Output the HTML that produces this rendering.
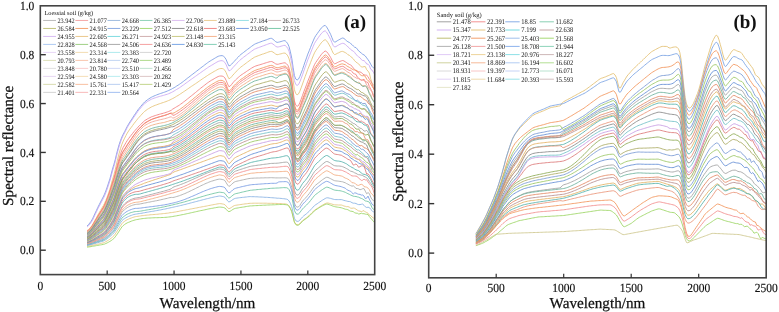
<!DOCTYPE html><html><head><meta charset="utf-8"><style>html,body{margin:0;padding:0;background:#fff;width:779px;height:312px;overflow:hidden}svg{display:block;will-change:transform}text{font-family:"Liberation Serif", serif;fill:#111;text-rendering:geometricPrecision}</style></head><body>
<svg width="779" height="312" viewBox="0 0 779 312">
<g fill="none" stroke-width="0.85" stroke-linejoin="round"><polyline points="87.1,225.9 88.5,224.6 89.8,223.0 91.1,221.3 92.5,218.9 93.8,216.1 95.1,213.2 96.5,210.3 97.8,207.4 99.2,204.7 100.5,202.1 101.8,199.5 103.2,197.0 104.5,194.2 105.8,191.0 107.2,187.1 108.5,183.1 109.9,178.9 111.2,174.0 112.5,169.0 113.9,164.4 115.2,159.8 116.5,154.2 117.9,148.9 119.2,144.4 120.6,140.3 121.9,137.0 123.2,134.3 124.6,131.7 125.9,129.1 127.2,126.5 128.6,124.1 129.9,122.0 131.3,119.9 132.6,117.9 133.9,115.8 135.3,113.8 136.6,111.8 137.9,109.9 139.3,108.2 140.6,106.5 142.0,104.9 143.3,103.4 144.6,102.0 146.0,100.9 147.3,99.9 148.6,99.0 150.0,98.1 151.3,97.3 152.7,96.6 154.0,96.0 155.3,95.5 156.7,94.9 158.0,94.4 159.3,93.9 160.7,93.4 162.0,93.0 163.4,92.5 164.7,92.1 166.0,91.6 167.4,91.0 168.7,90.5 170.0,89.8 171.4,89.2 172.7,88.4 174.1,87.7 175.4,86.9 176.7,86.0 178.1,85.2 179.4,84.3 180.7,83.4 182.1,82.4 183.4,81.4 184.8,80.3 186.1,79.3 187.4,78.2 188.8,77.2 190.1,76.2 191.4,75.1 192.8,74.1 194.1,73.1 195.5,72.0 196.8,71.0 198.1,70.0 199.5,68.9 200.8,67.9 202.1,66.9 203.5,65.9 204.8,64.8 206.2,63.8 207.5,62.8 208.8,61.9 210.2,61.0 211.5,60.2 212.9,59.4 214.2,58.6 215.5,57.8 216.9,57.0 218.2,56.3 219.5,55.9 220.9,55.7 222.2,55.6 223.6,56.3 224.9,57.5 226.2,59.7 227.6,63.2 228.9,65.9 230.2,65.5 231.6,64.2 232.9,62.8 234.3,61.3 235.6,59.9 236.9,58.4 238.3,57.0 239.6,55.6 240.9,54.4 242.3,53.4 243.6,52.4 245.0,51.3 246.3,50.3 247.6,49.3 249.0,48.3 250.3,47.3 251.6,46.3 253.0,45.3 254.3,44.4 255.7,43.7 257.0,43.2 258.3,42.7 259.7,42.2 261.0,41.7 262.3,41.2 263.7,40.7 265.0,40.3 266.4,39.8 267.7,39.3 269.0,38.8 270.4,38.4 271.7,38.4 273.0,39.3 274.4,40.5 275.7,41.7 277.1,42.4 278.4,42.2 279.7,41.9 281.1,41.5 282.4,41.1 283.7,40.7 285.1,40.7 286.4,41.9 287.8,43.8 289.1,46.8 290.4,51.9 291.8,58.5 293.1,67.3 294.4,75.5 295.8,79.1 297.1,80.0 298.5,79.1 299.8,76.5 301.1,73.2 302.5,69.5 303.8,65.6 305.1,61.8 306.5,57.9 307.8,54.1 309.2,50.8 310.5,47.5 311.8,44.2 313.2,40.9 314.5,37.8 315.8,35.6 317.2,33.7 318.5,31.8 319.9,29.9 321.2,28.1 322.5,26.9 323.9,25.8 325.2,25.4 326.5,26.8 327.9,29.1 329.2,31.6 330.6,34.3 331.9,37.6 333.2,40.7 334.6,42.2 335.9,41.7 337.2,40.8 338.6,40.0 339.9,39.3 341.3,38.5 342.6,38.0 343.9,38.4 345.3,39.6 346.6,40.8 347.9,41.8 349.3,42.4 350.6,43.5 352.0,44.6 353.3,46.0 354.6,47.2 356.0,47.6 357.3,49.1 358.6,50.9 360.0,52.0 361.3,53.1 362.7,54.3 364.0,54.9 365.3,56.0 366.7,57.9 368.0,59.7 369.3,61.5 370.7,64.2 372.0,66.4 373.4,67.8 374.7,68.9" stroke="#799ae3"/>
<polyline points="87.1,227.0 88.5,225.7 89.8,224.2 91.1,222.4 92.5,220.2 93.8,217.4 95.1,214.6 96.5,211.7 97.8,208.9 99.2,206.3 100.5,203.7 101.8,201.2 103.2,198.7 104.5,196.0 105.8,192.8 107.2,189.0 108.5,185.1 109.9,180.9 111.2,176.0 112.5,171.1 113.9,166.5 115.2,161.8 116.5,156.2 117.9,150.8 119.2,146.1 120.6,141.8 121.9,138.3 123.2,135.5 124.6,132.8 125.9,130.2 127.2,127.6 128.6,125.2 129.9,123.1 131.3,121.1 132.6,119.1 133.9,117.1 135.3,115.1 136.6,113.2 137.9,111.3 139.3,109.6 140.6,108.0 142.0,106.4 143.3,104.9 144.6,103.6 146.0,102.6 147.3,101.6 148.6,100.8 150.0,100.0 151.3,99.3 152.7,98.7 154.0,98.2 155.3,97.8 156.7,97.3 158.0,96.9 159.3,96.5 160.7,96.1 162.0,95.8 163.4,95.4 164.7,95.0 166.0,94.6 167.4,94.2 168.7,93.7 170.0,93.1 171.4,92.5 172.7,91.8 174.1,91.0 175.4,90.2 176.7,89.4 178.1,88.6 179.4,87.8 180.7,86.9 182.1,85.9 183.4,85.0 184.8,84.0 186.1,83.0 187.4,82.1 188.8,81.1 190.1,80.1 191.4,79.2 192.8,78.2 194.1,77.3 195.5,76.3 196.8,75.4 198.1,74.4 199.5,73.5 200.8,72.5 202.1,71.6 203.5,70.6 204.8,69.7 206.2,68.7 207.5,67.8 208.8,66.9 210.2,66.1 211.5,65.3 212.9,64.5 214.2,63.7 215.5,62.9 216.9,62.1 218.2,61.4 219.5,61.0 220.9,60.7 222.2,60.7 223.6,61.3 224.9,62.5 226.2,64.8 227.6,68.2 228.9,70.8 230.2,70.5 231.6,69.1 232.9,67.6 234.3,66.1 235.6,64.7 236.9,63.2 238.3,61.8 239.6,60.5 240.9,59.3 242.3,58.3 243.6,57.2 245.0,56.2 246.3,55.2 247.6,54.2 249.0,53.2 250.3,52.2 251.6,51.2 253.0,50.2 254.3,49.3 255.7,48.7 257.0,48.1 258.3,47.7 259.7,47.2 261.0,46.7 262.3,46.2 263.7,45.7 265.0,45.2 266.4,44.7 267.7,44.2 269.0,43.7 270.4,43.3 271.7,43.3 273.0,44.1 274.4,45.2 275.7,46.3 277.1,47.0 278.4,46.9 279.7,46.6 281.1,46.2 282.4,45.8 283.7,45.4 285.1,45.4 286.4,46.5 287.8,48.4 289.1,51.4 290.4,56.5 291.8,63.2 293.1,72.2 294.4,80.7 295.8,84.5 297.1,85.4 298.5,84.5 299.8,81.9 301.1,78.6 302.5,74.8 303.8,71.0 305.1,67.3 306.5,63.5 307.8,59.8 309.2,56.4 310.5,53.1 311.8,49.8 313.2,46.4 314.5,43.4 315.8,41.2 317.2,39.3 318.5,37.3 319.9,35.4 321.2,33.7 322.5,32.4 323.9,31.3 325.2,30.8 326.5,32.1 327.9,34.3 329.2,36.7 330.6,39.4 331.9,42.6 333.2,45.5 334.6,47.0 335.9,46.6 337.2,45.8 338.6,45.0 339.9,44.3 341.3,43.7 342.6,43.3 343.9,43.5 345.3,44.4 346.6,45.7 347.9,46.8 349.3,48.0 350.6,49.4 352.0,50.5 353.3,51.1 354.6,52.4 356.0,54.5 357.3,55.6 358.6,56.8 360.0,57.8 361.3,59.5 362.7,60.5 364.0,60.6 365.3,61.8 366.7,64.0 368.0,64.2 369.3,65.6 370.7,69.2 372.0,70.0 373.4,72.3 374.7,74.5" stroke="#caa6f2"/>
<polyline points="87.1,230.6 88.5,229.5 89.8,228.2 91.1,226.7 92.5,224.7 93.8,222.4 95.1,219.9 96.5,217.5 97.8,215.0 99.2,212.7 100.5,210.4 101.8,208.2 103.2,205.9 104.5,203.4 105.8,200.4 107.2,196.9 108.5,193.2 109.9,189.1 111.2,184.4 112.5,179.6 113.9,174.9 115.2,169.9 116.5,164.0 117.9,158.2 119.2,153.1 120.6,148.3 121.9,144.3 123.2,141.1 124.6,138.2 125.9,135.6 127.2,133.2 128.6,131.0 129.9,129.1 131.3,127.3 132.6,125.5 133.9,123.7 135.3,121.9 136.6,120.3 137.9,118.6 139.3,117.1 140.6,115.6 142.0,114.1 143.3,112.7 144.6,111.4 146.0,110.4 147.3,109.4 148.6,108.6 150.0,107.8 151.3,107.0 152.7,106.4 154.0,105.8 155.3,105.3 156.7,104.8 158.0,104.3 159.3,103.8 160.7,103.4 162.0,102.9 163.4,102.5 164.7,102.0 166.0,101.6 167.4,101.0 168.7,100.5 170.0,99.9 171.4,99.2 172.7,98.5 174.1,97.8 175.4,97.0 176.7,96.2 178.1,95.4 179.4,94.6 180.7,93.7 182.1,92.8 183.4,91.9 184.8,91.0 186.1,90.1 187.4,89.2 188.8,88.2 190.1,87.3 191.4,86.4 192.8,85.5 194.1,84.6 195.5,83.7 196.8,82.8 198.1,81.9 199.5,80.9 200.8,80.0 202.1,79.1 203.5,78.2 204.8,77.3 206.2,76.4 207.5,75.5 208.8,74.6 210.2,73.8 211.5,73.0 212.9,72.2 214.2,71.4 215.5,70.7 216.9,69.9 218.2,69.2 219.5,68.7 220.9,68.5 222.2,68.5 223.6,69.1 224.9,70.3 226.2,72.7 227.6,76.1 228.9,78.7 230.2,78.2 231.6,76.7 232.9,75.1 234.3,73.6 235.6,72.2 236.9,70.8 238.3,69.4 239.6,68.1 240.9,67.0 242.3,66.0 243.6,65.0 245.0,64.0 246.3,63.0 247.6,62.0 249.0,61.0 250.3,60.1 251.6,59.1 253.0,58.2 254.3,57.3 255.7,56.7 257.0,56.2 258.3,55.7 259.7,55.2 261.0,54.7 262.3,54.2 263.7,53.8 265.0,53.3 266.4,52.8 267.7,52.3 269.0,51.8 270.4,51.5 271.7,51.4 273.0,52.1 274.4,53.1 275.7,54.1 277.1,54.7 278.4,54.5 279.7,54.1 281.1,53.8 282.4,53.4 283.7,53.1 285.1,53.1 286.4,54.1 287.8,55.9 289.1,58.9 290.4,64.1 291.8,70.9 293.1,80.5 294.4,89.7 295.8,93.7 297.1,94.8 298.5,93.9 299.8,91.3 301.1,87.9 302.5,84.0 303.8,80.3 305.1,76.7 306.5,73.0 307.8,69.3 309.2,66.0 310.5,62.7 311.8,59.3 313.2,55.9 314.5,52.8 315.8,50.6 317.2,48.6 318.5,46.7 319.9,44.7 321.2,42.9 322.5,41.5 323.9,40.3 325.2,39.7 326.5,40.7 327.9,42.7 329.2,44.9 330.6,47.4 331.9,50.4 333.2,53.2 334.6,54.6 335.9,54.2 337.2,53.4 338.6,52.8 339.9,52.1 341.3,51.5 342.6,51.4 343.9,51.9 345.3,52.6 346.6,53.4 347.9,54.7 349.3,55.3 350.6,56.5 352.0,57.6 353.3,58.8 354.6,60.7 356.0,62.1 357.3,63.0 358.6,63.8 360.0,65.6 361.3,66.9 362.7,67.0 364.0,66.6 365.3,66.6 366.7,69.7 368.0,71.1 369.3,73.0 370.7,78.8 372.0,83.0 373.4,85.1 374.7,85.9" stroke="#e5c377"/>
<polyline points="87.1,231.4 88.5,230.3 89.8,229.0 91.1,227.5 92.5,225.6 93.8,223.4 95.1,221.1 96.5,218.7 97.8,216.4 99.2,214.2 100.5,212.0 101.8,209.9 103.2,207.7 104.5,205.3 105.8,202.3 107.2,198.8 108.5,195.1 109.9,191.2 111.2,186.9 112.5,182.4 113.9,178.1 115.2,173.4 116.5,168.0 117.9,162.7 119.2,158.0 120.6,153.7 121.9,150.1 123.2,147.4 124.6,145.0 125.9,142.7 127.2,140.6 128.6,138.6 129.9,136.8 131.3,135.1 132.6,133.4 133.9,131.8 135.3,130.2 136.6,128.7 137.9,127.2 139.3,125.8 140.6,124.5 142.0,123.1 143.3,121.9 144.6,120.7 146.0,119.8 147.3,119.0 148.6,118.3 150.0,117.6 151.3,116.9 152.7,116.4 154.0,116.0 155.3,115.5 156.7,115.1 158.0,114.7 159.3,114.3 160.7,113.9 162.0,113.6 163.4,113.2 164.7,112.8 166.0,112.4 167.4,111.9 168.7,111.4 170.0,110.9 171.4,110.2 172.7,109.1 174.1,108.3 175.4,107.5 176.7,106.7 178.1,105.9 179.4,105.1 180.7,104.1 182.1,103.2 183.4,102.1 184.8,101.1 186.1,100.1 187.4,99.0 188.8,97.9 190.1,96.8 191.4,95.8 192.8,94.7 194.1,93.6 195.5,92.5 196.8,91.4 198.1,90.3 199.5,89.2 200.8,88.1 202.1,87.1 203.5,86.0 204.8,85.0 206.2,83.9 207.5,82.9 208.8,82.0 210.2,81.1 211.5,80.2 212.9,79.5 214.2,78.7 215.5,77.9 216.9,77.2 218.2,76.5 219.5,76.1 220.9,76.0 222.2,76.1 223.6,76.7 224.9,77.9 226.2,80.5 227.6,84.1 228.9,86.7 230.2,86.1 231.6,84.5 232.9,82.8 234.3,81.2 235.6,79.9 236.9,78.7 238.3,77.4 239.6,76.3 240.9,75.2 242.3,74.3 243.6,73.4 245.0,72.5 246.3,71.6 247.6,70.7 249.0,69.8 250.3,68.9 251.6,68.1 253.0,67.3 254.3,66.6 255.7,66.0 257.0,65.6 258.3,65.2 259.7,64.8 261.0,64.4 262.3,64.0 263.7,63.5 265.0,63.1 266.4,62.7 267.7,62.3 269.0,61.9 270.4,61.6 271.7,61.5 273.0,62.1 274.4,63.0 275.7,63.9 277.1,64.3 278.4,64.2 279.7,63.8 281.1,63.5 282.4,63.2 283.7,62.9 285.1,62.8 286.4,63.7 287.8,65.2 289.1,68.2 290.4,73.4 291.8,80.4 293.1,90.8 294.4,100.8 295.8,105.2 297.1,106.3 298.5,105.5 299.8,102.8 301.1,99.3 302.5,95.4 303.8,91.8 305.1,88.4 306.5,84.8 307.8,81.2 309.2,77.9 310.5,74.6 311.8,71.2 313.2,67.8 314.5,64.6 315.8,62.4 317.2,60.4 318.5,58.5 319.9,56.5 321.2,54.7 322.5,53.2 323.9,51.8 325.2,51.0 326.5,51.6 327.9,53.2 329.2,55.2 330.6,57.4 331.9,60.0 333.2,62.5 334.6,63.8 335.9,63.4 337.2,62.7 338.6,62.0 339.9,61.4 341.3,60.9 342.6,60.5 343.9,60.9 345.3,61.8 346.6,62.6 347.9,63.6 349.3,64.4 350.6,65.0 352.0,66.2 353.3,68.0 354.6,69.4 356.0,70.9 357.3,71.8 358.6,71.8 360.0,72.0 361.3,72.4 362.7,74.0 364.0,74.8 365.3,75.1 366.7,75.3 368.0,76.6 369.3,79.3 370.7,81.1 372.0,83.7 373.4,87.7 374.7,90.5" stroke="#f27e7e"/>
<polyline points="87.1,231.5 88.5,230.4 89.8,229.0 91.1,227.5 92.5,225.6 93.8,223.4 95.1,221.1 96.5,218.8 97.8,216.5 99.2,214.3 100.5,212.1 101.8,210.0 103.2,207.9 104.5,205.5 105.8,202.4 107.2,199.0 108.5,195.4 109.9,191.7 111.2,187.5 112.5,183.4 113.9,179.4 115.2,175.0 116.5,170.0 117.9,165.1 119.2,160.8 120.6,156.9 121.9,153.6 123.2,151.2 124.6,149.0 125.9,146.9 127.2,144.7 128.6,142.6 129.9,140.7 131.3,138.8 132.6,137.0 133.9,135.1 135.3,133.3 136.6,131.7 137.9,130.1 139.3,128.7 140.6,127.3 142.0,126.0 143.3,124.7 144.6,123.6 146.0,122.6 147.3,121.8 148.6,121.1 150.0,120.3 151.3,119.7 152.7,119.1 154.0,118.6 155.3,118.2 156.7,117.7 158.0,117.3 159.3,116.9 160.7,116.5 162.0,116.1 163.4,115.7 164.7,115.3 166.0,114.9 167.4,114.4 168.7,113.9 170.0,113.3 171.4,113.0 172.7,113.3 174.1,112.9 175.4,112.1 176.7,111.3 178.1,110.5 179.4,109.7 180.7,108.8 182.1,107.8 183.4,106.8 184.8,105.7 186.1,104.7 187.4,103.6 188.8,102.5 190.1,101.4 191.4,100.4 192.8,99.3 194.1,98.1 195.5,97.0 196.8,95.9 198.1,94.8 199.5,93.7 200.8,92.6 202.1,91.5 203.5,90.5 204.8,89.4 206.2,88.4 207.5,87.3 208.8,86.4 210.2,85.5 211.5,84.6 212.9,83.8 214.2,83.1 215.5,82.3 216.9,81.6 218.2,80.9 219.5,80.5 220.9,80.3 222.2,80.5 223.6,81.0 224.9,82.3 226.2,84.9 227.6,88.5 228.9,91.0 230.2,90.3 231.6,88.7 232.9,87.0 234.3,85.3 235.6,84.0 236.9,82.8 238.3,81.6 239.6,80.4 240.9,79.4 242.3,78.5 243.6,77.6 245.0,76.6 246.3,75.7 247.6,74.8 249.0,73.9 250.3,73.1 251.6,72.2 253.0,71.5 254.3,70.7 255.7,70.2 257.0,69.7 258.3,69.3 259.7,68.9 261.0,68.4 262.3,68.0 263.7,67.5 265.0,67.1 266.4,66.7 267.7,66.2 269.0,65.8 270.4,65.5 271.7,65.4 273.0,65.9 274.4,66.7 275.7,67.4 277.1,67.8 278.4,67.6 279.7,67.3 281.1,66.9 282.4,66.6 283.7,66.2 285.1,66.1 286.4,66.9 287.8,68.3 289.1,71.2 290.4,76.4 291.8,83.4 293.1,94.2 294.4,104.5 295.8,109.1 297.1,110.3 298.5,109.4 299.8,106.7 301.1,103.1 302.5,99.3 303.8,95.8 305.1,92.4 306.5,88.9 307.8,85.3 309.2,82.0 310.5,78.6 311.8,75.2 313.2,71.8 314.5,68.6 315.8,66.4 317.2,64.5 318.5,62.6 319.9,60.6 321.2,58.8 322.5,57.2 323.9,55.9 325.2,54.9 326.5,55.4 327.9,56.9 329.2,58.7 330.6,60.9 331.9,63.4 333.2,65.7 334.6,66.9 335.9,66.6 337.2,65.8 338.6,65.1 339.9,64.5 341.3,64.0 342.6,63.9 343.9,64.3 345.3,64.7 346.6,65.8 347.9,66.6 349.3,67.3 350.6,68.1 352.0,69.0 353.3,69.8 354.6,70.0 356.0,70.3 357.3,70.7 358.6,73.1 360.0,74.4 361.3,75.5 362.7,75.8 364.0,75.6 365.3,76.4 366.7,79.2 368.0,80.7 369.3,81.4 370.7,83.9 372.0,86.2 373.4,88.3 374.7,90.4" stroke="#f2945a"/>
<polyline points="87.1,231.5 88.5,230.5 89.8,229.1 91.1,227.6 92.5,225.7 93.8,223.4 95.1,221.2 96.5,218.9 97.8,216.6 99.2,214.4 100.5,212.3 101.8,210.2 103.2,208.1 104.5,205.7 105.8,202.6 107.2,199.2 108.5,195.6 109.9,191.9 111.2,187.8 112.5,183.7 113.9,179.8 115.2,175.4 116.5,170.4 117.9,165.6 119.2,161.3 120.6,157.3 121.9,154.1 123.2,151.7 124.6,149.6 125.9,147.4 127.2,145.3 128.6,143.1 129.9,141.1 131.3,139.2 132.6,137.2 133.9,135.2 135.3,133.3 136.6,131.5 137.9,129.9 139.3,128.4 140.6,126.9 142.0,125.6 143.3,124.4 144.6,123.2 146.0,122.3 147.3,121.5 148.6,120.8 150.0,120.1 151.3,119.5 152.7,118.9 154.0,118.5 155.3,118.0 156.7,117.6 158.0,117.2 159.3,116.8 160.7,116.5 162.0,116.1 163.4,115.8 164.7,115.4 166.0,115.0 167.4,114.5 168.7,114.0 170.0,113.4 171.4,113.6 172.7,115.2 174.1,115.2 175.4,114.5 176.7,113.7 178.1,112.9 179.4,112.0 180.7,111.1 182.1,110.1 183.4,109.1 184.8,108.1 186.1,107.0 187.4,106.0 188.8,104.9 190.1,103.8 191.4,102.7 192.8,101.6 194.1,100.4 195.5,99.3 196.8,98.2 198.1,97.1 199.5,96.0 200.8,94.9 202.1,93.7 203.5,92.7 204.8,91.6 206.2,90.5 207.5,89.5 208.8,88.5 210.2,87.6 211.5,86.8 212.9,85.9 214.2,85.2 215.5,84.4 216.9,83.6 218.2,82.9 219.5,82.5 220.9,82.4 222.2,82.5 223.6,83.1 224.9,84.3 226.2,86.9 227.6,90.5 228.9,93.0 230.2,92.3 231.6,90.6 232.9,88.9 234.3,87.2 235.6,85.9 236.9,84.7 238.3,83.5 239.6,82.4 240.9,81.3 242.3,80.4 243.6,79.5 245.0,78.6 246.3,77.7 247.6,76.8 249.0,75.9 250.3,75.0 251.6,74.3 253.0,73.5 254.3,72.7 255.7,72.2 257.0,71.8 258.3,71.3 259.7,70.9 261.0,70.5 262.3,70.0 263.7,69.6 265.0,69.1 266.4,68.7 267.7,68.3 269.0,67.8 270.4,67.5 271.7,67.4 273.0,67.8 274.4,68.6 275.7,69.3 277.1,69.6 278.4,69.4 279.7,69.1 281.1,68.7 282.4,68.3 283.7,67.9 285.1,67.7 286.4,68.3 287.8,69.7 289.1,72.5 290.4,77.6 291.8,84.6 293.1,95.5 294.4,106.1 295.8,110.7 297.1,111.9 298.5,111.1 299.8,108.5 301.1,104.9 302.5,101.1 303.8,97.7 305.1,94.4 306.5,90.9 307.8,87.4 309.2,84.1 310.5,80.7 311.8,77.3 313.2,73.8 314.5,70.7 315.8,68.5 317.2,66.5 318.5,64.6 319.9,62.6 321.2,60.8 322.5,59.3 323.9,57.9 325.2,56.9 326.5,57.4 327.9,58.8 329.2,60.7 330.6,62.8 331.9,65.3 333.2,67.7 334.6,68.9 335.9,68.6 337.2,68.0 338.6,67.4 339.9,66.9 341.3,66.5 342.6,66.3 343.9,66.8 345.3,67.9 346.6,68.8 347.9,69.6 349.3,70.4 350.6,70.2 352.0,71.6 353.3,73.3 354.6,73.9 356.0,74.4 357.3,77.1 358.6,78.1 360.0,79.3 361.3,80.4 362.7,79.9 364.0,79.2 365.3,81.5 366.7,82.0 368.0,82.6 369.3,86.5 370.7,88.9 372.0,91.9 373.4,96.3 374.7,98.0" stroke="#f27979"/>
<polyline points="87.1,232.0 88.5,231.0 89.8,229.6 91.1,228.1 92.5,226.3 93.8,224.1 95.1,221.9 96.5,219.7 97.8,217.5 99.2,215.3 100.5,213.3 101.8,211.2 103.2,209.2 104.5,206.9 105.8,203.9 107.2,200.5 108.5,197.0 109.9,193.4 111.2,189.5 112.5,185.5 113.9,181.7 115.2,177.4 116.5,172.5 117.9,167.8 119.2,163.6 120.6,159.7 121.9,156.5 123.2,154.2 124.6,152.2 125.9,150.1 127.2,148.0 128.6,145.9 129.9,143.9 131.3,141.9 132.6,139.9 133.9,137.8 135.3,135.8 136.6,133.9 137.9,132.2 139.3,130.7 140.6,129.3 142.0,128.0 143.3,126.7 144.6,125.7 146.0,124.8 147.3,124.1 148.6,123.4 150.0,122.7 151.3,122.2 152.7,121.7 154.0,121.3 155.3,120.9 156.7,120.6 158.0,120.2 159.3,119.9 160.7,119.6 162.0,119.3 163.4,119.0 164.7,118.7 166.0,118.3 167.4,117.9 168.7,117.5 170.0,116.9 171.4,116.9 172.7,118.0 174.1,117.9 175.4,117.1 176.7,116.4 178.1,115.5 179.4,114.7 180.7,113.8 182.1,112.8 183.4,111.7 184.8,110.7 186.1,109.6 187.4,108.5 188.8,107.3 190.1,106.2 191.4,105.1 192.8,103.9 194.1,102.7 195.5,101.6 196.8,100.4 198.1,99.2 199.5,98.1 200.8,96.9 202.1,95.8 203.5,94.7 204.8,93.5 206.2,92.5 207.5,91.4 208.8,90.4 210.2,89.5 211.5,88.6 212.9,87.8 214.2,87.0 215.5,86.3 216.9,85.6 218.2,84.9 219.5,84.4 220.9,84.3 222.2,84.5 223.6,85.1 224.9,86.3 226.2,89.0 227.6,92.6 228.9,95.1 230.2,94.4 231.6,92.7 232.9,90.9 234.3,89.3 235.6,88.0 236.9,86.8 238.3,85.6 239.6,84.5 240.9,83.5 242.3,82.6 243.6,81.7 245.0,80.8 246.3,79.9 247.6,79.0 249.0,78.1 250.3,77.3 251.6,76.5 253.0,75.8 254.3,75.1 255.7,74.5 257.0,74.1 258.3,73.7 259.7,73.2 261.0,72.8 262.3,72.4 263.7,72.0 265.0,71.5 266.4,71.1 267.7,70.7 269.0,70.3 270.4,69.9 271.7,69.8 273.0,70.3 274.4,71.0 275.7,71.7 277.1,72.0 278.4,71.8 279.7,71.5 281.1,71.1 282.4,70.7 283.7,70.3 285.1,70.0 286.4,70.5 287.8,71.7 289.1,74.4 290.4,79.4 291.8,86.5 293.1,97.4 294.4,108.2 295.8,112.9 297.1,114.2 298.5,113.4 299.8,110.8 301.1,107.3 302.5,103.6 303.8,100.3 305.1,97.1 306.5,93.8 307.8,90.3 309.2,86.9 310.5,83.6 311.8,80.2 313.2,76.7 314.5,73.5 315.8,71.3 317.2,69.4 318.5,67.5 319.9,65.5 321.2,63.6 322.5,62.1 323.9,60.7 325.2,59.7 326.5,60.1 327.9,61.5 329.2,63.3 330.6,65.4 331.9,67.8 333.2,70.1 334.6,71.3 335.9,71.0 337.2,70.4 338.6,69.9 339.9,69.4 341.3,68.8 342.6,68.6 343.9,69.3 345.3,70.3 346.6,71.3 347.9,72.2 349.3,72.9 350.6,73.7 352.0,75.1 353.3,76.3 354.6,77.0 356.0,77.9 357.3,78.5 358.6,78.7 360.0,79.5 361.3,79.7 362.7,80.0 364.0,80.5 365.3,82.0 366.7,84.9 368.0,87.0 369.3,89.0 370.7,90.0 372.0,91.4 373.4,94.8 374.7,96.9" stroke="#f2a496"/>
<polyline points="87.1,232.6 88.5,231.5 89.8,230.2 91.1,228.8 92.5,227.0 93.8,224.9 95.1,222.8 96.5,220.6 97.8,218.5 99.2,216.4 100.5,214.4 101.8,212.5 103.2,210.5 104.5,208.2 105.8,205.3 107.2,202.0 108.5,198.7 109.9,195.2 111.2,191.3 112.5,187.5 113.9,183.7 115.2,179.6 116.5,174.8 117.9,170.2 119.2,166.1 120.6,162.3 121.9,159.1 123.2,156.9 124.6,154.9 125.9,152.9 127.2,150.9 128.6,148.9 129.9,146.9 131.3,144.9 132.6,142.8 133.9,140.7 135.3,138.7 136.6,136.9 137.9,135.2 139.3,133.6 140.6,132.2 142.0,130.9 143.3,129.8 144.6,128.7 146.0,127.9 147.3,127.2 148.6,126.5 150.0,125.9 151.3,125.4 152.7,125.0 154.0,124.6 155.3,124.3 156.7,123.9 158.0,123.6 159.3,123.3 160.7,123.1 162.0,122.8 163.4,122.6 164.7,122.3 166.0,121.9 167.4,121.5 168.7,121.1 170.0,120.6 171.4,120.3 172.7,120.6 174.1,120.2 175.4,119.4 176.7,118.7 178.1,117.9 179.4,117.0 180.7,116.1 182.1,115.1 183.4,114.1 184.8,113.0 186.1,111.9 187.4,110.8 188.8,109.7 190.1,108.6 191.4,107.4 192.8,106.3 194.1,105.1 195.5,104.0 196.8,102.8 198.1,101.6 199.5,100.5 200.8,99.3 202.1,98.2 203.5,97.1 204.8,96.0 206.2,94.9 207.5,93.9 208.8,92.9 210.2,92.0 211.5,91.1 212.9,90.3 214.2,89.6 215.5,88.9 216.9,88.1 218.2,87.5 219.5,87.1 220.9,87.0 222.2,87.1 223.6,87.7 224.9,88.9 226.2,91.7 227.6,95.3 228.9,97.8 230.2,97.1 231.6,95.3 232.9,93.6 234.3,91.9 235.6,90.6 236.9,89.5 238.3,88.4 239.6,87.3 240.9,86.3 242.3,85.4 243.6,84.5 245.0,83.7 246.3,82.8 247.6,81.9 249.0,81.1 250.3,80.3 251.6,79.5 253.0,78.8 254.3,78.1 255.7,77.6 257.0,77.2 258.3,76.8 259.7,76.4 261.0,76.0 262.3,75.6 263.7,75.1 265.0,74.7 266.4,74.3 267.7,73.9 269.0,73.5 270.4,73.2 271.7,73.1 273.0,73.5 274.4,74.2 275.7,74.9 277.1,75.2 278.4,75.0 279.7,74.7 281.1,74.4 282.4,74.0 283.7,73.5 285.1,73.2 286.4,73.6 287.8,74.7 289.1,77.4 290.4,82.3 291.8,89.3 293.1,100.3 294.4,111.1 295.8,115.9 297.1,117.2 298.5,116.5 299.8,114.0 301.1,110.5 302.5,106.9 303.8,103.8 305.1,100.7 306.5,97.5 307.8,94.1 309.2,90.8 310.5,87.5 311.8,84.1 313.2,80.6 314.5,77.4 315.8,75.2 317.2,73.3 318.5,71.3 319.9,69.3 321.2,67.5 322.5,65.9 323.9,64.5 325.2,63.4 326.5,63.7 327.9,65.0 329.2,66.8 330.6,68.8 331.9,71.2 333.2,73.4 334.6,74.6 335.9,74.4 337.2,73.8 338.6,73.3 339.9,72.8 341.3,72.3 342.6,72.3 343.9,72.6 345.3,73.4 346.6,74.4 347.9,75.3 349.3,76.0 350.6,76.7 352.0,78.2 353.3,79.7 354.6,81.1 356.0,82.2 357.3,82.6 358.6,82.3 360.0,83.2 361.3,85.5 362.7,85.6 364.0,85.7 365.3,86.3 366.7,87.3 368.0,90.1 369.3,92.6 370.7,94.5 372.0,98.3 373.4,100.7 374.7,101.5" stroke="#f2aa7e"/>
<polyline points="87.1,233.1 88.5,232.1 89.8,230.8 91.1,229.4 92.5,227.7 93.8,225.7 95.1,223.6 96.5,221.6 97.8,219.5 99.2,217.5 100.5,215.6 101.8,213.7 103.2,211.8 104.5,209.6 105.8,206.8 107.2,203.6 108.5,200.3 109.9,196.9 111.2,193.2 112.5,189.4 113.9,185.8 115.2,181.7 116.5,177.0 117.9,172.5 119.2,168.5 120.6,164.7 121.9,161.6 123.2,159.4 124.6,157.5 125.9,155.5 127.2,153.5 128.6,151.5 129.9,149.6 131.3,147.6 132.6,145.6 133.9,143.6 135.3,141.6 136.6,139.8 137.9,138.1 139.3,136.6 140.6,135.2 142.0,134.0 143.3,132.8 144.6,131.8 146.0,131.0 147.3,130.3 148.6,129.7 150.0,129.1 151.3,128.6 152.7,128.1 154.0,127.8 155.3,127.4 156.7,127.1 158.0,126.8 159.3,126.5 160.7,126.3 162.0,126.0 163.4,125.7 164.7,125.4 166.0,125.1 167.4,124.7 168.7,124.3 170.0,123.8 171.4,123.3 172.7,122.6 174.1,122.0 175.4,121.2 176.7,120.5 178.1,119.7 179.4,118.8 180.7,117.9 182.1,117.0 183.4,116.0 184.8,114.9 186.1,113.9 187.4,112.8 188.8,111.7 190.1,110.6 191.4,109.5 192.8,108.4 194.1,107.3 195.5,106.1 196.8,105.0 198.1,103.9 199.5,102.8 200.8,101.6 202.1,100.5 203.5,99.5 204.8,98.4 206.2,97.3 207.5,96.3 208.8,95.4 210.2,94.5 211.5,93.7 212.9,92.9 214.2,92.1 215.5,91.4 216.9,90.7 218.2,90.0 219.5,89.6 220.9,89.6 222.2,89.7 223.6,90.3 224.9,91.5 226.2,94.3 227.6,97.9 228.9,100.3 230.2,99.6 231.6,97.9 232.9,96.2 234.3,94.5 235.6,93.3 236.9,92.2 238.3,91.1 239.6,90.0 240.9,89.0 242.3,88.2 243.6,87.3 245.0,86.5 246.3,85.7 247.6,84.8 249.0,84.0 250.3,83.2 251.6,82.5 253.0,81.8 254.3,81.1 255.7,80.7 257.0,80.3 258.3,79.9 259.7,79.5 261.0,79.1 262.3,78.7 263.7,78.3 265.0,77.9 266.4,77.5 267.7,77.2 269.0,76.8 270.4,76.5 271.7,76.4 273.0,76.8 274.4,77.4 275.7,78.1 277.1,77.9 278.4,76.4 279.7,75.6 281.1,75.2 282.4,74.8 283.7,74.4 285.1,74.1 286.4,74.4 287.8,75.5 289.1,78.1 290.4,83.1 291.8,90.1 293.1,101.2 294.4,112.2 295.8,117.0 297.1,118.4 298.5,117.7 299.8,115.2 301.1,111.9 302.5,108.3 303.8,105.3 305.1,102.3 306.5,99.2 307.8,95.8 309.2,92.5 310.5,89.2 311.8,85.7 313.2,82.2 314.5,79.0 315.8,76.7 317.2,74.8 318.5,72.8 319.9,70.8 321.2,68.8 322.5,67.2 323.9,65.7 325.2,64.6 326.5,64.8 327.9,66.1 329.2,67.8 330.6,69.8 331.9,72.1 333.2,74.3 334.6,75.4 335.9,75.2 337.2,74.6 338.6,74.0 339.9,73.5 341.3,73.1 342.6,73.3 343.9,73.9 345.3,74.4 346.6,75.1 347.9,76.3 349.3,77.0 350.6,78.0 352.0,79.1 353.3,80.2 354.6,81.1 356.0,81.7 357.3,82.5 358.6,83.3 360.0,83.4 361.3,84.9 362.7,86.6 364.0,86.4 365.3,85.5 366.7,87.0 368.0,89.7 369.3,93.7 370.7,96.2 372.0,99.0 373.4,101.1 374.7,103.0" stroke="#6ab19b"/>
<polyline points="87.1,233.5 88.5,232.5 89.8,231.2 91.1,229.9 92.5,228.2 93.8,226.2 95.1,224.2 96.5,222.2 97.8,220.1 99.2,218.2 100.5,216.3 101.8,214.5 103.2,212.6 104.5,210.5 105.8,207.7 107.2,204.6 108.5,201.4 109.9,198.0 111.2,194.4 112.5,190.8 113.9,187.2 115.2,183.2 116.5,178.6 117.9,174.2 119.2,170.3 120.6,166.6 121.9,163.5 123.2,161.4 124.6,159.5 125.9,157.7 127.2,155.7 128.6,153.8 129.9,151.9 131.3,149.9 132.6,147.9 133.9,145.8 135.3,143.8 136.6,141.9 137.9,140.2 139.3,138.7 140.6,137.3 142.0,136.1 143.3,135.0 144.6,134.0 146.0,133.2 147.3,132.5 148.6,131.8 150.0,131.2 151.3,130.7 152.7,130.3 154.0,129.9 155.3,129.5 156.7,129.2 158.0,128.9 159.3,128.6 160.7,128.3 162.0,128.0 163.4,127.7 164.7,127.4 166.0,127.1 167.4,126.7 168.7,126.2 170.0,125.7 171.4,125.2 172.7,124.6 174.1,123.9 175.4,123.2 176.7,122.4 178.1,121.7 179.4,120.9 180.7,120.0 182.1,119.1 183.4,118.2 184.8,117.2 186.1,116.2 187.4,115.3 188.8,114.3 190.1,113.2 191.4,112.2 192.8,111.2 194.1,110.2 195.5,109.2 196.8,108.1 198.1,107.1 199.5,106.1 200.8,105.1 202.1,104.1 203.5,103.1 204.8,102.1 206.2,101.2 207.5,100.2 208.8,99.3 210.2,98.5 211.5,97.7 212.9,97.0 214.2,96.2 215.5,95.5 216.9,94.8 218.2,94.2 219.5,93.8 220.9,93.7 222.2,93.9 223.6,94.5 224.9,95.7 226.2,98.4 227.6,101.9 228.9,104.3 230.2,103.6 231.6,101.9 232.9,100.1 234.3,98.5 235.6,97.3 236.9,96.2 238.3,95.1 239.6,94.1 240.9,93.2 242.3,92.3 243.6,91.5 245.0,90.7 246.3,89.8 247.6,89.0 249.0,88.2 250.3,87.4 251.6,86.7 253.0,86.0 254.3,85.4 255.7,84.9 257.0,84.5 258.3,84.2 259.7,83.8 261.0,83.4 262.3,83.0 263.7,82.6 265.0,82.2 266.4,81.9 267.7,81.5 269.0,81.1 270.4,80.8 271.7,80.7 273.0,81.1 274.4,81.7 275.7,82.3 277.1,82.6 278.4,82.4 279.7,82.1 281.1,81.7 282.4,81.4 283.7,80.9 285.1,80.6 286.4,80.9 287.8,81.9 289.1,84.5 290.4,89.3 291.8,96.1 293.1,107.0 294.4,117.8 295.8,122.6 297.1,123.9 298.5,123.3 299.8,121.0 301.1,117.7 302.5,114.4 303.8,111.5 305.1,108.7 306.5,105.8 307.8,102.5 309.2,99.3 310.5,96.1 311.8,92.7 313.2,89.3 314.5,86.1 315.8,83.9 317.2,81.9 318.5,80.0 319.9,78.0 321.2,76.1 322.5,74.5 323.9,73.0 325.2,71.9 326.5,72.0 327.9,73.2 329.2,74.9 330.6,76.8 331.9,79.0 333.2,81.1 334.6,82.2 335.9,82.0 337.2,81.4 338.6,80.9 339.9,80.5 341.3,80.2 342.6,80.2 343.9,80.5 345.3,81.4 346.6,82.5 347.9,83.7 349.3,84.2 350.6,85.0 352.0,86.1 353.3,87.2 354.6,88.1 356.0,89.1 357.3,89.6 358.6,89.6 360.0,91.0 361.3,92.4 362.7,92.7 364.0,93.7 365.3,94.7 366.7,95.4 368.0,96.6 369.3,99.5 370.7,102.8 372.0,105.4 373.4,106.9 374.7,107.9" stroke="#aaaa62"/>
<polyline points="87.1,233.7 88.5,232.7 89.8,231.5 91.1,230.1 92.5,228.4 93.8,226.5 95.1,224.5 96.5,222.5 97.8,220.6 99.2,218.7 100.5,216.8 101.8,215.0 103.2,213.2 104.5,211.0 105.8,208.3 107.2,205.2 108.5,202.0 109.9,198.7 111.2,195.2 112.5,191.5 113.9,188.0 115.2,184.0 116.5,179.4 117.9,175.1 119.2,171.1 120.6,167.4 121.9,164.3 123.2,162.2 124.6,160.4 125.9,158.5 127.2,156.6 128.6,154.7 129.9,152.8 131.3,150.9 132.6,148.9 133.9,146.8 135.3,144.8 136.6,143.0 137.9,141.3 139.3,139.8 140.6,138.5 142.0,137.3 143.3,136.2 144.6,135.2 146.0,134.4 147.3,133.7 148.6,133.1 150.0,132.5 151.3,132.0 152.7,131.6 154.0,131.2 155.3,130.9 156.7,130.5 158.0,130.2 159.3,129.9 160.7,129.7 162.0,129.4 163.4,129.1 164.7,128.8 166.0,128.5 167.4,128.1 168.7,127.7 170.0,127.2 171.4,126.8 172.7,126.8 174.1,126.4 175.4,125.7 176.7,124.9 178.1,124.2 179.4,123.4 180.7,122.5 182.1,121.6 183.4,120.7 184.8,119.8 186.1,118.8 187.4,117.8 188.8,116.8 190.1,115.8 191.4,114.8 192.8,113.8 194.1,112.8 195.5,111.8 196.8,110.8 198.1,109.8 199.5,108.8 200.8,107.8 202.1,106.8 203.5,105.8 204.8,104.8 206.2,103.9 207.5,102.9 208.8,102.1 210.2,101.2 211.5,100.5 212.9,99.7 214.2,99.0 215.5,98.3 216.9,97.6 218.2,97.0 219.5,96.6 220.9,96.6 222.2,96.8 223.6,97.4 224.9,98.6 226.2,101.3 227.6,104.9 228.9,107.3 230.2,106.6 231.6,104.9 232.9,103.2 234.3,101.6 235.6,100.4 236.9,99.4 238.3,98.4 239.6,97.4 240.9,96.5 242.3,95.8 243.6,95.0 245.0,94.2 246.3,93.5 247.6,92.7 249.0,92.0 250.3,91.2 251.6,90.6 253.0,90.0 254.3,89.5 255.7,89.0 257.0,88.7 258.3,88.4 259.7,88.0 261.0,87.7 262.3,87.4 263.7,87.0 265.0,86.7 266.4,86.4 267.7,86.0 269.0,85.7 270.4,85.4 271.7,85.3 273.0,85.7 274.4,86.3 275.7,86.9 277.1,87.1 278.4,87.0 279.7,86.7 281.1,86.4 282.4,86.0 283.7,85.5 285.1,85.2 286.4,85.5 287.8,86.4 289.1,88.9 290.4,93.6 291.8,100.3 293.1,111.2 294.4,121.9 295.8,126.7 297.1,128.0 298.5,127.4 299.8,125.2 301.1,122.1 302.5,118.8 303.8,116.1 305.1,113.5 306.5,110.6 307.8,107.5 309.2,104.4 310.5,101.2 311.8,97.9 313.2,94.5 314.5,91.4 315.8,89.2 317.2,87.3 318.5,85.3 319.9,83.3 321.2,81.4 322.5,79.8 323.9,78.3 325.2,77.1 326.5,77.2 327.9,78.2 329.2,79.7 330.6,81.5 331.9,83.6 333.2,85.5 334.6,86.5 335.9,86.3 337.2,85.7 338.6,85.1 339.9,84.6 341.3,84.1 342.6,84.0 343.9,84.5 345.3,85.4 346.6,86.3 347.9,87.2 349.3,88.0 350.6,88.5 352.0,89.3 353.3,90.3 354.6,91.1 356.0,92.5 357.3,93.5 358.6,94.0 360.0,93.8 361.3,94.6 362.7,95.3 364.0,95.8 365.3,96.0 366.7,97.1 368.0,99.8 369.3,102.8 370.7,104.7 372.0,107.3 373.4,110.1 374.7,111.0" stroke="#878787"/>
<polyline points="87.1,234.5 88.5,233.6 89.8,232.4 91.1,231.1 92.5,229.5 93.8,227.7 95.1,225.9 96.5,224.0 97.8,222.1 99.2,220.3 100.5,218.6 101.8,216.9 103.2,215.1 104.5,213.1 105.8,210.5 107.2,207.5 108.5,204.5 109.9,201.3 111.2,197.9 112.5,194.5 113.9,191.1 115.2,187.3 116.5,182.9 117.9,178.6 119.2,174.8 120.6,171.2 121.9,168.2 123.2,166.2 124.6,164.4 125.9,162.6 127.2,160.8 128.6,159.0 129.9,157.2 131.3,155.3 132.6,153.4 133.9,151.5 135.3,149.6 136.6,147.9 137.9,146.3 139.3,144.9 140.6,143.6 142.0,142.5 143.3,141.4 144.6,140.5 146.0,139.8 147.3,139.1 148.6,138.6 150.0,138.0 151.3,137.6 152.7,137.2 154.0,136.9 155.3,136.6 156.7,136.3 158.0,136.0 159.3,135.8 160.7,135.6 162.0,135.4 163.4,135.1 164.7,134.9 166.0,134.6 167.4,134.2 168.7,133.8 170.0,133.4 171.4,132.3 172.7,130.2 174.1,129.0 175.4,128.3 176.7,127.6 178.1,126.9 179.4,126.1 180.7,125.2 182.1,124.3 183.4,123.4 184.8,122.5 186.1,121.5 187.4,120.5 188.8,119.5 190.1,118.5 191.4,117.5 192.8,116.5 194.1,115.4 195.5,114.4 196.8,113.4 198.1,112.3 199.5,111.3 200.8,110.3 202.1,109.3 203.5,108.3 204.8,107.3 206.2,106.3 207.5,105.4 208.8,104.5 210.2,103.7 211.5,102.9 212.9,102.2 214.2,101.5 215.5,100.8 216.9,100.1 218.2,99.5 219.5,99.1 220.9,99.1 222.2,99.3 223.6,99.8 224.9,101.0 226.2,103.8 227.6,107.4 228.9,109.7 230.2,109.0 231.6,107.3 232.9,105.6 234.3,103.9 235.6,102.8 236.9,101.8 238.3,100.8 239.6,99.8 240.9,99.0 242.3,98.2 243.6,97.5 245.0,96.7 246.3,96.0 247.6,95.2 249.0,94.4 250.3,93.7 251.6,93.1 253.0,92.5 254.3,92.0 255.7,91.6 257.0,91.2 258.3,90.9 259.7,90.6 261.0,90.2 262.3,89.9 263.7,89.6 265.0,89.2 266.4,88.9 267.7,88.6 269.0,88.2 270.4,88.0 271.7,87.9 273.0,88.2 274.4,88.8 275.7,89.3 277.1,89.6 278.4,89.4 279.7,89.1 281.1,88.8 282.4,88.4 283.7,87.9 285.1,87.5 286.4,87.7 287.8,88.5 289.1,90.9 290.4,95.5 291.8,102.2 293.1,113.2 294.4,124.0 295.8,128.8 297.1,130.2 298.5,129.6 299.8,127.4 301.1,124.3 302.5,121.2 303.8,118.5 305.1,116.0 306.5,113.2 307.8,110.1 309.2,106.9 310.5,103.7 311.8,100.5 313.2,97.1 314.5,94.0 315.8,91.8 317.2,89.9 318.5,88.0 319.9,86.0 321.2,84.2 322.5,82.5 323.9,81.0 325.2,79.9 326.5,79.8 327.9,80.8 329.2,82.3 330.6,84.1 331.9,86.1 333.2,88.0 334.6,89.0 335.9,88.7 337.2,88.2 338.6,87.7 339.9,87.2 341.3,86.8 342.6,86.6 343.9,86.9 345.3,88.1 346.6,89.1 347.9,89.7 349.3,90.6 350.6,91.2 352.0,92.0 353.3,93.3 354.6,94.1 356.0,95.3 357.3,95.9 358.6,96.3 360.0,96.1 361.3,96.9 362.7,98.4 364.0,99.4 365.3,100.1 366.7,100.7 368.0,103.0 369.3,104.4 370.7,105.6 372.0,109.6 373.4,112.9 374.7,115.1" stroke="#e38662"/>
<polyline points="87.1,234.6 88.5,233.6 89.8,232.4 91.1,231.1 92.5,229.6 93.8,227.8 95.1,225.9 96.5,224.0 97.8,222.2 99.2,220.4 100.5,218.7 101.8,217.0 103.2,215.2 104.5,213.2 105.8,210.6 107.2,207.6 108.5,204.5 109.9,201.4 111.2,198.0 112.5,194.5 113.9,191.1 115.2,187.2 116.5,182.7 117.9,178.5 119.2,174.6 120.6,170.9 121.9,167.8 123.2,165.8 124.6,164.0 125.9,162.2 127.2,160.4 128.6,158.5 129.9,156.7 131.3,154.8 132.6,152.9 133.9,151.0 135.3,149.1 136.6,147.4 137.9,145.8 139.3,144.4 140.6,143.2 142.0,142.0 143.3,141.0 144.6,140.1 146.0,139.4 147.3,138.8 148.6,138.2 150.0,137.7 151.3,137.3 152.7,136.9 154.0,136.6 155.3,136.4 156.7,136.1 158.0,135.9 159.3,135.7 160.7,135.5 162.0,135.3 163.4,135.1 164.7,134.9 166.0,134.6 167.4,134.3 168.7,133.9 170.0,133.5 171.4,132.9 172.7,132.4 174.1,131.7 175.4,131.0 176.7,130.3 178.1,129.6 179.4,128.8 180.7,127.9 182.1,127.0 183.4,126.1 184.8,125.2 186.1,124.2 187.4,123.2 188.8,122.2 190.1,121.2 191.4,120.1 192.8,119.1 194.1,118.1 195.5,117.0 196.8,116.0 198.1,114.9 199.5,113.9 200.8,112.9 202.1,111.9 203.5,110.8 204.8,109.9 206.2,108.9 207.5,108.0 208.8,107.1 210.2,106.2 211.5,105.4 212.9,104.7 214.2,104.0 215.5,103.3 216.9,102.7 218.2,102.0 219.5,101.7 220.9,101.7 222.2,101.9 223.6,102.5 224.9,103.7 226.2,106.4 227.6,110.0 228.9,112.4 230.2,111.7 231.6,109.9 232.9,108.2 234.3,106.6 235.6,105.5 236.9,104.6 238.3,103.6 239.6,102.7 240.9,101.9 242.3,101.2 243.6,100.4 245.0,99.7 246.3,99.0 247.6,98.3 249.0,97.6 250.3,96.9 251.6,96.3 253.0,95.8 254.3,95.3 255.7,94.9 257.0,94.6 258.3,94.3 259.7,94.0 261.0,93.7 262.3,93.4 263.7,93.1 265.0,92.8 266.4,92.5 267.7,92.2 269.0,91.9 270.4,91.6 271.7,91.5 273.0,91.9 274.4,92.4 275.7,92.9 277.1,93.1 278.4,93.0 279.7,92.7 281.1,92.4 282.4,92.0 283.7,91.5 285.1,91.0 286.4,91.1 287.8,91.8 289.1,94.1 290.4,98.6 291.8,105.3 293.1,116.3 294.4,127.1 295.8,132.0 297.1,133.4 298.5,132.9 299.8,130.7 301.1,127.7 302.5,124.6 303.8,122.0 305.1,119.6 306.5,116.9 307.8,113.9 309.2,110.8 310.5,107.6 311.8,104.4 313.2,101.0 314.5,98.0 315.8,95.8 317.2,93.9 318.5,92.0 319.9,90.1 321.2,88.2 322.5,86.6 323.9,85.1 325.2,83.9 326.5,83.8 327.9,84.8 329.2,86.3 330.6,88.0 331.9,89.9 333.2,91.8 334.6,92.8 335.9,92.6 337.2,92.1 338.6,91.7 339.9,91.3 341.3,90.9 342.6,91.1 343.9,91.8 345.3,92.6 346.6,93.4 347.9,93.9 349.3,94.3 350.6,95.3 352.0,96.8 353.3,98.2 354.6,99.6 356.0,100.9 357.3,100.1 358.6,101.0 360.0,102.8 361.3,102.4 362.7,103.7 364.0,103.5 365.3,103.4 366.7,106.0 368.0,108.0 369.3,110.2 370.7,112.7 372.0,114.6 373.4,118.0 374.7,121.1" stroke="#799ad5"/>
<polyline points="87.1,235.1 88.5,234.2 89.8,233.0 91.1,231.8 92.5,230.3 93.8,228.5 95.1,226.8 96.5,225.0 97.8,223.2 99.2,221.5 100.5,219.8 101.8,218.2 103.2,216.5 104.5,214.6 105.8,212.0 107.2,209.1 108.5,206.1 109.9,203.0 111.2,199.7 112.5,196.4 113.9,193.1 115.2,189.3 116.5,184.9 117.9,180.7 119.2,176.9 120.6,173.3 121.9,170.2 123.2,168.2 124.6,166.5 125.9,164.7 127.2,162.9 128.6,161.1 129.9,159.4 131.3,157.6 132.6,155.7 133.9,153.9 135.3,152.1 136.6,150.5 137.9,149.0 139.3,147.7 140.6,146.5 142.0,145.4 143.3,144.4 144.6,143.6 146.0,142.9 147.3,142.3 148.6,141.8 150.0,141.3 151.3,140.9 152.7,140.6 154.0,140.3 155.3,140.1 156.7,139.9 158.0,139.7 159.3,139.5 160.7,139.4 162.0,139.2 163.4,139.0 164.7,138.8 166.0,138.5 167.4,138.2 168.7,137.9 170.0,137.5 171.4,136.7 172.7,135.3 174.1,134.4 175.4,133.7 176.7,133.0 178.1,132.3 179.4,131.5 180.7,130.6 182.1,129.7 183.4,128.8 184.8,127.8 186.1,126.9 187.4,125.9 188.8,124.8 190.1,123.8 191.4,122.8 192.8,121.7 194.1,120.7 195.5,119.6 196.8,118.6 198.1,117.5 199.5,116.4 200.8,115.4 202.1,114.4 203.5,113.4 204.8,112.4 206.2,111.4 207.5,110.4 208.8,109.5 210.2,108.7 211.5,107.9 212.9,107.2 214.2,106.5 215.5,105.8 216.9,105.2 218.2,104.5 219.5,104.2 220.9,104.2 222.2,104.4 223.6,105.0 224.9,106.2 226.2,109.0 227.6,112.5 228.9,114.9 230.2,114.1 231.6,112.4 232.9,110.6 234.3,109.0 235.6,107.9 236.9,107.0 238.3,106.1 239.6,105.2 240.9,104.4 242.3,103.7 243.6,103.0 245.0,102.3 246.3,101.5 247.6,100.8 249.0,100.1 250.3,99.5 251.6,98.9 253.0,98.4 254.3,97.9 255.7,97.5 257.0,97.2 258.3,96.9 259.7,96.6 261.0,96.3 262.3,96.0 263.7,95.7 265.0,95.4 266.4,95.1 267.7,94.8 269.0,94.5 270.4,94.3 271.7,94.2 273.0,94.5 274.4,95.0 275.7,95.4 277.1,95.7 278.4,95.5 279.7,95.2 281.1,94.9 282.4,94.5 283.7,93.9 285.1,93.5 286.4,93.5 287.8,94.0 289.1,96.3 290.4,100.7 291.8,107.3 293.1,118.3 294.4,129.3 295.8,134.2 297.1,135.6 298.5,135.1 299.8,133.0 301.1,130.0 302.5,127.0 303.8,124.5 305.1,122.2 306.5,119.5 307.8,116.6 309.2,113.5 310.5,110.3 311.8,107.1 313.2,103.8 314.5,100.7 315.8,98.6 317.2,96.8 318.5,94.9 319.9,92.9 321.2,91.1 322.5,89.5 323.9,88.0 325.2,86.8 326.5,86.6 327.9,87.5 329.2,88.9 330.6,90.6 331.9,92.5 333.2,94.3 334.6,95.2 335.9,95.1 337.2,94.6 338.6,94.1 339.9,93.7 341.3,93.4 342.6,93.3 343.9,93.6 345.3,94.3 346.6,95.1 347.9,96.1 349.3,97.2 350.6,97.9 352.0,98.6 353.3,99.3 354.6,100.3 356.0,101.1 357.3,101.5 358.6,102.4 360.0,103.1 361.3,104.2 362.7,105.2 364.0,105.4 365.3,106.0 366.7,107.1 368.0,108.7 369.3,112.1 370.7,115.3 372.0,117.4 373.4,119.3 374.7,120.6" stroke="#70bfc6"/>
<polyline points="87.1,235.2 88.5,234.3 89.8,233.2 91.1,231.9 92.5,230.4 93.8,228.7 95.1,227.0 96.5,225.2 97.8,223.5 99.2,221.8 100.5,220.2 101.8,218.5 103.2,216.9 104.5,214.9 105.8,212.3 107.2,209.4 108.5,206.5 109.9,203.4 111.2,200.1 112.5,196.8 113.9,193.4 115.2,189.6 116.5,185.2 117.9,180.9 119.2,177.1 120.6,173.4 121.9,170.3 123.2,168.2 124.6,166.5 125.9,164.7 127.2,162.9 128.6,161.1 129.9,159.3 131.3,157.6 132.6,155.8 133.9,154.0 135.3,152.2 136.6,150.7 137.9,149.3 139.3,148.0 140.6,146.8 142.0,145.7 143.3,144.8 144.6,143.9 146.0,143.2 147.3,142.7 148.6,142.2 150.0,141.7 151.3,141.4 152.7,141.1 154.0,140.9 155.3,140.7 156.7,140.5 158.0,140.3 159.3,140.2 160.7,140.1 162.0,139.9 163.4,139.8 164.7,139.6 166.0,139.3 167.4,139.1 168.7,138.7 170.0,138.3 171.4,137.9 172.7,137.6 174.1,137.1 175.4,136.4 176.7,135.7 178.1,134.9 179.4,134.1 180.7,133.3 182.1,132.4 183.4,131.4 184.8,130.5 186.1,129.5 187.4,128.5 188.8,127.4 190.1,126.4 191.4,125.3 192.8,124.2 194.1,123.1 195.5,122.1 196.8,121.0 198.1,119.9 199.5,118.8 200.8,117.7 202.1,116.7 203.5,115.6 204.8,114.6 206.2,113.6 207.5,112.6 208.8,111.7 210.2,110.9 211.5,110.1 212.9,109.3 214.2,108.6 215.5,108.0 216.9,107.3 218.2,106.7 219.5,106.3 220.9,106.4 222.2,106.6 223.6,107.2 224.9,108.4 226.2,111.2 227.6,114.8 228.9,117.1 230.2,116.3 231.6,114.6 232.9,112.9 234.3,111.3 235.6,110.2 236.9,109.3 238.3,108.4 239.6,107.5 240.9,106.7 242.3,106.0 243.6,105.3 245.0,104.7 246.3,104.0 247.6,103.3 249.0,102.6 250.3,102.0 251.6,101.4 253.0,100.9 254.3,100.5 255.7,100.1 257.0,99.8 258.3,99.6 259.7,99.3 261.0,99.0 262.3,98.7 263.7,98.4 265.0,98.1 266.4,97.9 267.7,97.6 269.0,97.3 270.4,97.0 271.7,96.9 273.0,97.2 274.4,97.7 275.7,98.1 277.1,98.5 278.4,98.8 279.7,98.6 281.1,98.3 282.4,97.9 283.7,97.4 285.1,96.8 286.4,96.7 287.8,97.2 289.1,99.3 290.4,103.7 291.8,110.2 293.1,121.2 294.4,132.2 295.8,137.1 297.1,138.5 298.5,138.1 299.8,136.0 301.1,133.1 302.5,130.1 303.8,127.8 305.1,125.5 306.5,122.9 307.8,120.0 309.2,117.0 310.5,113.9 311.8,110.7 313.2,107.4 314.5,104.4 315.8,102.3 317.2,100.5 318.5,98.6 319.9,96.7 321.2,94.9 322.5,93.3 323.9,91.8 325.2,90.6 326.5,90.4 327.9,91.3 329.2,92.6 330.6,94.2 331.9,96.0 333.2,97.8 334.6,98.7 335.9,98.6 337.2,98.1 338.6,97.7 339.9,97.2 341.3,97.0 342.6,97.0 343.9,97.6 345.3,98.5 346.6,99.0 347.9,99.3 349.3,99.9 350.6,101.3 352.0,102.3 353.3,102.9 354.6,104.0 356.0,105.6 357.3,105.7 358.6,106.4 360.0,107.6 361.3,109.0 362.7,109.3 364.0,109.0 365.3,108.9 366.7,110.7 368.0,112.1 369.3,113.9 370.7,116.9 372.0,120.2 373.4,122.6 374.7,124.1" stroke="#b88d8d"/>
<polyline points="87.1,235.6 88.5,234.8 89.8,233.6 91.1,232.4 92.5,231.0 93.8,229.3 95.1,227.6 96.5,226.0 97.8,224.3 99.2,222.6 100.5,221.1 101.8,219.5 103.2,217.9 104.5,216.0 105.8,213.4 107.2,210.6 108.5,207.6 109.9,204.6 111.2,201.4 112.5,198.1 113.9,194.9 115.2,191.0 116.5,186.7 117.9,182.5 119.2,178.6 120.6,175.0 121.9,171.9 123.2,169.9 124.6,168.1 125.9,166.4 127.2,164.6 128.6,162.8 129.9,161.1 131.3,159.4 132.6,157.7 133.9,156.0 135.3,154.4 136.6,152.9 137.9,151.6 139.3,150.4 140.6,149.3 142.0,148.2 143.3,147.3 144.6,146.4 146.0,145.8 147.3,145.2 148.6,144.7 150.0,144.3 151.3,143.9 152.7,143.6 154.0,143.4 155.3,143.2 156.7,143.0 158.0,142.8 159.3,142.7 160.7,142.5 162.0,142.4 163.4,142.2 164.7,142.0 166.0,141.8 167.4,141.5 168.7,141.1 170.0,140.7 171.4,140.3 172.7,139.7 174.1,139.1 175.4,138.4 176.7,137.7 178.1,137.0 179.4,136.2 180.7,135.3 182.1,134.4 183.4,133.4 184.8,132.4 186.1,131.4 187.4,130.3 188.8,129.3 190.1,128.2 191.4,127.1 192.8,126.0 194.1,124.8 195.5,123.7 196.8,122.6 198.1,121.5 199.5,120.3 200.8,119.2 202.1,118.1 203.5,117.1 204.8,116.0 206.2,115.0 207.5,114.0 208.8,113.0 210.2,112.2 211.5,111.4 212.9,110.6 214.2,109.9 215.5,109.3 216.9,108.6 218.2,108.0 219.5,107.6 220.9,107.7 222.2,107.9 223.6,108.5 224.9,109.7 226.2,112.5 227.6,116.1 228.9,118.5 230.2,117.7 231.6,115.9 232.9,114.2 234.3,112.6 235.6,111.5 236.9,110.7 238.3,109.8 239.6,109.0 240.9,108.2 242.3,107.5 243.6,106.9 245.0,106.2 246.3,105.5 247.6,104.9 249.0,104.2 250.3,103.6 251.6,103.1 253.0,102.6 254.3,102.2 255.7,101.8 257.0,101.6 258.3,101.3 259.7,101.0 261.0,100.8 262.3,100.5 263.7,100.2 265.0,100.0 266.4,99.7 267.7,99.4 269.0,99.1 270.4,98.9 271.7,98.8 273.0,99.1 274.4,99.5 275.7,100.0 277.1,100.1 278.4,100.0 279.7,99.7 281.1,99.4 282.4,99.0 283.7,98.4 285.1,97.8 286.4,97.6 287.8,98.0 289.1,100.1 290.4,104.4 291.8,110.9 293.1,122.0 294.4,133.2 295.8,138.1 297.1,139.5 298.5,139.1 299.8,137.1 301.1,134.2 302.5,131.2 303.8,128.9 305.1,126.7 306.5,124.1 307.8,121.2 309.2,118.2 310.5,115.1 311.8,111.9 313.2,108.6 314.5,105.6 315.8,103.5 317.2,101.7 318.5,99.8 319.9,98.0 321.2,96.2 322.5,94.6 323.9,93.0 325.2,91.8 326.5,91.6 327.9,92.4 329.2,93.8 330.6,95.3 331.9,97.1 333.2,98.9 334.6,99.8 335.9,99.7 337.2,99.2 338.6,98.8 339.9,98.5 341.3,98.2 342.6,98.3 343.9,98.8 345.3,99.5 346.6,100.4 347.9,101.0 349.3,101.7 350.6,103.1 352.0,104.2 353.3,104.5 354.6,104.9 356.0,105.9 357.3,106.8 358.6,107.3 360.0,108.2 361.3,108.9 362.7,108.7 364.0,108.4 365.3,110.2 366.7,111.9 368.0,113.4 369.3,114.2 370.7,116.9 372.0,121.7 373.4,124.4 374.7,124.9" stroke="#9bc662"/>
<polyline points="87.1,236.4 88.5,235.5 89.8,234.4 91.1,233.3 92.5,231.9 93.8,230.4 95.1,228.8 96.5,227.2 97.8,225.6 99.2,224.0 100.5,222.5 101.8,221.0 103.2,219.5 104.5,217.7 105.8,215.3 107.2,212.5 108.5,209.7 109.9,206.8 111.2,203.7 112.5,200.6 113.9,197.4 115.2,193.7 116.5,189.6 117.9,185.5 119.2,181.8 120.6,178.2 121.9,175.2 123.2,173.2 124.6,171.5 125.9,169.8 127.2,168.1 128.6,166.4 129.9,164.8 131.3,163.2 132.6,161.6 133.9,160.0 135.3,158.5 136.6,157.2 137.9,156.0 139.3,154.9 140.6,153.8 142.0,152.8 143.3,151.9 144.6,151.1 146.0,150.5 147.3,149.9 148.6,149.4 150.0,149.0 151.3,148.6 152.7,148.3 154.0,148.0 155.3,147.8 156.7,147.6 158.0,147.4 159.3,147.2 160.7,147.1 162.0,146.9 163.4,146.7 164.7,146.5 166.0,146.2 167.4,145.9 168.7,145.6 170.0,145.2 171.4,144.2 172.7,142.0 174.1,140.9 175.4,140.2 176.7,139.5 178.1,138.8 179.4,138.0 180.7,137.2 182.1,136.2 183.4,135.3 184.8,134.3 186.1,133.3 187.4,132.3 188.8,131.2 190.1,130.2 191.4,129.1 192.8,128.0 194.1,126.9 195.5,125.8 196.8,124.7 198.1,123.6 199.5,122.5 200.8,121.4 202.1,120.3 203.5,119.3 204.8,118.2 206.2,117.2 207.5,116.2 208.8,115.3 210.2,114.5 211.5,113.7 212.9,112.9 214.2,112.3 215.5,111.6 216.9,111.0 218.2,110.4 219.5,110.0 220.9,110.0 222.2,110.3 223.6,110.9 224.9,112.1 226.2,114.9 227.6,118.5 228.9,120.8 230.2,120.0 231.6,118.3 232.9,116.5 234.3,114.9 235.6,113.9 236.9,113.1 238.3,112.2 239.6,111.4 240.9,110.7 242.3,110.0 243.6,109.4 245.0,108.7 246.3,108.1 247.6,107.4 249.0,106.8 250.3,106.2 251.6,105.7 253.0,105.2 254.3,104.8 255.7,104.5 257.0,104.3 258.3,104.0 259.7,103.8 261.0,103.5 262.3,103.2 263.7,103.0 265.0,102.7 266.4,102.5 267.7,102.2 269.0,101.9 270.4,101.7 271.7,101.6 273.0,101.9 274.4,102.3 275.7,102.7 277.1,102.8 278.4,102.6 279.7,102.2 281.1,101.9 282.4,101.5 283.7,100.9 285.1,100.3 286.4,100.1 287.8,100.5 289.1,102.5 290.4,106.7 291.8,113.2 293.1,124.3 294.4,135.4 295.8,140.4 297.1,141.8 298.5,141.4 299.8,139.4 301.1,136.5 302.5,133.6 303.8,131.4 305.1,129.2 306.5,126.8 307.8,123.9 309.2,120.9 310.5,117.8 311.8,114.7 313.2,111.4 314.5,108.4 315.8,106.3 317.2,104.5 318.5,102.7 319.9,100.8 321.2,99.0 322.5,97.4 323.9,95.9 325.2,94.7 326.5,94.5 327.9,95.3 329.2,96.7 330.6,98.2 331.9,100.0 333.2,101.7 334.6,102.7 335.9,102.6 337.2,102.3 338.6,102.0 339.9,101.7 341.3,101.4 342.6,101.5 343.9,101.9 345.3,102.4 346.6,103.1 347.9,104.7 349.3,105.9 350.6,106.5 352.0,107.0 353.3,107.8 354.6,108.8 356.0,108.9 357.3,109.9 358.6,110.3 360.0,111.2 361.3,113.2 362.7,114.7 364.0,115.6 365.3,116.4 366.7,116.3 368.0,116.6 369.3,119.4 370.7,122.8 372.0,124.2 373.4,127.4 374.7,131.1" stroke="#c69be3"/>
<polyline points="87.1,236.4 88.5,235.6 89.8,234.5 91.1,233.4 92.5,232.0 93.8,230.5 95.1,228.9 96.5,227.3 97.8,225.8 99.2,224.2 100.5,222.7 101.8,221.3 103.2,219.7 104.5,217.9 105.8,215.5 107.2,212.7 108.5,209.9 109.9,207.0 111.2,204.0 112.5,200.8 113.9,197.6 115.2,193.9 116.5,189.7 117.9,185.6 119.2,181.8 120.6,178.2 121.9,175.1 123.2,173.1 124.6,171.4 125.9,169.7 127.2,167.9 128.6,166.2 129.9,164.6 131.3,163.0 132.6,161.4 133.9,159.8 135.3,158.3 136.6,157.0 137.9,155.8 139.3,154.7 140.6,153.6 142.0,152.6 143.3,151.7 144.6,150.9 146.0,150.3 147.3,149.7 148.6,149.2 150.0,148.8 151.3,148.4 152.7,148.1 154.0,147.8 155.3,147.6 156.7,147.3 158.0,147.1 159.3,146.9 160.7,146.8 162.0,146.6 163.4,146.4 164.7,146.2 166.0,145.9 167.4,145.6 168.7,145.2 170.0,144.8 171.4,144.3 172.7,143.4 174.1,142.7 175.4,142.0 176.7,141.4 178.1,140.6 179.4,139.9 180.7,139.0 182.1,138.1 183.4,137.2 184.8,136.3 186.1,135.3 187.4,134.3 188.8,133.3 190.1,132.2 191.4,131.2 192.8,130.1 194.1,129.0 195.5,128.0 196.8,126.9 198.1,125.8 199.5,124.7 200.8,123.7 202.1,122.6 203.5,121.6 204.8,120.6 206.2,119.6 207.5,118.7 208.8,117.8 210.2,116.9 211.5,116.2 212.9,115.4 214.2,114.8 215.5,114.1 216.9,113.5 218.2,112.9 219.5,112.5 220.9,112.6 222.2,112.9 223.6,113.5 224.9,114.7 226.2,117.5 227.6,121.0 228.9,123.3 230.2,122.6 231.6,120.9 232.9,119.1 234.3,117.6 235.6,116.6 236.9,115.8 238.3,115.0 239.6,114.2 240.9,113.5 242.3,112.9 243.6,112.3 245.0,111.7 246.3,111.1 247.6,110.5 249.0,109.9 250.3,109.3 251.6,108.9 253.0,108.5 254.3,108.1 255.7,107.8 257.0,107.6 258.3,107.4 259.7,107.1 261.0,106.9 262.3,106.7 263.7,106.5 265.0,106.2 266.4,106.0 267.7,105.7 269.0,105.5 270.4,105.3 271.7,105.2 273.0,105.5 274.4,105.9 275.7,106.3 277.1,106.4 278.4,106.3 279.7,106.0 281.1,105.7 282.4,105.3 283.7,104.7 285.1,104.1 286.4,103.9 287.8,104.2 289.1,106.2 290.4,110.3 291.8,116.7 293.1,127.7 294.4,138.7 295.8,143.6 297.1,145.0 298.5,144.6 299.8,142.7 301.1,139.9 302.5,137.1 303.8,135.0 305.1,132.9 306.5,130.5 307.8,127.8 309.2,124.8 310.5,121.8 311.8,118.7 313.2,115.5 314.5,112.5 315.8,110.5 317.2,108.7 318.5,106.9 319.9,105.1 321.2,103.3 322.5,101.7 323.9,100.2 325.2,99.0 326.5,98.7 327.9,99.5 329.2,100.8 330.6,102.3 331.9,104.0 333.2,105.6 334.6,106.6 335.9,106.5 337.2,106.1 338.6,105.8 339.9,105.6 341.3,105.4 342.6,105.4 343.9,105.7 345.3,106.5 346.6,107.6 347.9,108.1 349.3,109.2 350.6,110.1 352.0,111.0 353.3,112.4 354.6,112.9 356.0,114.1 357.3,114.5 358.6,114.2 360.0,113.1 361.3,114.2 362.7,116.1 364.0,116.7 365.3,117.4 366.7,117.2 368.0,118.2 369.3,121.3 370.7,125.2 372.0,128.3 373.4,130.3 374.7,131.1" stroke="#e3b162"/>
<polyline points="87.1,236.7 88.5,235.9 89.8,234.8 91.1,233.7 92.5,232.4 93.8,230.9 95.1,229.4 96.5,227.9 97.8,226.3 99.2,224.8 100.5,223.4 101.8,221.9 103.2,220.5 104.5,218.7 105.8,216.3 107.2,213.6 108.5,210.8 109.9,207.9 111.2,204.9 112.5,201.8 113.9,198.7 115.2,195.0 116.5,190.8 117.9,186.7 119.2,182.9 120.6,179.3 121.9,176.2 123.2,174.2 124.6,172.5 125.9,170.8 127.2,169.0 128.6,167.3 129.9,165.6 131.3,164.0 132.6,162.3 133.9,160.7 135.3,159.2 136.6,157.8 137.9,156.6 139.3,155.5 140.6,154.4 142.0,153.4 143.3,152.5 144.6,151.7 146.0,151.1 147.3,150.6 148.6,150.1 150.0,149.7 151.3,149.3 152.7,149.0 154.0,148.8 155.3,148.6 156.7,148.4 158.0,148.2 159.3,148.0 160.7,147.9 162.0,147.7 163.4,147.6 164.7,147.4 166.0,147.1 167.4,146.8 168.7,146.5 170.0,146.1 171.4,145.6 172.7,145.1 174.1,144.5 175.4,143.9 176.7,143.2 178.1,142.5 179.4,141.7 180.7,140.9 182.1,140.0 183.4,139.1 184.8,138.2 186.1,137.3 187.4,136.3 188.8,135.3 190.1,134.3 191.4,133.3 192.8,132.2 194.1,131.2 195.5,130.2 196.8,129.1 198.1,128.1 199.5,127.0 200.8,126.0 202.1,125.0 203.5,124.0 204.8,123.0 206.2,122.1 207.5,121.1 208.8,120.3 210.2,119.4 211.5,118.7 212.9,118.0 214.2,117.3 215.5,116.7 216.9,116.0 218.2,115.5 219.5,115.1 220.9,115.2 222.2,115.5 223.6,116.0 224.9,117.2 226.2,120.0 227.6,123.5 228.9,125.8 230.2,125.0 231.6,123.3 232.9,121.6 234.3,120.1 235.6,119.1 236.9,118.3 238.3,117.5 239.6,116.8 240.9,116.1 242.3,115.5 243.6,114.9 245.0,114.3 246.3,113.7 247.6,113.1 249.0,112.5 250.3,112.0 251.6,111.5 253.0,111.1 254.3,110.8 255.7,110.5 257.0,110.3 258.3,110.1 259.7,109.8 261.0,109.6 262.3,109.4 263.7,109.2 265.0,108.9 266.4,108.7 267.7,108.5 269.0,108.2 270.4,108.0 271.7,108.0 273.0,108.2 274.4,108.6 275.7,108.9 277.1,108.6 278.4,106.9 279.7,106.2 281.1,105.9 282.4,105.5 283.7,104.9 285.1,104.2 286.4,104.0 287.8,104.2 289.1,106.2 290.4,110.4 291.8,116.8 293.1,127.9 294.4,139.1 295.8,144.0 297.1,145.5 298.5,145.1 299.8,143.2 301.1,140.4 302.5,137.6 303.8,135.5 305.1,133.5 306.5,131.1 307.8,128.4 309.2,125.4 310.5,122.4 311.8,119.3 313.2,116.0 314.5,113.1 315.8,111.0 317.2,109.3 318.5,107.4 319.9,105.6 321.2,103.8 322.5,102.2 323.9,100.7 325.2,99.5 326.5,99.2 327.9,99.9 329.2,101.2 330.6,102.7 331.9,104.3 333.2,106.0 334.6,106.9 335.9,106.8 337.2,106.4 338.6,106.2 339.9,105.9 341.3,105.6 342.6,105.8 343.9,106.5 345.3,107.2 346.6,107.7 347.9,108.0 349.3,109.7 350.6,110.4 352.0,110.1 353.3,111.1 354.6,113.2 356.0,112.6 357.3,113.5 358.6,115.2 360.0,114.9 361.3,116.9 362.7,116.5 364.0,118.0 365.3,119.5 366.7,118.5 368.0,119.8 369.3,123.4 370.7,125.6 372.0,127.7 373.4,131.3 374.7,135.6" stroke="#628dd5"/>
<polyline points="87.1,237.2 88.5,236.5 89.8,235.5 91.1,234.4 92.5,233.1 93.8,231.7 95.1,230.2 96.5,228.8 97.8,227.3 99.2,225.9 100.5,224.5 101.8,223.1 103.2,221.7 104.5,220.0 105.8,217.7 107.2,215.0 108.5,212.4 109.9,209.6 111.2,206.7 112.5,203.7 113.9,200.6 115.2,197.0 116.5,192.9 117.9,188.9 119.2,185.2 120.6,181.7 121.9,178.7 123.2,176.7 124.6,175.0 125.9,173.3 127.2,171.5 128.6,169.8 129.9,168.2 131.3,166.5 132.6,164.9 133.9,163.2 135.3,161.7 136.6,160.3 137.9,159.1 139.3,158.0 140.6,157.0 142.0,156.0 143.3,155.1 144.6,154.4 146.0,153.8 147.3,153.3 148.6,152.8 150.0,152.4 151.3,152.1 152.7,151.8 154.0,151.6 155.3,151.4 156.7,151.3 158.0,151.1 159.3,151.0 160.7,150.9 162.0,150.7 163.4,150.6 164.7,150.4 166.0,150.2 167.4,149.9 168.7,149.6 170.0,149.2 171.4,148.5 172.7,147.2 174.1,146.3 175.4,145.7 176.7,145.0 178.1,144.3 179.4,143.6 180.7,142.8 182.1,141.9 183.4,141.1 184.8,140.2 186.1,139.2 187.4,138.3 188.8,137.3 190.1,136.4 191.4,135.4 192.8,134.4 194.1,133.4 195.5,132.3 196.8,131.3 198.1,130.3 199.5,129.3 200.8,128.3 202.1,127.3 203.5,126.4 204.8,125.4 206.2,124.5 207.5,123.6 208.8,122.7 210.2,121.9 211.5,121.2 212.9,120.5 214.2,119.8 215.5,119.2 216.9,118.6 218.2,118.0 219.5,117.7 220.9,117.7 222.2,118.0 223.6,118.6 224.9,119.7 226.2,122.5 227.6,126.0 228.9,128.2 230.2,127.4 231.6,125.7 232.9,124.0 234.3,122.5 235.6,121.5 236.9,120.7 238.3,119.9 239.6,119.2 240.9,118.5 242.3,117.9 243.6,117.3 245.0,116.7 246.3,116.1 247.6,115.5 249.0,114.9 250.3,114.3 251.6,113.9 253.0,113.5 254.3,113.1 255.7,112.8 257.0,112.6 258.3,112.4 259.7,112.2 261.0,111.9 262.3,111.7 263.7,111.5 265.0,111.2 266.4,111.0 267.7,110.7 269.0,110.5 270.4,110.3 271.7,110.2 273.0,110.4 274.4,110.8 275.7,111.1 277.1,111.2 278.4,110.9 279.7,110.6 281.1,110.3 282.4,109.9 283.7,109.3 285.1,108.6 286.4,108.3 287.8,108.5 289.1,110.4 290.4,114.5 291.8,120.7 293.1,131.7 294.4,142.6 295.8,147.5 297.1,148.9 298.5,148.6 299.8,146.8 301.1,144.1 302.5,141.4 303.8,139.3 305.1,137.4 306.5,135.1 307.8,132.5 309.2,129.6 310.5,126.6 311.8,123.6 313.2,120.4 314.5,117.6 315.8,115.6 317.2,113.8 318.5,112.1 319.9,110.3 321.2,108.6 322.5,107.0 323.9,105.6 325.2,104.3 326.5,104.0 327.9,104.7 329.2,105.9 330.6,107.4 331.9,109.0 333.2,110.6 334.6,111.5 335.9,111.4 337.2,111.1 338.6,110.9 339.9,110.7 341.3,110.6 342.6,110.7 343.9,111.4 345.3,112.1 346.6,112.6 347.9,113.5 349.3,114.2 350.6,115.1 352.0,116.2 353.3,117.0 354.6,118.0 356.0,118.7 357.3,119.0 358.6,120.9 360.0,121.5 361.3,121.0 362.7,122.0 364.0,122.5 365.3,123.7 366.7,124.6 368.0,124.8 369.3,128.3 370.7,133.7 372.0,134.6 373.4,136.5 374.7,138.2" stroke="#dc7777"/>
<polyline points="87.1,237.6 88.5,236.8 89.8,235.9 91.1,234.8 92.5,233.6 93.8,232.2 95.1,230.8 96.5,229.4 97.8,228.0 99.2,226.6 100.5,225.3 101.8,223.9 103.2,222.5 104.5,220.9 105.8,218.6 107.2,216.0 108.5,213.4 109.9,210.7 111.2,207.8 112.5,204.9 113.9,201.9 115.2,198.3 116.5,194.2 117.9,190.3 119.2,186.6 120.6,183.1 121.9,180.1 123.2,178.1 124.6,176.4 125.9,174.7 127.2,172.9 128.6,171.2 129.9,169.6 131.3,168.0 132.6,166.3 133.9,164.7 135.3,163.2 136.6,161.9 137.9,160.7 139.3,159.6 140.6,158.6 142.0,157.6 143.3,156.8 144.6,156.0 146.0,155.4 147.3,154.9 148.6,154.5 150.0,154.1 151.3,153.8 152.7,153.5 154.0,153.3 155.3,153.2 156.7,153.0 158.0,152.8 159.3,152.7 160.7,152.6 162.0,152.5 163.4,152.3 164.7,152.1 166.0,151.9 167.4,151.7 168.7,151.4 170.0,151.0 171.4,150.3 172.7,149.0 174.1,148.1 175.4,147.5 176.7,146.9 178.1,146.2 179.4,145.4 180.7,144.7 182.1,143.8 183.4,143.0 184.8,142.1 186.1,141.2 187.4,140.3 188.8,139.3 190.1,138.4 191.4,137.4 192.8,136.5 194.1,135.5 195.5,134.5 196.8,133.5 198.1,132.5 199.5,131.6 200.8,130.6 202.1,129.6 203.5,128.7 204.8,127.8 206.2,126.8 207.5,126.0 208.8,125.1 210.2,124.4 211.5,123.6 212.9,122.9 214.2,122.3 215.5,121.7 216.9,121.1 218.2,120.5 219.5,120.2 220.9,120.2 222.2,120.5 223.6,121.0 224.9,122.2 226.2,125.0 227.6,128.4 228.9,130.6 230.2,129.8 231.6,128.1 232.9,126.4 234.3,124.8 235.6,123.9 236.9,123.1 238.3,122.3 239.6,121.6 240.9,120.9 242.3,120.3 243.6,119.7 245.0,119.1 246.3,118.5 247.6,117.9 249.0,117.3 250.3,116.8 251.6,116.4 253.0,116.0 254.3,115.6 255.7,115.3 257.0,115.1 258.3,114.9 259.7,114.6 261.0,114.4 262.3,114.2 263.7,113.9 265.0,113.7 266.4,113.4 267.7,113.2 269.0,113.0 270.4,112.7 271.7,112.7 273.0,112.9 274.4,113.2 275.7,113.5 277.1,113.6 278.4,113.4 279.7,113.2 281.1,112.9 282.4,112.5 283.7,111.9 285.1,111.2 286.4,110.9 287.8,111.0 289.1,112.9 290.4,116.8 291.8,123.0 293.1,133.9 294.4,144.8 295.8,149.7 297.1,151.1 298.5,150.8 299.8,149.0 301.1,146.4 302.5,143.7 303.8,141.8 305.1,139.9 306.5,137.7 307.8,135.1 309.2,132.2 310.5,129.3 311.8,126.3 313.2,123.2 314.5,120.4 315.8,118.4 317.2,116.7 318.5,115.0 319.9,113.2 321.2,111.5 322.5,110.0 323.9,108.5 325.2,107.3 326.5,107.0 327.9,107.6 329.2,108.8 330.6,110.2 331.9,111.8 333.2,113.3 334.6,114.1 335.9,114.1 337.2,113.8 338.6,113.5 339.9,113.2 341.3,113.0 342.6,113.2 343.9,113.7 345.3,114.2 346.6,114.9 347.9,115.7 349.3,116.5 350.6,117.1 352.0,117.4 353.3,118.3 354.6,119.9 356.0,121.3 357.3,121.8 358.6,121.9 360.0,122.2 361.3,122.6 362.7,123.6 364.0,124.9 365.3,125.2 366.7,125.7 368.0,127.9 369.3,131.6 370.7,134.3 372.0,135.6 373.4,137.6 374.7,140.1" stroke="#53b1aa"/>
<polyline points="87.1,237.8 88.5,237.0 89.8,236.1 91.1,235.0 92.5,233.8 93.8,232.5 95.1,231.1 96.5,229.7 97.8,228.4 99.2,227.0 100.5,225.7 101.8,224.4 103.2,223.0 104.5,221.4 105.8,219.1 107.2,216.6 108.5,214.0 109.9,211.3 111.2,208.4 112.5,205.5 113.9,202.4 115.2,198.8 116.5,194.8 117.9,190.8 119.2,187.1 120.6,183.5 121.9,180.4 123.2,178.4 124.6,176.7 125.9,174.9 127.2,173.2 128.6,171.5 129.9,169.9 131.3,168.3 132.6,166.7 133.9,165.1 135.3,163.7 136.6,162.4 137.9,161.2 139.3,160.2 140.6,159.2 142.0,158.2 143.3,157.4 144.6,156.6 146.0,156.1 147.3,155.6 148.6,155.1 150.0,154.7 151.3,154.4 152.7,154.1 154.0,153.9 155.3,153.7 156.7,153.6 158.0,153.4 159.3,153.3 160.7,153.1 162.0,153.0 163.4,152.8 164.7,152.7 166.0,152.4 167.4,152.2 168.7,151.9 170.0,151.5 171.4,151.0 172.7,150.5 174.1,149.9 175.4,149.3 176.7,148.7 178.1,148.0 179.4,147.3 180.7,146.5 182.1,145.7 183.4,144.9 184.8,144.0 186.1,143.2 187.4,142.3 188.8,141.3 190.1,140.4 191.4,139.5 192.8,138.5 194.1,137.6 195.5,136.6 196.8,135.6 198.1,134.7 199.5,133.7 200.8,132.8 202.1,131.8 203.5,130.9 204.8,130.0 206.2,129.1 207.5,128.3 208.8,127.5 210.2,126.7 211.5,126.0 212.9,125.3 214.2,124.7 215.5,124.1 216.9,123.5 218.2,122.9 219.5,122.6 220.9,122.6 222.2,122.9 223.6,123.4 224.9,124.6 226.2,127.3 227.6,130.7 228.9,132.8 230.2,132.0 231.6,130.3 232.9,128.6 234.3,127.1 235.6,126.1 236.9,125.4 238.3,124.6 239.6,123.9 240.9,123.2 242.3,122.6 243.6,122.0 245.0,121.4 246.3,120.8 247.6,120.2 249.0,119.6 250.3,119.0 251.6,118.6 253.0,118.2 254.3,117.8 255.7,117.5 257.0,117.3 258.3,117.1 259.7,116.8 261.0,116.6 262.3,116.4 263.7,116.1 265.0,115.9 266.4,115.6 267.7,115.4 269.0,115.1 270.4,114.9 271.7,114.8 273.0,115.0 274.4,115.3 275.7,115.6 277.1,115.7 278.4,115.5 279.7,115.3 281.1,115.0 282.4,114.6 283.7,113.9 285.1,113.3 286.4,112.9 287.8,113.0 289.1,114.7 290.4,118.7 291.8,124.8 293.1,135.7 294.4,146.6 295.8,151.4 297.1,152.9 298.5,152.6 299.8,150.8 301.1,148.2 302.5,145.6 303.8,143.7 305.1,141.9 306.5,139.7 307.8,137.1 309.2,134.3 310.5,131.4 311.8,128.4 313.2,125.3 314.5,122.5 315.8,120.6 317.2,118.9 318.5,117.2 319.9,115.4 321.2,113.8 322.5,112.3 323.9,110.9 325.2,109.7 326.5,109.4 327.9,110.1 329.2,111.3 330.6,112.8 331.9,114.4 333.2,115.9 334.6,116.9 335.9,116.9 337.2,116.7 338.6,116.5 339.9,116.4 341.3,116.4 342.6,116.6 343.9,117.1 345.3,118.1 346.6,118.6 347.9,119.5 349.3,120.5 350.6,121.4 352.0,122.5 353.3,123.4 354.6,123.8 356.0,124.9 357.3,125.9 358.6,127.2 360.0,128.2 361.3,128.5 362.7,129.6 364.0,131.1 365.3,131.0 366.7,130.4 368.0,132.0 369.3,135.2 370.7,139.3 372.0,142.5 373.4,146.0 374.7,147.2" stroke="#a0a0a0"/>
<polyline points="87.1,237.9 88.5,237.2 89.8,236.2 91.1,235.2 92.5,234.1 93.8,232.7 95.1,231.4 96.5,230.0 97.8,228.7 99.2,227.4 100.5,226.1 101.8,224.8 103.2,223.4 104.5,221.8 105.8,219.5 107.2,217.0 108.5,214.4 109.9,211.7 111.2,208.8 112.5,205.9 113.9,202.8 115.2,199.2 116.5,195.0 117.9,191.0 119.2,187.2 120.6,183.5 121.9,180.3 123.2,178.2 124.6,176.4 125.9,174.7 127.2,172.9 128.6,171.3 129.9,169.7 131.3,168.1 132.6,166.5 133.9,165.0 135.3,163.5 136.6,162.3 137.9,161.2 139.3,160.1 140.6,159.1 142.0,158.2 143.3,157.4 144.6,156.7 146.0,156.1 147.3,155.6 148.6,155.1 150.0,154.8 151.3,154.4 152.7,154.2 154.0,154.0 155.3,153.8 156.7,153.7 158.0,153.5 159.3,153.4 160.7,153.3 162.0,153.1 163.4,153.0 164.7,152.8 166.0,152.6 167.4,152.3 168.7,152.0 170.0,151.6 171.4,151.5 172.7,152.0 174.1,151.7 175.4,151.1 176.7,150.5 178.1,149.9 179.4,149.2 180.7,148.4 182.1,147.6 183.4,146.8 184.8,146.0 186.1,145.1 187.4,144.2 188.8,143.4 190.1,142.4 191.4,141.5 192.8,140.6 194.1,139.7 195.5,138.8 196.8,137.8 198.1,136.9 199.5,136.0 200.8,135.1 202.1,134.1 203.5,133.2 204.8,132.4 206.2,131.5 207.5,130.7 208.8,129.9 210.2,129.1 211.5,128.4 212.9,127.8 214.2,127.2 215.5,126.6 216.9,126.0 218.2,125.4 219.5,125.1 220.9,125.1 222.2,125.4 223.6,125.9 224.9,127.0 226.2,129.7 227.6,133.1 228.9,135.2 230.2,134.3 231.6,132.6 232.9,130.9 234.3,129.4 235.6,128.4 236.9,127.6 238.3,126.9 239.6,126.1 240.9,125.4 242.3,124.8 243.6,124.2 245.0,123.6 246.3,123.0 247.6,122.3 249.0,121.7 250.3,121.2 251.6,120.7 253.0,120.3 254.3,119.9 255.7,119.6 257.0,119.4 258.3,119.1 259.7,118.9 261.0,118.6 262.3,118.4 263.7,118.1 265.0,117.9 266.4,117.6 267.7,117.3 269.0,117.1 270.4,116.8 271.7,116.7 273.0,116.9 274.4,117.2 275.7,117.4 277.1,117.5 278.4,117.3 279.7,117.1 281.1,116.8 282.4,116.4 283.7,115.7 285.1,115.0 286.4,114.6 287.8,114.6 289.1,116.4 290.4,120.2 291.8,126.3 293.1,137.2 294.4,148.1 295.8,153.0 297.1,154.4 298.5,154.1 299.8,152.4 301.1,149.8 302.5,147.2 303.8,145.4 305.1,143.6 306.5,141.5 307.8,139.0 309.2,136.2 310.5,133.3 311.8,130.3 313.2,127.3 314.5,124.4 315.8,122.5 317.2,120.9 318.5,119.2 319.9,117.5 321.2,115.8 322.5,114.3 323.9,112.9 325.2,111.8 326.5,111.5 327.9,112.1 329.2,113.4 330.6,114.8 331.9,116.4 333.2,117.9 334.6,118.9 335.9,118.9 337.2,118.7 338.6,118.6 339.9,118.5 341.3,118.4 342.6,118.7 343.9,119.6 345.3,120.5 346.6,121.0 347.9,122.1 349.3,123.6 350.6,124.0 352.0,124.5 353.3,126.1 354.6,127.3 356.0,129.0 357.3,129.2 358.6,128.9 360.0,131.1 361.3,133.0 362.7,133.3 364.0,133.5 365.3,135.1 366.7,134.7 368.0,134.3 369.3,136.4 370.7,140.5 372.0,142.6 373.4,145.2 374.7,147.8" stroke="#8daa53"/>
<polyline points="87.1,238.5 88.5,237.8 89.8,236.9 91.1,235.9 92.5,234.8 93.8,233.6 95.1,232.3 96.5,231.0 97.8,229.7 99.2,228.5 100.5,227.2 101.8,226.0 103.2,224.7 104.5,223.2 105.8,221.0 107.2,218.6 108.5,216.1 109.9,213.5 111.2,210.7 112.5,207.8 113.9,204.8 115.2,201.2 116.5,197.2 117.9,193.2 119.2,189.4 120.6,185.8 121.9,182.6 123.2,180.5 124.6,178.8 125.9,177.1 127.2,175.4 128.6,173.8 129.9,172.3 131.3,170.8 132.6,169.3 133.9,167.8 135.3,166.5 136.6,165.3 137.9,164.3 139.3,163.3 140.6,162.3 142.0,161.5 143.3,160.6 144.6,159.9 146.0,159.4 147.3,158.9 148.6,158.5 150.0,158.1 151.3,157.8 152.7,157.6 154.0,157.4 155.3,157.2 156.7,157.0 158.0,156.9 159.3,156.8 160.7,156.6 162.0,156.5 163.4,156.4 164.7,156.2 166.0,156.0 167.4,155.7 168.7,155.4 170.0,155.1 171.4,154.6 172.7,154.1 174.1,153.6 175.4,153.0 176.7,152.3 178.1,151.7 179.4,151.0 180.7,150.2 182.1,149.5 183.4,148.6 184.8,147.8 186.1,146.9 187.4,146.1 188.8,145.2 190.1,144.3 191.4,143.3 192.8,142.4 194.1,141.5 195.5,140.5 196.8,139.6 198.1,138.6 199.5,137.7 200.8,136.8 202.1,135.9 203.5,135.0 204.8,134.1 206.2,133.2 207.5,132.4 208.8,131.6 210.2,130.8 211.5,130.1 212.9,129.5 214.2,128.9 215.5,128.3 216.9,127.7 218.2,127.1 219.5,126.8 220.9,126.8 222.2,127.1 223.6,127.6 224.9,128.7 226.2,131.4 227.6,134.8 228.9,136.8 230.2,136.0 231.6,134.3 232.9,132.6 234.3,131.0 235.6,130.1 236.9,129.3 238.3,128.6 239.6,127.8 240.9,127.2 242.3,126.6 243.6,125.9 245.0,125.3 246.3,124.7 247.6,124.1 249.0,123.5 250.3,123.0 251.6,122.5 253.0,122.1 254.3,121.8 255.7,121.5 257.0,121.2 258.3,121.0 259.7,120.7 261.0,120.5 262.3,120.2 263.7,120.0 265.0,119.7 266.4,119.5 267.7,119.2 269.0,119.0 270.4,118.7 271.7,118.6 273.0,118.8 274.4,119.0 275.7,119.2 277.1,119.3 278.4,119.1 279.7,118.9 281.1,118.6 282.4,118.2 283.7,117.6 285.1,116.8 286.4,116.3 287.8,116.3 289.1,118.0 290.4,121.8 291.8,127.8 293.1,138.7 294.4,149.6 295.8,154.5 297.1,155.9 298.5,155.7 299.8,154.0 301.1,151.4 302.5,148.9 303.8,147.1 305.1,145.4 306.5,143.3 307.8,140.8 309.2,138.0 310.5,135.1 311.8,132.2 313.2,129.1 314.5,126.3 315.8,124.4 317.2,122.7 318.5,121.1 319.9,119.4 321.2,117.8 322.5,116.3 323.9,115.0 325.2,113.9 326.5,113.6 327.9,114.3 329.2,115.6 330.6,117.0 331.9,118.6 333.2,120.2 334.6,121.2 335.9,121.3 337.2,121.2 338.6,121.1 339.9,121.1 341.3,121.2 342.6,121.4 343.9,122.3 345.3,123.3 346.6,123.7 347.9,124.5 349.3,126.2 350.6,127.9 352.0,128.3 353.3,129.0 354.6,131.3 356.0,131.8 357.3,131.5 358.6,132.5 360.0,133.0 361.3,132.7 362.7,133.1 364.0,135.7 365.3,138.8 366.7,139.5 368.0,139.9 369.3,143.1 370.7,145.0 372.0,148.0 373.4,152.9 374.7,153.8" stroke="#ea9477"/>
<polyline points="87.1,238.9 88.5,238.2 89.8,237.3 91.1,236.4 92.5,235.3 93.8,234.1 95.1,232.9 96.5,231.6 97.8,230.4 99.2,229.2 100.5,228.0 101.8,226.8 103.2,225.6 104.5,224.0 105.8,221.9 107.2,219.6 108.5,217.1 109.9,214.6 111.2,211.9 112.5,209.1 113.9,206.1 115.2,202.6 116.5,198.6 117.9,194.6 119.2,190.9 120.6,187.2 121.9,184.1 123.2,182.0 124.6,180.2 125.9,178.6 127.2,176.9 128.6,175.3 129.9,173.8 131.3,172.3 132.6,170.9 133.9,169.4 135.3,168.1 136.6,167.0 137.9,165.9 139.3,165.0 140.6,164.0 142.0,163.2 143.3,162.4 144.6,161.7 146.0,161.1 147.3,160.7 148.6,160.3 150.0,159.9 151.3,159.6 152.7,159.3 154.0,159.1 155.3,159.0 156.7,158.8 158.0,158.7 159.3,158.5 160.7,158.4 162.0,158.3 163.4,158.1 164.7,158.0 166.0,157.8 167.4,157.5 168.7,157.2 170.0,156.8 171.4,156.4 172.7,155.9 174.1,155.4 175.4,154.8 176.7,154.2 178.1,153.5 179.4,152.8 180.7,152.1 182.1,151.4 183.4,150.6 184.8,149.7 186.1,148.9 187.4,148.1 188.8,147.2 190.1,146.3 191.4,145.4 192.8,144.5 194.1,143.6 195.5,142.7 196.8,141.8 198.1,140.9 199.5,140.0 200.8,139.1 202.1,138.2 203.5,137.3 204.8,136.4 206.2,135.6 207.5,134.8 208.8,134.0 210.2,133.3 211.5,132.6 212.9,131.9 214.2,131.3 215.5,130.7 216.9,130.2 218.2,129.6 219.5,129.3 220.9,129.3 222.2,129.6 223.6,130.1 224.9,131.2 226.2,133.8 227.6,137.1 228.9,139.1 230.2,138.3 231.6,136.6 232.9,134.8 234.3,133.3 235.6,132.3 236.9,131.6 238.3,130.8 239.6,130.1 240.9,129.4 242.3,128.8 243.6,128.2 245.0,127.5 246.3,126.9 247.6,126.3 249.0,125.7 250.3,125.1 251.6,124.7 253.0,124.3 254.3,123.9 255.7,123.6 257.0,123.3 258.3,123.0 259.7,122.8 261.0,122.5 262.3,122.2 263.7,122.0 265.0,121.7 266.4,121.4 267.7,121.2 269.0,120.9 270.4,120.7 271.7,120.5 273.0,120.7 274.4,120.9 275.7,121.1 277.1,121.6 278.4,122.6 279.7,122.7 281.1,122.5 282.4,122.0 283.7,121.4 285.1,120.7 286.4,120.1 287.8,120.0 289.1,121.6 290.4,125.3 291.8,131.2 293.1,141.9 294.4,152.7 295.8,157.5 297.1,158.9 298.5,158.7 299.8,157.0 301.1,154.5 302.5,152.1 303.8,150.3 305.1,148.7 306.5,146.7 307.8,144.3 309.2,141.6 310.5,138.7 311.8,135.8 313.2,132.9 314.5,130.1 315.8,128.3 317.2,126.6 318.5,125.0 319.9,123.4 321.2,121.8 322.5,120.4 323.9,119.1 325.2,118.0 326.5,117.8 327.9,118.5 329.2,119.7 330.6,121.1 331.9,122.7 333.2,124.2 334.6,125.2 335.9,125.4 337.2,125.3 338.6,125.3 339.9,125.2 341.3,125.4 342.6,126.0 343.9,126.6 345.3,127.3 346.6,128.1 347.9,128.9 349.3,129.7 350.6,130.4 352.0,131.2 353.3,131.9 354.6,133.8 356.0,134.7 357.3,134.8 358.6,136.0 360.0,137.3 361.3,138.3 362.7,140.5 364.0,141.1 365.3,140.1 366.7,141.0 368.0,142.4 369.3,145.2 370.7,148.8 372.0,151.8 373.4,154.2 374.7,157.3" stroke="#6ab19b"/>
<polyline points="87.1,239.2 88.5,238.6 89.8,237.7 91.1,236.8 92.5,235.8 93.8,234.6 95.1,233.5 96.5,232.3 97.8,231.1 99.2,229.9 100.5,228.8 101.8,227.6 103.2,226.4 104.5,225.0 105.8,222.9 107.2,220.6 108.5,218.2 109.9,215.8 111.2,213.1 112.5,210.4 113.9,207.5 115.2,204.0 116.5,200.0 117.9,196.1 119.2,192.4 120.6,188.8 121.9,185.6 123.2,183.5 124.6,181.8 125.9,180.1 127.2,178.5 128.6,176.9 129.9,175.4 131.3,174.0 132.6,172.5 133.9,171.1 135.3,169.8 136.6,168.7 137.9,167.7 139.3,166.8 140.6,165.9 142.0,165.0 143.3,164.2 144.6,163.6 146.0,163.0 147.3,162.6 148.6,162.2 150.0,161.8 151.3,161.5 152.7,161.3 154.0,161.1 155.3,160.9 156.7,160.7 158.0,160.6 159.3,160.5 160.7,160.3 162.0,160.2 163.4,160.1 164.7,159.9 166.0,159.7 167.4,159.4 168.7,159.1 170.0,158.8 171.4,158.3 172.7,157.8 174.1,157.2 175.4,156.6 176.7,156.0 178.1,155.4 179.4,154.7 180.7,154.0 182.1,153.2 183.4,152.4 184.8,151.6 186.1,150.8 187.4,149.9 188.8,149.0 190.1,148.2 191.4,147.3 192.8,146.4 194.1,145.5 195.5,144.5 196.8,143.6 198.1,142.7 199.5,141.8 200.8,140.9 202.1,140.0 203.5,139.2 204.8,138.3 206.2,137.5 207.5,136.6 208.8,135.9 210.2,135.1 211.5,134.5 212.9,133.8 214.2,133.2 215.5,132.6 216.9,132.1 218.2,131.5 219.5,131.2 220.9,131.2 222.2,131.5 223.6,132.0 224.9,133.0 226.2,135.7 227.6,139.0 228.9,141.0 230.2,140.1 231.6,138.4 232.9,136.7 234.3,135.1 235.6,134.2 236.9,133.4 238.3,132.7 239.6,132.0 240.9,131.3 242.3,130.7 243.6,130.0 245.0,129.4 246.3,128.8 247.6,128.2 249.0,127.6 250.3,127.0 251.6,126.6 253.0,126.2 254.3,125.8 255.7,125.5 257.0,125.2 258.3,124.9 259.7,124.7 261.0,124.4 262.3,124.1 263.7,123.9 265.0,123.6 266.4,123.3 267.7,123.1 269.0,122.8 270.4,122.6 271.7,122.4 273.0,122.5 274.4,122.7 275.7,122.9 277.1,123.0 278.4,122.8 279.7,122.5 281.1,122.3 282.4,121.8 283.7,121.2 285.1,120.4 286.4,119.8 287.8,119.7 289.1,121.3 290.4,124.9 291.8,130.9 293.1,141.8 294.4,152.7 295.8,157.5 297.1,159.0 298.5,158.8 299.8,157.1 301.1,154.6 302.5,152.1 303.8,150.4 305.1,148.8 306.5,146.8 307.8,144.4 309.2,141.7 310.5,138.8 311.8,135.9 313.2,132.9 314.5,130.2 315.8,128.3 317.2,126.7 318.5,125.0 319.9,123.4 321.2,121.8 322.5,120.4 323.9,119.1 325.2,118.0 326.5,117.7 327.9,118.4 329.2,119.7 330.6,121.1 331.9,122.7 333.2,124.2 334.6,125.2 335.9,125.4 337.2,125.3 338.6,125.3 339.9,125.3 341.3,125.4 342.6,125.8 343.9,126.5 345.3,127.3 346.6,128.4 347.9,129.3 349.3,130.3 350.6,131.7 352.0,132.5 353.3,133.0 354.6,133.8 356.0,135.2 357.3,136.5 358.6,137.7 360.0,138.3 361.3,139.2 362.7,139.5 364.0,139.7 365.3,140.0 366.7,141.2 368.0,143.5 369.3,145.7 370.7,147.7 372.0,149.9 373.4,152.5 374.7,153.8" stroke="#aaaa62"/>
<polyline points="87.1,239.6 88.5,238.9 89.8,238.1 91.1,237.2 92.5,236.2 93.8,235.1 95.1,234.0 96.5,232.9 97.8,231.7 99.2,230.6 100.5,229.5 101.8,228.4 103.2,227.2 104.5,225.8 105.8,223.8 107.2,221.6 108.5,219.2 109.9,216.8 111.2,214.2 112.5,211.6 113.9,208.7 115.2,205.2 116.5,201.3 117.9,197.5 119.2,193.7 120.6,190.1 121.9,187.0 123.2,184.9 124.6,183.2 125.9,181.5 127.2,179.9 128.6,178.3 129.9,176.9 131.3,175.4 132.6,174.0 133.9,172.6 135.3,171.3 136.6,170.2 137.9,169.2 139.3,168.3 140.6,167.4 142.0,166.6 143.3,165.8 144.6,165.2 146.0,164.6 147.3,164.2 148.6,163.8 150.0,163.4 151.3,163.1 152.7,162.9 154.0,162.7 155.3,162.5 156.7,162.4 158.0,162.3 159.3,162.1 160.7,162.0 162.0,161.9 163.4,161.7 164.7,161.5 166.0,161.3 167.4,161.1 168.7,160.8 170.0,160.4 171.4,160.0 172.7,159.5 174.1,159.0 175.4,158.4 176.7,157.8 178.1,157.2 179.4,156.5 180.7,155.8 182.1,155.1 183.4,154.3 184.8,153.5 186.1,152.7 187.4,151.8 188.8,151.0 190.1,150.1 191.4,149.2 192.8,148.4 194.1,147.5 195.5,146.6 196.8,145.7 198.1,144.8 199.5,143.9 200.8,143.0 202.1,142.1 203.5,141.3 204.8,140.4 206.2,139.6 207.5,138.8 208.8,138.0 210.2,137.3 211.5,136.7 212.9,136.0 214.2,135.4 215.5,134.9 216.9,134.3 218.2,133.8 219.5,133.4 220.9,133.5 222.2,133.7 223.6,134.2 224.9,135.2 226.2,137.9 227.6,141.1 228.9,143.1 230.2,142.2 231.6,140.5 232.9,138.7 234.3,137.2 235.6,136.2 236.9,135.5 238.3,134.7 239.6,134.0 240.9,133.3 242.3,132.7 243.6,132.1 245.0,131.5 246.3,130.8 247.6,130.2 249.0,129.6 250.3,129.0 251.6,128.6 253.0,128.2 254.3,127.8 255.7,127.4 257.0,127.2 258.3,126.9 259.7,126.6 261.0,126.3 262.3,126.0 263.7,125.8 265.0,125.5 266.4,125.2 267.7,124.9 269.0,124.7 270.4,124.4 271.7,124.3 273.0,124.3 274.4,124.5 275.7,124.7 277.1,124.7 278.4,124.5 279.7,124.3 281.1,124.0 282.4,123.6 283.7,122.9 285.1,122.1 286.4,121.5 287.8,121.3 289.1,122.8 290.4,126.5 291.8,132.4 293.1,143.2 294.4,154.1 295.8,159.0 297.1,160.4 298.5,160.2 299.8,158.6 301.1,156.1 302.5,153.7 303.8,152.1 305.1,150.5 306.5,148.5 307.8,146.1 309.2,143.4 310.5,140.6 311.8,137.7 313.2,134.7 314.5,131.9 315.8,130.1 317.2,128.4 318.5,126.8 319.9,125.2 321.2,123.7 322.5,122.3 323.9,121.1 325.2,120.0 326.5,119.8 327.9,120.5 329.2,121.8 330.6,123.3 331.9,124.9 333.2,126.5 334.6,127.5 335.9,127.8 337.2,127.8 338.6,127.9 339.9,128.1 341.3,128.3 342.6,128.7 343.9,129.6 345.3,130.5 346.6,131.3 347.9,132.2 349.3,133.5 350.6,134.5 352.0,135.9 353.3,136.3 354.6,137.5 356.0,138.7 357.3,139.7 358.6,140.4 360.0,141.4 361.3,142.0 362.7,142.1 364.0,143.6 365.3,143.9 366.7,145.0 368.0,148.6 369.3,151.6 370.7,152.6 372.0,156.1 373.4,158.2 374.7,159.3" stroke="#878787"/>
<polyline points="87.1,240.0 88.5,239.4 89.8,238.6 91.1,237.7 92.5,236.8 93.8,235.7 95.1,234.7 96.5,233.6 97.8,232.5 99.2,231.4 100.5,230.3 101.8,229.3 103.2,228.2 104.5,226.8 105.8,224.9 107.2,222.7 108.5,220.5 109.9,218.1 111.2,215.6 112.5,213.0 113.9,210.2 115.2,206.8 116.5,202.9 117.9,199.1 119.2,195.5 120.6,191.9 121.9,188.7 123.2,186.7 124.6,184.9 125.9,183.3 127.2,181.7 128.6,180.2 129.9,178.7 131.3,177.3 132.6,175.9 133.9,174.6 135.3,173.3 136.6,172.2 137.9,171.3 139.3,170.4 140.6,169.5 142.0,168.7 143.3,168.0 144.6,167.3 146.0,166.8 147.3,166.4 148.6,166.0 150.0,165.6 151.3,165.3 152.7,165.1 154.0,164.9 155.3,164.8 156.7,164.6 158.0,164.5 159.3,164.3 160.7,164.2 162.0,164.1 163.4,163.9 164.7,163.8 166.0,163.5 167.4,163.3 168.7,163.0 170.0,162.7 171.4,162.2 172.7,161.4 174.1,160.8 175.4,160.2 176.7,159.7 178.1,159.0 179.4,158.4 180.7,157.7 182.1,157.0 183.4,156.2 184.8,155.5 186.1,154.7 187.4,153.9 188.8,153.1 190.1,152.2 191.4,151.4 192.8,150.5 194.1,149.7 195.5,148.8 196.8,147.9 198.1,147.1 199.5,146.2 200.8,145.4 202.1,144.5 203.5,143.7 204.8,142.9 206.2,142.0 207.5,141.3 208.8,140.5 210.2,139.8 211.5,139.1 212.9,138.5 214.2,137.9 215.5,137.3 216.9,136.7 218.2,136.2 219.5,135.8 220.9,135.8 222.2,136.1 223.6,136.5 224.9,137.5 226.2,140.1 227.6,143.3 228.9,145.2 230.2,144.4 231.6,142.6 232.9,140.9 234.3,139.3 235.6,138.4 236.9,137.7 238.3,136.9 239.6,136.2 240.9,135.5 242.3,134.9 243.6,134.3 245.0,133.7 246.3,133.0 247.6,132.4 249.0,131.8 250.3,131.2 251.6,130.8 253.0,130.4 254.3,130.0 255.7,129.7 257.0,129.4 258.3,129.1 259.7,128.8 261.0,128.5 262.3,128.2 263.7,128.0 265.0,127.7 266.4,127.4 267.7,127.1 269.0,126.8 270.4,126.5 271.7,126.4 273.0,126.4 274.4,126.5 275.7,126.7 277.1,126.6 278.4,126.2 279.7,125.8 281.1,125.5 282.4,125.0 283.7,124.3 285.1,123.5 286.4,122.8 287.8,122.6 289.1,124.1 290.4,127.7 291.8,133.6 293.1,144.4 294.4,155.4 295.8,160.2 297.1,161.7 298.5,161.5 299.8,159.9 301.1,157.4 302.5,155.1 303.8,153.4 305.1,151.9 306.5,150.0 307.8,147.6 309.2,144.9 310.5,142.1 311.8,139.1 313.2,136.1 314.5,133.4 315.8,131.5 317.2,129.8 318.5,128.2 319.9,126.6 321.2,125.1 322.5,123.8 323.9,122.6 325.2,121.7 326.5,121.6 327.9,122.4 329.2,123.8 330.6,125.4 331.9,127.1 333.2,128.8 334.6,130.0 335.9,130.4 337.2,130.5 338.6,130.7 339.9,130.9 341.3,131.3 342.6,131.9 343.9,132.9 345.3,133.9 346.6,134.6 347.9,135.5 349.3,136.9 350.6,138.2 352.0,139.2 353.3,140.0 354.6,141.0 356.0,142.9 357.3,143.8 358.6,144.9 360.0,145.9 361.3,145.5 362.7,146.0 364.0,147.8 365.3,148.0 366.7,148.7 368.0,149.7 369.3,151.6 370.7,154.8 372.0,156.4 373.4,159.5 374.7,161.7" stroke="#e38662"/>
<polyline points="87.1,240.3 88.5,239.7 89.8,238.9 91.1,238.1 92.5,237.2 93.8,236.2 95.1,235.1 96.5,234.1 97.8,233.0 99.2,232.0 100.5,231.0 101.8,230.0 103.2,228.9 104.5,227.5 105.8,225.7 107.2,223.6 108.5,221.4 109.9,219.1 111.2,216.6 112.5,214.1 113.9,211.3 115.2,207.9 116.5,204.1 117.9,200.3 119.2,196.7 120.6,193.1 121.9,189.9 123.2,187.8 124.6,186.1 125.9,184.4 127.2,182.8 128.6,181.3 129.9,179.9 131.3,178.5 132.6,177.1 133.9,175.7 135.3,174.5 136.6,173.4 137.9,172.5 139.3,171.6 140.6,170.7 142.0,170.0 143.3,169.2 144.6,168.6 146.0,168.1 147.3,167.7 148.6,167.3 150.0,166.9 151.3,166.7 152.7,166.4 154.0,166.2 155.3,166.1 156.7,165.9 158.0,165.8 159.3,165.7 160.7,165.5 162.0,165.4 163.4,165.3 164.7,165.1 166.0,164.9 167.4,164.7 168.7,164.4 170.0,164.0 171.4,163.6 172.7,163.1 174.1,162.6 175.4,162.1 176.7,161.5 178.1,160.9 179.4,160.3 180.7,159.6 182.1,158.9 183.4,158.2 184.8,157.4 186.1,156.6 187.4,155.8 188.8,155.0 190.1,154.2 191.4,153.4 192.8,152.6 194.1,151.8 195.5,150.9 196.8,150.1 198.1,149.2 199.5,148.4 200.8,147.6 202.1,146.7 203.5,145.9 204.8,145.1 206.2,144.3 207.5,143.6 208.8,142.8 210.2,142.1 211.5,141.5 212.9,140.9 214.2,140.3 215.5,139.7 216.9,139.1 218.2,138.6 219.5,138.2 220.9,138.3 222.2,138.5 223.6,139.0 224.9,140.0 226.2,142.5 227.6,145.7 228.9,147.6 230.2,146.7 231.6,145.0 232.9,143.3 234.3,141.7 235.6,140.8 236.9,140.1 238.3,139.4 239.6,138.7 240.9,138.0 242.3,137.4 243.6,136.8 245.0,136.2 246.3,135.6 247.6,135.0 249.0,134.4 250.3,133.8 251.6,133.4 253.0,133.0 254.3,132.6 255.7,132.3 257.0,132.0 258.3,131.8 259.7,131.5 261.0,131.2 262.3,130.9 263.7,130.7 265.0,130.4 266.4,130.1 267.7,129.8 269.0,129.5 270.4,129.3 271.7,129.1 273.0,129.1 274.4,129.3 275.7,129.4 277.1,129.4 278.4,129.2 279.7,128.9 281.1,128.6 282.4,128.2 283.7,127.5 285.1,126.6 286.4,126.0 287.8,125.7 289.1,127.2 290.4,130.7 291.8,136.5 293.1,147.3 294.4,158.1 295.8,162.8 297.1,164.3 298.5,164.1 299.8,162.6 301.1,160.1 302.5,157.8 303.8,156.2 305.1,154.8 306.5,152.9 307.8,150.6 309.2,147.9 310.5,145.1 311.8,142.3 313.2,139.3 314.5,136.6 315.8,134.8 317.2,133.2 318.5,131.6 319.9,130.1 321.2,128.6 322.5,127.3 323.9,126.1 325.2,125.2 326.5,125.0 327.9,125.8 329.2,127.2 330.6,128.7 331.9,130.3 333.2,131.9 334.6,133.1 335.9,133.4 337.2,133.6 338.6,133.8 339.9,134.1 341.3,134.5 342.6,135.0 343.9,136.0 345.3,137.1 346.6,137.6 347.9,138.4 349.3,139.8 350.6,141.2 352.0,142.3 353.3,144.0 354.6,144.6 356.0,146.2 357.3,146.3 358.6,146.7 360.0,148.1 361.3,149.3 362.7,149.3 364.0,150.0 365.3,151.5 366.7,152.9 368.0,154.0 369.3,156.1 370.7,159.1 372.0,161.2 373.4,164.2 374.7,166.3" stroke="#799ad5"/>
<polyline points="87.1,240.6 88.5,240.1 89.8,239.3 91.1,238.6 92.5,237.7 93.8,236.7 95.1,235.7 96.5,234.7 97.8,233.7 99.2,232.7 100.5,231.7 101.8,230.7 103.2,229.7 104.5,228.4 105.8,226.6 107.2,224.6 108.5,222.4 109.9,220.2 111.2,217.8 112.5,215.3 113.9,212.6 115.2,209.3 116.5,205.5 117.9,201.8 119.2,198.2 120.6,194.6 121.9,191.4 123.2,189.3 124.6,187.5 125.9,185.9 127.2,184.3 128.6,182.8 129.9,181.4 131.3,180.0 132.6,178.6 133.9,177.2 135.3,176.0 136.6,174.9 137.9,174.0 139.3,173.1 140.6,172.3 142.0,171.5 143.3,170.8 144.6,170.2 146.0,169.7 147.3,169.3 148.6,168.9 150.0,168.6 151.3,168.3 152.7,168.1 154.0,167.9 155.3,167.8 156.7,167.6 158.0,167.5 159.3,167.4 160.7,167.3 162.0,167.1 163.4,167.0 164.7,166.8 166.0,166.6 167.4,166.4 168.7,166.1 170.0,165.8 171.4,165.4 172.7,164.9 174.1,164.4 175.4,163.9 176.7,163.3 178.1,162.7 179.4,162.1 180.7,161.5 182.1,160.8 183.4,160.1 184.8,159.4 186.1,158.6 187.4,157.9 188.8,157.1 190.1,156.3 191.4,155.5 192.8,154.7 194.1,153.9 195.5,153.1 196.8,152.3 198.1,151.5 199.5,150.7 200.8,149.9 202.1,149.1 203.5,148.3 204.8,147.5 206.2,146.8 207.5,146.0 208.8,145.3 210.2,144.6 211.5,144.0 212.9,143.4 214.2,142.8 215.5,142.3 216.9,141.7 218.2,141.2 219.5,140.8 220.9,140.8 222.2,141.1 223.6,141.5 224.9,142.5 226.2,145.1 227.6,148.2 228.9,150.0 230.2,149.1 231.6,147.4 232.9,145.7 234.3,144.2 235.6,143.3 236.9,142.6 238.3,141.9 239.6,141.3 240.9,140.6 242.3,140.0 243.6,139.4 245.0,138.8 246.3,138.2 247.6,137.6 249.0,137.0 250.3,136.5 251.6,136.1 253.0,135.7 254.3,135.4 255.7,135.0 257.0,134.8 258.3,134.5 259.7,134.2 261.0,134.0 262.3,133.7 263.7,133.4 265.0,133.1 266.4,132.9 267.7,132.6 269.0,132.3 270.4,132.1 271.7,131.9 273.0,131.9 274.4,132.0 275.7,132.1 277.1,132.1 278.4,131.9 279.7,131.6 281.1,131.3 282.4,130.9 283.7,130.3 285.1,129.5 286.4,128.9 287.8,128.7 289.1,130.2 290.4,133.8 291.8,139.5 293.1,150.2 294.4,160.8 295.8,165.5 297.1,167.0 298.5,166.8 299.8,165.2 301.1,162.8 302.5,160.4 303.8,158.8 305.1,157.4 306.5,155.5 307.8,153.2 309.2,150.6 310.5,147.9 311.8,145.1 313.2,142.2 314.5,139.5 315.8,137.7 317.2,136.1 318.5,134.5 319.9,133.0 321.2,131.6 322.5,130.3 323.9,129.2 325.2,128.3 326.5,128.1 327.9,128.9 329.2,130.2 330.6,131.7 331.9,133.4 333.2,134.9 334.6,136.1 335.9,136.5 337.2,136.7 338.6,137.0 339.9,137.2 341.3,137.6 342.6,138.2 343.9,139.0 345.3,140.2 346.6,141.6 347.9,142.5 349.3,143.5 350.6,144.3 352.0,145.2 353.3,146.5 354.6,147.8 356.0,149.1 357.3,149.9 358.6,149.8 360.0,150.8 361.3,152.3 362.7,153.2 364.0,154.9 365.3,156.4 366.7,156.5 368.0,156.5 369.3,160.3 370.7,165.5 372.0,167.6 373.4,168.8 374.7,170.3" stroke="#70bfc6"/>
<polyline points="87.1,241.0 88.5,240.4 89.8,239.7 91.1,239.0 92.5,238.2 93.8,237.2 95.1,236.3 96.5,235.3 97.8,234.4 99.2,233.4 100.5,232.5 101.8,231.5 103.2,230.5 104.5,229.3 105.8,227.5 107.2,225.6 108.5,223.5 109.9,221.4 111.2,219.0 112.5,216.6 113.9,213.9 115.2,210.6 116.5,206.9 117.9,203.2 119.2,199.6 120.6,196.0 121.9,192.9 123.2,190.8 124.6,189.0 125.9,187.3 127.2,185.8 128.6,184.3 129.9,182.9 131.3,181.5 132.6,180.1 133.9,178.8 135.3,177.6 136.6,176.6 137.9,175.6 139.3,174.8 140.6,174.0 142.0,173.2 143.3,172.5 144.6,171.9 146.0,171.4 147.3,171.0 148.6,170.7 150.0,170.3 151.3,170.1 152.7,169.9 154.0,169.7 155.3,169.5 156.7,169.4 158.0,169.3 159.3,169.2 160.7,169.0 162.0,168.9 163.4,168.8 164.7,168.6 166.0,168.4 167.4,168.2 168.7,167.9 170.0,167.6 171.4,167.2 172.7,166.7 174.1,166.2 175.4,165.7 176.7,165.2 178.1,164.6 179.4,164.0 180.7,163.4 182.1,162.7 183.4,162.0 184.8,161.3 186.1,160.6 187.4,159.9 188.8,159.1 190.1,158.4 191.4,157.6 192.8,156.8 194.1,156.1 195.5,155.3 196.8,154.5 198.1,153.7 199.5,153.0 200.8,152.2 202.1,151.4 203.5,150.7 204.8,149.9 206.2,149.2 207.5,148.5 208.8,147.8 210.2,147.1 211.5,146.5 212.9,145.9 214.2,145.4 215.5,144.8 216.9,144.3 218.2,143.7 219.5,143.4 220.9,143.4 222.2,143.7 223.6,144.1 224.9,145.1 226.2,147.6 227.6,150.6 228.9,152.4 230.2,151.6 231.6,149.9 232.9,148.2 234.3,146.7 235.6,145.8 236.9,145.2 238.3,144.5 239.6,143.8 240.9,143.2 242.3,142.6 243.6,142.0 245.0,141.4 246.3,140.9 247.6,140.3 249.0,139.7 250.3,139.2 251.6,138.8 253.0,138.4 254.3,138.1 255.7,137.8 257.0,137.5 258.3,137.2 259.7,137.0 261.0,136.7 262.3,136.4 263.7,136.2 265.0,135.9 266.4,135.6 267.7,135.4 269.0,135.1 270.4,134.9 271.7,134.7 273.0,134.7 274.4,134.8 275.7,134.9 277.1,134.8 278.4,134.6 279.7,134.4 281.1,134.1 282.4,133.7 283.7,133.1 285.1,132.4 286.4,131.8 287.8,131.7 289.1,133.3 290.4,136.8 291.8,142.5 293.1,153.0 294.4,163.6 295.8,168.2 297.1,169.6 298.5,169.4 299.8,167.8 301.1,165.4 302.5,163.0 303.8,161.4 305.1,159.9 306.5,158.1 307.8,155.8 309.2,153.3 310.5,150.6 311.8,147.8 313.2,145.0 314.5,142.4 315.8,140.6 317.2,139.0 318.5,137.5 319.9,136.0 321.2,134.6 322.5,133.3 323.9,132.2 325.2,131.3 326.5,131.1 327.9,131.9 329.2,133.2 330.6,134.7 331.9,136.2 333.2,137.8 334.6,138.9 335.9,139.3 337.2,139.5 338.6,139.8 339.9,140.0 341.3,140.4 342.6,141.0 343.9,142.0 345.3,142.9 346.6,143.9 347.9,145.0 349.3,146.1 350.6,146.7 352.0,147.8 353.3,149.3 354.6,150.2 356.0,151.1 357.3,152.1 358.6,152.7 360.0,153.4 361.3,154.2 362.7,155.4 364.0,156.4 365.3,157.2 366.7,157.5 368.0,159.3 369.3,162.2 370.7,164.0 372.0,166.3 373.4,169.7 374.7,171.0" stroke="#b88d8d"/>
<polyline points="87.1,241.4 88.5,240.8 89.8,240.1 91.1,239.4 92.5,238.6 93.8,237.7 95.1,236.8 96.5,235.9 97.8,235.0 99.2,234.1 100.5,233.2 101.8,232.3 103.2,231.3 104.5,230.1 105.8,228.5 107.2,226.6 108.5,224.6 109.9,222.5 111.2,220.2 112.5,217.8 113.9,215.2 115.2,211.9 116.5,208.2 117.9,204.5 119.2,200.9 120.6,197.3 121.9,194.2 123.2,192.0 124.6,190.3 125.9,188.7 127.2,187.3 128.6,185.9 129.9,184.6 131.3,183.4 132.6,182.1 133.9,180.9 135.3,179.8 136.6,178.9 137.9,178.1 139.3,177.3 140.6,176.5 142.0,175.8 143.3,175.1 144.6,174.5 146.0,174.0 147.3,173.6 148.6,173.2 150.0,172.8 151.3,172.5 152.7,172.3 154.0,172.0 155.3,171.8 156.7,171.7 158.0,171.5 159.3,171.3 160.7,171.1 162.0,171.0 163.4,170.8 164.7,170.6 166.0,170.3 167.4,170.1 168.7,169.8 170.0,169.4 171.4,169.0 172.7,168.6 174.1,168.0 175.4,167.5 176.7,167.0 178.1,166.5 179.4,165.9 180.7,165.3 182.1,164.7 183.4,164.1 184.8,163.4 186.1,162.8 187.4,162.1 188.8,161.5 190.1,160.8 191.4,160.1 192.8,159.4 194.1,158.7 195.5,158.0 196.8,157.3 198.1,156.6 199.5,155.9 200.8,155.2 202.1,154.5 203.5,153.8 204.8,153.2 206.2,152.5 207.5,151.8 208.8,151.2 210.2,150.5 211.5,149.9 212.9,149.3 214.2,148.7 215.5,148.2 216.9,147.6 218.2,147.1 219.5,146.7 220.9,146.7 222.2,147.0 223.6,147.3 224.9,148.3 226.2,150.7 227.6,153.7 228.9,155.4 230.2,154.6 231.6,152.9 232.9,151.2 234.3,149.7 235.6,148.9 236.9,148.2 238.3,147.5 239.6,146.9 240.9,146.3 242.3,145.7 243.6,145.1 245.0,144.5 246.3,143.9 247.6,143.4 249.0,142.8 250.3,142.3 251.6,141.9 253.0,141.5 254.3,141.1 255.7,140.8 257.0,140.6 258.3,140.3 259.7,140.0 261.0,139.7 262.3,139.5 263.7,139.2 265.0,138.9 266.4,138.6 267.7,138.3 269.0,138.0 270.4,137.7 271.7,137.5 273.0,137.5 274.4,137.5 275.7,137.6 277.1,137.5 278.4,137.2 279.7,136.9 281.1,136.6 282.4,136.2 283.7,135.6 285.1,134.9 286.4,134.4 287.8,134.3 289.1,135.9 290.4,139.5 291.8,145.2 293.1,155.6 294.4,166.0 295.8,170.6 297.1,172.0 298.5,171.7 299.8,170.2 301.1,167.7 302.5,165.4 303.8,163.8 305.1,162.3 306.5,160.5 307.8,158.2 309.2,155.7 310.5,153.1 311.8,150.4 313.2,147.5 314.5,145.0 315.8,143.2 317.2,141.7 318.5,140.2 319.9,138.7 321.2,137.3 322.5,136.1 323.9,135.0 325.2,134.1 326.5,133.9 327.9,134.7 329.2,135.9 330.6,137.4 331.9,138.9 333.2,140.4 334.6,141.5 335.9,141.9 337.2,142.2 338.6,142.4 339.9,142.8 341.3,143.1 342.6,143.6 343.9,144.7 345.3,145.9 346.6,147.0 347.9,147.9 349.3,149.1 350.6,150.2 352.0,151.7 353.3,152.9 354.6,154.2 356.0,155.1 357.3,154.4 358.6,155.6 360.0,156.6 361.3,157.5 362.7,158.2 364.0,159.9 365.3,161.1 366.7,162.4 368.0,162.8 369.3,164.1 370.7,166.5 372.0,170.3 373.4,172.3 374.7,172.1" stroke="#9bc662"/>
<polyline points="87.1,242.0 88.5,241.5 89.8,240.8 91.1,240.2 92.5,239.4 93.8,238.6 95.1,237.8 96.5,236.9 97.8,236.1 99.2,235.3 100.5,234.4 101.8,233.6 103.2,232.7 104.5,231.6 105.8,230.0 107.2,228.2 108.5,226.4 109.9,224.4 111.2,222.3 112.5,220.0 113.9,217.5 115.2,214.3 116.5,210.8 117.9,207.2 119.2,203.7 120.6,200.3 121.9,197.2 123.2,195.2 124.6,193.5 125.9,192.1 127.2,190.8 128.6,189.6 129.9,188.5 131.3,187.5 132.6,186.5 133.9,185.4 135.3,184.5 136.6,183.8 137.9,183.2 139.3,182.5 140.6,181.9 142.0,181.3 143.3,180.7 144.6,180.2 146.0,179.7 147.3,179.3 148.6,178.9 150.0,178.5 151.3,178.1 152.7,177.8 154.0,177.5 155.3,177.2 156.7,176.9 158.0,176.6 159.3,176.3 160.7,176.0 162.0,175.8 163.4,175.5 164.7,175.2 166.0,174.8 167.4,174.5 168.7,174.1 170.0,173.7 171.4,172.8 172.7,170.9 174.1,169.9 175.4,169.4 176.7,168.9 178.1,168.3 179.4,167.8 180.7,167.3 182.1,166.7 183.4,166.2 184.8,165.6 186.1,165.0 187.4,164.5 188.8,163.9 190.1,163.3 191.4,162.7 192.8,162.1 194.1,161.5 195.5,160.9 196.8,160.3 198.1,159.8 199.5,159.2 200.8,158.5 202.1,157.9 203.5,157.3 204.8,156.7 206.2,156.1 207.5,155.5 208.8,154.9 210.2,154.4 211.5,153.8 212.9,153.2 214.2,152.7 215.5,152.1 216.9,151.6 218.2,151.0 219.5,150.6 220.9,150.7 222.2,150.9 223.6,151.2 224.9,152.1 226.2,154.5 227.6,157.3 228.9,159.0 230.2,158.2 231.6,156.5 232.9,154.9 234.3,153.4 235.6,152.5 236.9,151.9 238.3,151.2 239.6,150.6 240.9,149.9 242.3,149.4 243.6,148.8 245.0,148.2 246.3,147.6 247.6,147.0 249.0,146.4 250.3,145.9 251.6,145.5 253.0,145.1 254.3,144.7 255.7,144.4 257.0,144.1 258.3,143.8 259.7,143.5 261.0,143.2 262.3,142.8 263.7,142.5 265.0,142.2 266.4,141.9 267.7,141.5 269.0,141.2 270.4,140.9 271.7,140.7 273.0,140.6 274.4,140.5 275.7,140.5 277.1,140.3 278.4,140.0 279.7,139.7 281.1,139.3 282.4,138.9 283.7,138.3 285.1,137.7 286.4,137.2 287.8,137.2 289.1,138.9 290.4,142.4 291.8,148.1 293.1,158.4 294.4,168.7 295.8,173.2 297.1,174.5 298.5,174.3 299.8,172.7 301.1,170.2 302.5,167.9 303.8,166.3 305.1,164.8 306.5,163.0 307.8,160.8 309.2,158.3 310.5,155.7 311.8,153.1 313.2,150.3 314.5,147.8 315.8,146.1 317.2,144.6 318.5,143.1 319.9,141.7 321.2,140.3 322.5,139.1 323.9,138.0 325.2,137.2 326.5,136.9 327.9,137.6 329.2,138.9 330.6,140.3 331.9,141.8 333.2,143.2 334.6,144.3 335.9,144.7 337.2,145.0 338.6,145.2 339.9,145.5 341.3,145.9 342.6,146.5 343.9,147.5 345.3,148.5 346.6,149.8 347.9,150.7 349.3,151.8 350.6,152.9 352.0,154.2 353.3,155.2 354.6,155.9 356.0,157.5 357.3,159.2 358.6,159.3 360.0,159.1 361.3,160.9 362.7,161.9 364.0,161.9 365.3,163.3 366.7,165.1 368.0,166.2 369.3,167.3 370.7,170.2 372.0,173.1 373.4,175.3 374.7,177.1" stroke="#c69be3"/>
<polyline points="87.1,242.2 88.5,241.7 89.8,241.1 91.1,240.4 92.5,239.7 93.8,238.9 95.1,238.1 96.5,237.3 97.8,236.5 99.2,235.7 100.5,234.9 101.8,234.1 103.2,233.2 104.5,232.1 105.8,230.6 107.2,228.9 108.5,227.1 109.9,225.2 111.2,223.1 112.5,220.8 113.9,218.4 115.2,215.3 116.5,211.8 117.9,208.3 119.2,204.8 120.6,201.4 121.9,198.4 123.2,196.4 124.6,194.8 125.9,193.3 127.2,192.0 128.6,190.9 129.9,189.9 131.3,189.0 132.6,188.2 133.9,187.4 135.3,186.7 136.6,186.2 137.9,185.7 139.3,185.2 140.6,184.7 142.0,184.2 143.3,183.7 144.6,183.1 146.0,182.7 147.3,182.2 148.6,181.7 150.0,181.3 151.3,180.8 152.7,180.4 154.0,179.9 155.3,179.5 156.7,179.1 158.0,178.6 159.3,178.2 160.7,177.8 162.0,177.3 163.4,176.9 164.7,176.4 166.0,176.0 167.4,175.5 168.7,175.1 170.0,174.6 171.4,173.9 172.7,172.6 174.1,171.9 175.4,171.4 176.7,171.0 178.1,170.5 179.4,170.0 180.7,169.6 182.1,169.1 183.4,168.6 184.8,168.1 186.1,167.6 187.4,167.1 188.8,166.6 190.1,166.1 191.4,165.7 192.8,165.2 194.1,164.7 195.5,164.2 196.8,163.7 198.1,163.2 199.5,162.7 200.8,162.3 202.1,161.8 203.5,161.3 204.8,160.8 206.2,160.3 207.5,159.8 208.8,159.3 210.2,158.8 211.5,158.4 212.9,157.9 214.2,157.4 215.5,156.9 216.9,156.5 218.2,156.0 219.5,155.7 220.9,155.7 222.2,156.0 223.6,156.3 224.9,157.2 226.2,159.4 227.6,162.2 228.9,163.8 230.2,162.9 231.6,161.3 232.9,159.7 234.3,158.3 235.6,157.4 236.9,156.7 238.3,156.1 239.6,155.4 240.9,154.8 242.3,154.1 243.6,153.5 245.0,152.9 246.3,152.3 247.6,151.6 249.0,151.0 250.3,150.4 251.6,149.9 253.0,149.5 254.3,149.0 255.7,148.6 257.0,148.3 258.3,147.9 259.7,147.5 261.0,147.1 262.3,146.7 263.7,146.3 265.0,145.9 266.4,145.5 267.7,145.1 269.0,144.7 270.4,144.3 271.7,144.0 273.0,143.8 274.4,143.6 275.7,143.5 277.1,143.3 278.4,142.9 279.7,142.5 281.1,142.1 282.4,141.6 283.7,141.0 285.1,140.4 286.4,140.0 287.8,140.0 289.1,141.7 290.4,145.3 291.8,151.0 293.1,161.2 294.4,171.3 295.8,175.8 297.1,177.1 298.5,176.8 299.8,175.2 301.1,172.8 302.5,170.4 303.8,168.8 305.1,167.3 306.5,165.5 307.8,163.4 309.2,160.9 310.5,158.4 311.8,155.8 313.2,153.1 314.5,150.6 315.8,148.9 317.2,147.5 318.5,146.0 319.9,144.6 321.2,143.3 322.5,142.1 323.9,141.0 325.2,140.1 326.5,139.9 327.9,140.6 329.2,141.8 330.6,143.1 331.9,144.5 333.2,146.0 334.6,147.0 335.9,147.4 337.2,147.7 338.6,147.9 339.9,148.1 341.3,148.5 342.6,149.0 343.9,150.0 345.3,150.7 346.6,151.7 347.9,152.7 349.3,154.1 350.6,155.8 352.0,156.7 353.3,157.2 354.6,157.8 356.0,158.8 357.3,159.1 358.6,159.6 360.0,160.7 361.3,162.5 362.7,163.4 364.0,164.2 365.3,165.6 366.7,167.1 368.0,167.6 369.3,169.7 370.7,171.7 372.0,173.4 373.4,174.5 374.7,173.4" stroke="#e3b162"/>
<polyline points="87.1,242.4 88.5,242.0 89.8,241.3 91.1,240.7 92.5,240.0 93.8,239.3 95.1,238.5 96.5,237.7 97.8,236.9 99.2,236.2 100.5,235.4 101.8,234.6 103.2,233.8 104.5,232.8 105.8,231.3 107.2,229.6 108.5,227.8 109.9,225.9 111.2,223.9 112.5,221.7 113.9,219.3 115.2,216.2 116.5,212.8 117.9,209.3 119.2,205.9 120.6,202.5 121.9,199.4 123.2,197.4 124.6,195.9 125.9,194.4 127.2,193.2 128.6,192.1 129.9,191.2 131.3,190.5 132.6,189.8 133.9,189.2 135.3,188.7 136.6,188.4 137.9,188.1 139.3,187.8 140.6,187.4 142.0,186.9 143.3,186.5 144.6,186.1 146.0,185.7 147.3,185.3 148.6,184.9 150.0,184.6 151.3,184.2 152.7,183.8 154.0,183.5 155.3,183.1 156.7,182.7 158.0,182.4 159.3,182.0 160.7,181.6 162.0,181.2 163.4,180.8 164.7,180.4 166.0,180.0 167.4,179.6 168.7,179.1 170.0,178.7 171.4,178.2 172.7,177.7 174.1,177.2 175.4,176.8 176.7,176.3 178.1,175.9 179.4,175.4 180.7,174.9 182.1,174.5 183.4,174.0 184.8,173.5 186.1,173.0 187.4,172.5 188.8,172.0 190.1,171.5 191.4,171.0 192.8,170.5 194.1,170.0 195.5,169.5 196.8,169.0 198.1,168.5 199.5,168.0 200.8,167.5 202.1,167.0 203.5,166.5 204.8,166.0 206.2,165.5 207.5,165.0 208.8,164.5 210.2,164.0 211.5,163.5 212.9,163.0 214.2,162.5 215.5,162.0 216.9,161.5 218.2,161.0 219.5,160.7 220.9,160.7 222.2,160.9 223.6,161.2 224.9,162.0 226.2,164.1 227.6,166.8 228.9,168.3 230.2,167.4 231.6,165.8 232.9,164.2 234.3,162.7 235.6,161.9 236.9,161.2 238.3,160.5 239.6,159.8 240.9,159.2 242.3,158.6 243.6,157.9 245.0,157.3 246.3,156.7 247.6,156.0 249.0,155.4 250.3,154.8 251.6,154.3 253.0,153.8 254.3,153.4 255.7,153.0 257.0,152.6 258.3,152.1 259.7,151.7 261.0,151.3 262.3,150.9 263.7,150.5 265.0,150.1 266.4,149.6 267.7,149.2 269.0,148.8 270.4,148.3 271.7,148.0 273.0,147.7 274.4,147.5 275.7,147.3 277.1,147.0 278.4,146.6 279.7,146.2 281.1,145.7 282.4,145.2 283.7,144.6 285.1,144.0 286.4,143.5 287.8,143.5 289.1,145.2 290.4,148.8 291.8,154.4 293.1,164.6 294.4,174.7 295.8,179.1 297.1,180.4 298.5,180.1 299.8,178.5 301.1,176.1 302.5,173.7 303.8,172.1 305.1,170.6 306.5,168.9 307.8,166.7 309.2,164.4 310.5,161.9 311.8,159.3 313.2,156.7 314.5,154.3 315.8,152.7 317.2,151.3 318.5,149.9 319.9,148.6 321.2,147.3 322.5,146.1 323.9,145.0 325.2,144.0 326.5,143.7 327.9,144.2 329.2,145.3 330.6,146.5 331.9,147.8 333.2,149.1 334.6,150.1 335.9,150.5 337.2,150.7 338.6,150.9 339.9,151.1 341.3,151.5 342.6,152.2 343.9,153.1 345.3,153.9 346.6,154.4 347.9,154.9 349.3,156.4 350.6,158.1 352.0,158.7 353.3,159.6 354.6,160.7 356.0,161.1 357.3,162.0 358.6,163.0 360.0,163.7 361.3,164.1 362.7,164.2 364.0,165.5 365.3,167.5 366.7,169.0 368.0,169.2 369.3,171.8 370.7,173.8 372.0,175.8 373.4,178.5 374.7,181.8" stroke="#628dd5"/>
<polyline points="87.1,242.8 88.5,242.4 89.8,241.8 91.1,241.2 92.5,240.5 93.8,239.8 95.1,239.1 96.5,238.4 97.8,237.7 99.2,236.9 100.5,236.2 101.8,235.5 103.2,234.7 104.5,233.7 105.8,232.3 107.2,230.6 108.5,229.0 109.9,227.2 111.2,225.2 112.5,223.2 113.9,220.8 115.2,217.9 116.5,214.6 117.9,211.2 119.2,207.9 120.6,204.6 121.9,201.6 123.2,199.7 124.6,198.2 125.9,196.8 127.2,195.6 128.6,194.6 129.9,193.8 131.3,193.2 132.6,192.6 133.9,192.2 135.3,191.8 136.6,191.6 137.9,191.5 139.3,191.3 140.6,190.9 142.0,190.5 143.3,190.1 144.6,189.7 146.0,189.3 147.3,189.0 148.6,188.6 150.0,188.2 151.3,187.9 152.7,187.5 154.0,187.1 155.3,186.8 156.7,186.4 158.0,186.0 159.3,185.7 160.7,185.3 162.0,184.9 163.4,184.5 164.7,184.1 166.0,183.7 167.4,183.3 168.7,182.8 170.0,182.4 171.4,181.8 172.7,181.2 174.1,180.6 175.4,180.2 176.7,179.8 178.1,179.3 179.4,178.9 180.7,178.4 182.1,178.0 183.4,177.5 184.8,177.0 186.1,176.6 187.4,176.1 188.8,175.6 190.1,175.2 191.4,174.7 192.8,174.2 194.1,173.8 195.5,173.3 196.8,172.8 198.1,172.3 199.5,171.9 200.8,171.4 202.1,170.9 203.5,170.4 204.8,169.9 206.2,169.5 207.5,169.0 208.8,168.5 210.2,168.0 211.5,167.6 212.9,167.1 214.2,166.6 215.5,166.1 216.9,165.7 218.2,165.2 219.5,164.8 220.9,164.9 222.2,165.1 223.6,165.3 224.9,166.1 226.2,168.2 227.6,170.7 228.9,172.2 230.2,171.3 231.6,169.7 232.9,168.1 234.3,166.7 235.6,165.9 236.9,165.2 238.3,164.6 239.6,163.9 240.9,163.3 242.3,162.7 243.6,162.0 245.0,161.4 246.3,160.8 247.6,160.1 249.0,159.5 250.3,158.9 251.6,158.4 253.0,158.0 254.3,157.5 255.7,157.1 257.0,156.7 258.3,156.3 259.7,155.9 261.0,155.5 262.3,155.1 263.7,154.7 265.0,154.2 266.4,153.8 267.7,153.4 269.0,153.0 270.4,152.5 271.7,152.2 273.0,151.9 274.4,151.7 275.7,151.5 277.1,151.2 278.4,150.8 279.7,150.3 281.1,149.9 282.4,149.4 283.7,148.9 285.1,148.4 286.4,148.0 287.8,148.0 289.1,149.7 290.4,153.2 291.8,158.7 293.1,168.7 294.4,178.6 295.8,182.9 297.1,184.2 298.5,183.8 299.8,182.3 301.1,179.8 302.5,177.5 303.8,175.9 305.1,174.4 306.5,172.7 307.8,170.6 309.2,168.3 310.5,165.9 311.8,163.4 313.2,160.9 314.5,158.6 315.8,157.0 317.2,155.7 318.5,154.4 319.9,153.0 321.2,151.8 322.5,150.6 323.9,149.5 325.2,148.5 326.5,148.1 327.9,148.5 329.2,149.5 330.6,150.7 331.9,151.9 333.2,153.1 334.6,154.0 335.9,154.3 337.2,154.5 338.6,154.7 339.9,155.0 341.3,155.2 342.6,156.0 343.9,156.8 345.3,157.5 346.6,158.4 347.9,159.3 349.3,159.8 350.6,160.5 352.0,162.9 353.3,165.1 354.6,164.7 356.0,163.9 357.3,165.2 358.6,167.3 360.0,166.7 361.3,165.8 362.7,165.8 364.0,166.3 365.3,169.7 366.7,174.2 368.0,173.7 369.3,175.4 370.7,178.1 372.0,180.5 373.4,183.3 374.7,185.6" stroke="#dc7777"/>
<polyline points="87.1,243.1 88.5,242.7 89.8,242.1 91.1,241.6 92.5,241.0 93.8,240.3 95.1,239.6 96.5,238.9 97.8,238.2 99.2,237.5 100.5,236.9 101.8,236.2 103.2,235.4 104.5,234.5 105.8,233.1 107.2,231.6 108.5,229.9 109.9,228.2 111.2,226.4 112.5,224.4 113.9,222.2 115.2,219.3 116.5,216.1 117.9,212.9 119.2,209.7 120.6,206.4 121.9,203.6 123.2,201.7 124.6,200.2 125.9,198.9 127.2,197.7 128.6,196.8 129.9,196.1 131.3,195.5 132.6,195.1 133.9,194.7 135.3,194.4 136.6,194.3 137.9,194.3 139.3,194.1 140.6,193.8 142.0,193.4 143.3,193.0 144.6,192.6 146.0,192.3 147.3,191.9 148.6,191.5 150.0,191.2 151.3,190.8 152.7,190.4 154.0,190.1 155.3,189.7 156.7,189.3 158.0,189.0 159.3,188.6 160.7,188.2 162.0,187.8 163.4,187.4 164.7,187.0 166.0,186.6 167.4,186.2 168.7,185.8 170.0,185.3 171.4,184.9 172.7,184.4 174.1,184.0 175.4,183.5 176.7,183.1 178.1,182.7 179.4,182.2 180.7,181.8 182.1,181.3 183.4,180.8 184.8,180.3 186.1,179.8 187.4,179.3 188.8,178.8 190.1,178.3 191.4,177.8 192.8,177.3 194.1,176.8 195.5,176.2 196.8,175.7 198.1,175.2 199.5,174.7 200.8,174.1 202.1,173.6 203.5,173.1 204.8,172.5 206.2,172.0 207.5,171.5 208.8,170.9 210.2,170.4 211.5,169.9 212.9,169.4 214.2,168.9 215.5,168.4 216.9,167.9 218.2,167.4 219.5,167.1 220.9,167.1 222.2,167.3 223.6,167.6 224.9,168.4 226.2,170.5 227.6,173.0 228.9,174.4 230.2,173.6 231.6,172.1 232.9,170.6 234.3,169.2 235.6,168.5 236.9,167.9 238.3,167.3 239.6,166.8 240.9,166.2 242.3,165.7 243.6,165.2 245.0,164.7 246.3,164.2 247.6,163.7 249.0,163.1 250.3,162.7 251.6,162.3 253.0,162.0 254.3,161.7 255.7,161.4 257.0,161.1 258.3,160.9 259.7,160.6 261.0,160.3 262.3,160.1 263.7,159.8 265.0,159.5 266.4,159.2 267.7,158.9 269.0,158.6 270.4,158.4 271.7,158.1 273.0,158.0 274.4,157.9 275.7,157.8 277.1,157.6 278.4,157.5 279.7,157.2 281.1,156.9 282.4,156.6 283.7,156.3 285.1,155.9 286.4,155.7 287.8,155.9 289.1,157.7 290.4,161.1 291.8,166.3 293.1,175.8 294.4,185.0 295.8,189.1 297.1,190.2 298.5,189.9 299.8,188.3 301.1,185.9 302.5,183.6 303.8,182.0 305.1,180.6 306.5,178.9 307.8,177.0 309.2,174.8 310.5,172.6 311.8,170.3 313.2,167.9 314.5,165.7 315.8,164.2 317.2,163.0 318.5,161.7 319.9,160.4 321.2,159.2 322.5,158.0 323.9,156.9 325.2,156.0 326.5,155.5 327.9,155.8 329.2,156.7 330.6,157.7 331.9,158.7 333.2,159.7 334.6,160.5 335.9,160.8 337.2,161.0 338.6,161.1 339.9,161.3 341.3,161.6 342.6,162.1 343.9,162.6 345.3,163.3 346.6,163.9 347.9,164.9 349.3,165.9 350.6,166.6 352.0,167.5 353.3,168.0 354.6,169.0 356.0,169.8 357.3,170.3 358.6,170.6 360.0,171.8 361.3,172.9 362.7,174.0 364.0,174.3 365.3,174.6 366.7,175.3 368.0,175.8 369.3,178.0 370.7,179.7 372.0,182.7 373.4,185.3 374.7,186.9" stroke="#53b1aa"/>
<polyline points="87.1,243.6 88.5,243.2 89.8,242.7 91.1,242.2 92.5,241.6 93.8,241.0 95.1,240.4 96.5,239.7 97.8,239.1 99.2,238.5 100.5,237.8 101.8,237.2 103.2,236.5 104.5,235.6 105.8,234.3 107.2,232.9 108.5,231.4 109.9,229.8 111.2,228.1 112.5,226.3 113.9,224.2 115.2,221.6 116.5,218.6 117.9,215.6 119.2,212.6 120.6,209.6 121.9,207.0 123.2,205.3 124.6,203.9 125.9,202.7 127.2,201.7 128.6,200.8 129.9,200.0 131.3,199.4 132.6,198.9 133.9,198.4 135.3,198.1 136.6,197.9 137.9,197.7 139.3,197.5 140.6,197.2 142.0,196.8 143.3,196.5 144.6,196.1 146.0,195.8 147.3,195.4 148.6,195.1 150.0,194.7 151.3,194.4 152.7,194.1 154.0,193.7 155.3,193.4 156.7,193.0 158.0,192.7 159.3,192.3 160.7,192.0 162.0,191.6 163.4,191.3 164.7,190.9 166.0,190.5 167.4,190.1 168.7,189.7 170.0,189.3 171.4,188.6 172.7,187.5 174.1,186.8 175.4,186.4 176.7,185.9 178.1,185.5 179.4,185.0 180.7,184.5 182.1,184.0 183.4,183.5 184.8,182.9 186.1,182.4 187.4,181.8 188.8,181.2 190.1,180.6 191.4,180.0 192.8,179.4 194.1,178.8 195.5,178.2 196.8,177.6 198.1,177.0 199.5,176.4 200.8,175.8 202.1,175.2 203.5,174.6 204.8,174.0 206.2,173.4 207.5,172.9 208.8,172.4 210.2,171.9 211.5,171.4 212.9,170.9 214.2,170.5 215.5,170.1 216.9,169.6 218.2,169.2 219.5,169.0 220.9,169.1 222.2,169.3 223.6,169.7 224.9,170.5 226.2,172.7 227.6,175.2 228.9,176.7 230.2,175.9 231.6,174.5 232.9,173.1 234.3,171.8 235.6,171.1 236.9,170.7 238.3,170.2 239.6,169.7 240.9,169.3 242.3,168.9 243.6,168.4 245.0,168.0 246.3,167.6 247.6,167.2 249.0,166.7 250.3,166.4 251.6,166.1 253.0,165.9 254.3,165.7 255.7,165.5 257.0,165.3 258.3,165.1 259.7,165.0 261.0,164.8 262.3,164.6 263.7,164.4 265.0,164.2 266.4,164.1 267.7,163.9 269.0,163.7 270.4,163.5 271.7,163.4 273.0,163.4 274.4,163.3 275.7,163.3 277.1,163.2 278.4,163.1 279.7,162.9 281.1,162.7 282.4,162.5 283.7,162.3 285.1,162.2 286.4,162.1 287.8,162.4 289.1,164.2 290.4,167.5 291.8,172.6 293.1,181.5 294.4,190.3 295.8,194.1 297.1,195.1 298.5,194.7 299.8,193.2 301.1,190.9 302.5,188.6 303.8,187.1 305.1,185.6 306.5,184.0 307.8,182.2 309.2,180.2 310.5,178.0 311.8,175.9 313.2,173.6 314.5,171.6 315.8,170.2 317.2,169.0 318.5,167.8 319.9,166.6 321.2,165.4 322.5,164.2 323.9,163.1 325.2,162.1 326.5,161.5 327.9,161.7 329.2,162.4 330.6,163.3 331.9,164.2 333.2,165.1 334.6,165.7 335.9,165.9 337.2,166.0 338.6,166.0 339.9,166.1 341.3,166.3 342.6,166.7 343.9,167.2 345.3,167.9 346.6,168.6 347.9,169.3 349.3,170.3 350.6,171.2 352.0,171.5 353.3,172.0 354.6,172.8 356.0,173.3 357.3,174.2 358.6,174.7 360.0,174.8 361.3,175.2 362.7,175.6 364.0,176.4 365.3,177.0 366.7,177.9 368.0,179.1 369.3,181.5 370.7,183.3 372.0,185.4 373.4,187.4 374.7,188.8" stroke="#a0a0a0"/>
<polyline points="87.1,243.8 88.5,243.4 89.8,242.9 91.1,242.4 92.5,241.8 93.8,241.3 95.1,240.7 96.5,240.1 97.8,239.5 99.2,238.8 100.5,238.2 101.8,237.6 103.2,237.0 104.5,236.1 105.8,234.9 107.2,233.5 108.5,232.0 109.9,230.5 111.2,228.8 112.5,227.0 113.9,225.0 115.2,222.4 116.5,219.5 117.9,216.6 119.2,213.6 120.6,210.6 121.9,208.0 123.2,206.3 124.6,205.0 125.9,203.8 127.2,202.7 128.6,201.9 129.9,201.2 131.3,200.6 132.6,200.1 133.9,199.7 135.3,199.4 136.6,199.2 137.9,199.1 139.3,198.9 140.6,198.7 142.0,198.3 143.3,198.0 144.6,197.6 146.0,197.3 147.3,197.0 148.6,196.6 150.0,196.3 151.3,196.0 152.7,195.7 154.0,195.3 155.3,195.0 156.7,194.7 158.0,194.3 159.3,194.0 160.7,193.7 162.0,193.3 163.4,193.0 164.7,192.6 166.0,192.2 167.4,191.8 168.7,191.5 170.0,191.1 171.4,190.7 172.7,190.4 174.1,190.1 175.4,189.7 176.7,189.2 178.1,188.8 179.4,188.3 180.7,187.8 182.1,187.3 183.4,186.7 184.8,186.2 186.1,185.6 187.4,185.0 188.8,184.3 190.1,183.7 191.4,183.1 192.8,182.4 194.1,181.8 195.5,181.1 196.8,180.5 198.1,179.8 199.5,179.2 200.8,178.5 202.1,177.9 203.5,177.3 204.8,176.7 206.2,176.1 207.5,175.5 208.8,174.9 210.2,174.4 211.5,173.9 212.9,173.5 214.2,173.0 215.5,172.6 216.9,172.2 218.2,171.8 219.5,171.6 220.9,171.7 222.2,172.0 223.6,172.3 224.9,173.1 226.2,175.3 227.6,177.8 228.9,179.2 230.2,178.5 231.6,177.1 232.9,175.7 234.3,174.5 235.6,173.9 236.9,173.5 238.3,173.0 239.6,172.6 240.9,172.2 242.3,171.8 243.6,171.4 245.0,171.1 246.3,170.7 247.6,170.3 249.0,169.9 250.3,169.6 251.6,169.4 253.0,169.2 254.3,169.1 255.7,168.9 257.0,168.8 258.3,168.6 259.7,168.5 261.0,168.4 262.3,168.2 263.7,168.1 265.0,167.9 266.4,167.8 267.7,167.7 269.0,167.5 270.4,167.4 271.7,167.3 273.0,167.2 274.4,167.2 275.7,167.2 277.1,167.2 278.4,167.0 279.7,166.9 281.1,166.7 282.4,166.6 283.7,166.4 285.1,166.3 286.4,166.3 287.8,166.6 289.1,168.4 290.4,171.6 291.8,176.5 293.1,185.2 294.4,193.7 295.8,197.4 297.1,198.4 298.5,198.0 299.8,196.5 301.1,194.2 302.5,192.0 303.8,190.5 305.1,189.1 306.5,187.5 307.8,185.7 309.2,183.7 310.5,181.7 311.8,179.6 313.2,177.4 314.5,175.5 315.8,174.1 317.2,173.0 318.5,171.8 319.9,170.6 321.2,169.5 322.5,168.4 323.9,167.3 325.2,166.3 326.5,165.7 327.9,165.9 329.2,166.5 330.6,167.3 331.9,168.1 333.2,169.0 334.6,169.6 335.9,169.8 337.2,169.8 338.6,169.9 339.9,170.0 341.3,170.2 342.6,170.6 343.9,171.2 345.3,171.8 346.6,172.4 347.9,173.4 349.3,173.9 350.6,175.2 352.0,175.9 353.3,176.0 354.6,176.0 356.0,176.1 357.3,176.5 358.6,178.2 360.0,179.2 361.3,180.4 362.7,180.2 364.0,179.0 365.3,180.0 366.7,179.7 368.0,182.0 369.3,183.7 370.7,185.5 372.0,187.1 373.4,190.7 374.7,194.5" stroke="#f28d8d"/>
<polyline points="87.1,244.2 88.5,243.8 89.8,243.4 91.1,242.9 92.5,242.4 93.8,241.8 95.1,241.3 96.5,240.7 97.8,240.1 99.2,239.6 100.5,239.0 101.8,238.4 103.2,237.8 104.5,237.1 105.8,235.9 107.2,234.6 108.5,233.2 109.9,231.7 111.2,230.2 112.5,228.5 113.9,226.6 115.2,224.2 116.5,221.4 117.9,218.6 119.2,215.8 120.6,213.0 121.9,210.5 123.2,208.9 124.6,207.6 125.9,206.5 127.2,205.5 128.6,204.7 129.9,204.0 131.3,203.5 132.6,203.0 133.9,202.6 135.3,202.4 136.6,202.2 137.9,202.1 139.3,201.9 140.6,201.6 142.0,201.3 143.3,200.9 144.6,200.6 146.0,200.3 147.3,199.9 148.6,199.6 150.0,199.2 151.3,198.9 152.7,198.6 154.0,198.2 155.3,197.9 156.7,197.5 158.0,197.2 159.3,196.8 160.7,196.5 162.0,196.1 163.4,195.7 164.7,195.4 166.0,195.0 167.4,194.6 168.7,194.2 170.0,193.8 171.4,193.4 172.7,193.0 174.1,192.6 175.4,192.2 176.7,191.8 178.1,191.4 179.4,190.9 180.7,190.4 182.1,189.9 183.4,189.4 184.8,188.8 186.1,188.3 187.4,187.7 188.8,187.1 190.1,186.5 191.4,185.9 192.8,185.3 194.1,184.7 195.5,184.1 196.8,183.5 198.1,182.8 199.5,182.2 200.8,181.6 202.1,181.0 203.5,180.4 204.8,179.8 206.2,179.2 207.5,178.7 208.8,178.2 210.2,177.7 211.5,177.2 212.9,176.8 214.2,176.3 215.5,176.0 216.9,175.6 218.2,175.2 219.5,174.9 220.9,175.1 222.2,175.3 223.6,175.7 224.9,176.5 226.2,178.6 227.6,181.0 228.9,182.4 230.2,181.7 231.6,180.3 232.9,179.0 234.3,177.8 235.6,177.3 236.9,176.9 238.3,176.5 239.6,176.1 240.9,175.7 242.3,175.4 243.6,175.0 245.0,174.7 246.3,174.3 247.6,174.0 249.0,173.7 250.3,173.4 251.6,173.2 253.0,173.1 254.3,173.0 255.7,172.8 257.0,172.7 258.3,172.6 259.7,172.6 261.0,172.5 262.3,172.4 263.7,172.3 265.0,172.2 266.4,172.1 267.7,172.0 269.0,171.9 270.4,171.8 271.7,171.8 273.0,171.8 274.4,171.8 275.7,171.8 277.1,171.8 278.4,171.7 279.7,171.6 281.1,171.6 282.4,171.5 283.7,171.4 285.1,171.3 286.4,171.3 287.8,171.7 289.1,173.5 290.4,176.6 291.8,181.3 293.1,189.6 294.4,197.7 295.8,201.3 297.1,202.3 298.5,201.9 299.8,200.5 301.1,198.3 302.5,196.1 303.8,194.5 305.1,193.1 306.5,191.6 307.8,189.9 309.2,188.0 310.5,186.1 311.8,184.1 313.2,182.0 314.5,180.1 315.8,178.8 317.2,177.6 318.5,176.5 319.9,175.4 321.2,174.3 322.5,173.2 323.9,172.3 325.2,171.4 326.5,170.8 327.9,171.1 329.2,171.8 330.6,172.6 331.9,173.4 333.2,174.3 334.6,174.9 335.9,175.2 337.2,175.3 338.6,175.5 339.9,175.7 341.3,176.0 342.6,176.4 343.9,177.3 345.3,178.1 346.6,178.5 347.9,179.2 349.3,179.9 350.6,181.2 352.0,182.7 353.3,182.8 354.6,183.0 356.0,184.5 357.3,185.2 358.6,185.4 360.0,184.7 361.3,184.3 362.7,184.8 364.0,186.6 365.3,186.9 366.7,187.2 368.0,188.1 369.3,189.6 370.7,192.7 372.0,194.3 373.4,195.4 374.7,197.7" stroke="#f2aa7e"/>
<polyline points="87.1,244.5 88.5,244.1 89.8,243.7 91.1,243.2 92.5,242.7 93.8,242.2 95.1,241.7 96.5,241.1 97.8,240.6 99.2,240.1 100.5,239.6 101.8,239.0 103.2,238.5 104.5,237.7 105.8,236.6 107.2,235.3 108.5,234.0 109.9,232.6 111.2,231.2 112.5,229.6 113.9,227.8 115.2,225.5 116.5,222.8 117.9,220.2 119.2,217.5 120.6,214.8 121.9,212.4 123.2,210.8 124.6,209.7 125.9,208.6 127.2,207.7 128.6,206.9 129.9,206.2 131.3,205.7 132.6,205.2 133.9,204.8 135.3,204.5 136.6,204.3 137.9,204.2 139.3,204.1 140.6,203.8 142.0,203.6 143.3,203.3 144.6,203.0 146.0,202.8 147.3,202.5 148.6,202.2 150.0,202.0 151.3,201.7 152.7,201.4 154.0,201.2 155.3,200.9 156.7,200.7 158.0,200.4 159.3,200.1 160.7,199.8 162.0,199.5 163.4,199.2 164.7,198.9 166.0,198.6 167.4,198.3 168.7,197.9 170.0,197.6 171.4,197.4 172.7,197.5 174.1,197.3 175.4,196.9 176.7,196.5 178.1,196.1 179.4,195.7 180.7,195.2 182.1,194.7 183.4,194.1 184.8,193.6 186.1,193.0 187.4,192.4 188.8,191.8 190.1,191.1 191.4,190.5 192.8,189.8 194.1,189.2 195.5,188.5 196.8,187.8 198.1,187.2 199.5,186.5 200.8,185.8 202.1,185.2 203.5,184.6 204.8,183.9 206.2,183.3 207.5,182.8 208.8,182.2 210.2,181.7 211.5,181.2 212.9,180.8 214.2,180.4 215.5,180.0 216.9,179.6 218.2,179.3 219.5,179.1 220.9,179.2 222.2,179.5 223.6,179.8 224.9,180.6 226.2,182.7 227.6,185.0 228.9,186.4 230.2,185.7 231.6,184.4 232.9,183.1 234.3,182.1 235.6,181.5 236.9,181.2 238.3,180.9 239.6,180.6 240.9,180.3 242.3,180.0 243.6,179.7 245.0,179.4 246.3,179.1 247.6,178.8 249.0,178.6 250.3,178.4 251.6,178.3 253.0,178.2 254.3,178.1 255.7,178.1 257.0,178.0 258.3,178.0 259.7,178.0 261.0,177.9 262.3,177.9 263.7,177.9 265.0,177.8 266.4,177.8 267.7,177.8 269.0,177.8 270.4,177.7 271.7,177.7 273.0,177.8 274.4,177.8 275.7,177.9 277.1,177.9 278.4,177.9 279.7,177.9 281.1,177.9 282.4,177.8 283.7,177.8 285.1,177.8 286.4,177.9 287.8,178.3 289.1,179.9 290.4,183.0 291.8,187.4 293.1,195.2 294.4,202.9 295.8,206.2 297.1,207.2 298.5,206.8 299.8,205.5 301.1,203.3 302.5,201.2 303.8,199.7 305.1,198.4 306.5,196.9 307.8,195.3 309.2,193.6 310.5,191.8 311.8,189.9 313.2,188.0 314.5,186.2 315.8,185.0 317.2,183.9 318.5,182.9 319.9,181.8 321.2,180.7 322.5,179.7 323.9,178.8 325.2,177.9 326.5,177.3 327.9,177.4 329.2,178.0 330.6,178.7 331.9,179.4 333.2,180.1 334.6,180.7 335.9,180.9 337.2,181.0 338.6,181.2 339.9,181.4 341.3,181.6 342.6,181.8 343.9,182.3 345.3,182.8 346.6,183.6 347.9,184.2 349.3,185.0 350.6,185.6 352.0,186.2 353.3,185.8 354.6,186.8 356.0,188.5 357.3,188.5 358.6,188.9 360.0,189.7 361.3,189.4 362.7,188.7 364.0,188.6 365.3,191.2 366.7,193.8 368.0,192.6 369.3,193.5 370.7,197.0 372.0,199.5 373.4,200.5 374.7,201.5" stroke="#aaaaaa"/>
<polyline points="87.1,244.9 88.5,244.6 89.8,244.2 91.1,243.7 92.5,243.3 93.8,242.8 95.1,242.4 96.5,241.9 97.8,241.4 99.2,240.9 100.5,240.5 101.8,240.0 103.2,239.5 104.5,238.8 105.8,237.7 107.2,236.6 108.5,235.4 109.9,234.1 111.2,232.7 112.5,231.3 113.9,229.7 115.2,227.5 116.5,225.1 117.9,222.7 119.2,220.2 120.6,217.7 121.9,215.5 123.2,214.2 124.6,213.1 125.9,212.1 127.2,211.3 128.6,210.6 129.9,210.0 131.3,209.5 132.6,209.0 133.9,208.7 135.3,208.4 136.6,208.4 137.9,208.3 139.3,208.2 140.6,208.1 142.0,207.9 143.3,207.7 144.6,207.5 146.0,207.3 147.3,207.2 148.6,207.0 150.0,206.8 151.3,206.7 152.7,206.5 154.0,206.3 155.3,206.2 156.7,206.0 158.0,205.8 159.3,205.6 160.7,205.4 162.0,205.2 163.4,205.0 164.7,204.8 166.0,204.5 167.4,204.3 168.7,204.0 170.0,203.7 171.4,203.4 172.7,203.1 174.1,202.8 175.4,202.4 176.7,202.1 178.1,201.7 179.4,201.3 180.7,200.8 182.1,200.4 183.4,199.9 184.8,199.4 186.1,198.9 187.4,198.3 188.8,197.8 190.1,197.2 191.4,196.6 192.8,196.1 194.1,195.5 195.5,194.9 196.8,194.3 198.1,193.7 199.5,193.1 200.8,192.5 202.1,191.9 203.5,191.4 204.8,190.8 206.2,190.3 207.5,189.8 208.8,189.3 210.2,188.8 211.5,188.4 212.9,188.0 214.2,187.6 215.5,187.3 216.9,186.9 218.2,186.6 219.5,186.4 220.9,186.5 222.2,186.7 223.6,187.0 224.9,187.7 226.2,189.6 227.6,191.7 228.9,192.9 230.2,192.3 231.6,191.1 232.9,189.8 234.3,188.8 235.6,188.3 236.9,187.9 238.3,187.6 239.6,187.3 240.9,186.9 242.3,186.6 243.6,186.3 245.0,186.0 246.3,185.7 247.6,185.4 249.0,185.1 250.3,184.9 251.6,184.7 253.0,184.6 254.3,184.5 255.7,184.4 257.0,184.3 258.3,184.2 259.7,184.1 261.0,184.0 262.3,183.9 263.7,183.8 265.0,183.7 266.4,183.6 267.7,183.6 269.0,183.5 270.4,183.4 271.7,183.3 273.0,183.3 274.4,183.3 275.7,183.3 277.1,183.0 278.4,182.1 279.7,181.8 281.1,181.8 282.4,181.7 283.7,181.7 285.1,181.6 286.4,181.7 287.8,182.1 289.1,183.7 290.4,186.6 291.8,191.0 293.1,198.6 294.4,206.0 295.8,209.3 297.1,210.2 298.5,209.8 299.8,208.5 301.1,206.5 302.5,204.5 303.8,203.0 305.1,201.7 306.5,200.3 307.8,198.8 309.2,197.1 310.5,195.4 311.8,193.5 313.2,191.6 314.5,189.8 315.8,188.6 317.2,187.5 318.5,186.4 319.9,185.4 321.2,184.4 322.5,183.4 323.9,182.6 325.2,181.8 326.5,181.3 327.9,181.6 329.2,182.2 330.6,183.0 331.9,183.8 333.2,184.6 334.6,185.2 335.9,185.6 337.2,185.8 338.6,186.1 339.9,186.3 341.3,186.7 342.6,187.2 343.9,187.7 345.3,188.2 346.6,189.5 347.9,190.2 349.3,190.8 350.6,191.2 352.0,192.7 353.3,194.1 354.6,192.9 356.0,193.0 357.3,193.8 358.6,194.3 360.0,194.4 361.3,195.1 362.7,195.0 364.0,196.0 365.3,198.6 366.7,198.1 368.0,196.1 369.3,199.1 370.7,201.7 372.0,204.2 373.4,205.3 374.7,205.8" stroke="#779be3"/>
<polyline points="87.1,245.3 88.5,245.0 89.8,244.6 91.1,244.2 92.5,243.8 93.8,243.3 95.1,242.9 96.5,242.5 97.8,242.0 99.2,241.6 100.5,241.2 101.8,240.7 103.2,240.2 104.5,239.6 105.8,238.6 107.2,237.6 108.5,236.4 109.9,235.3 111.2,234.1 112.5,232.8 113.9,231.2 115.2,229.2 116.5,227.0 117.9,224.8 119.2,222.5 120.6,220.2 121.9,218.2 123.2,216.9 124.6,215.9 125.9,215.0 127.2,214.2 128.6,213.6 129.9,213.0 131.3,212.5 132.6,212.2 133.9,211.8 135.3,211.6 136.6,211.5 137.9,211.4 139.3,211.3 140.6,211.1 142.0,210.9 143.3,210.6 144.6,210.4 146.0,210.1 147.3,209.9 148.6,209.7 150.0,209.5 151.3,209.2 152.7,209.0 154.0,208.7 155.3,208.5 156.7,208.3 158.0,208.0 159.3,207.8 160.7,207.5 162.0,207.2 163.4,207.0 164.7,206.7 166.0,206.4 167.4,206.1 168.7,205.8 170.0,205.5 171.4,205.2 172.7,204.9 174.1,204.5 175.4,204.2 176.7,203.9 178.1,203.6 179.4,203.2 180.7,202.9 182.1,202.5 183.4,202.2 184.8,201.8 186.1,201.4 187.4,201.0 188.8,200.6 190.1,200.2 191.4,199.8 192.8,199.4 194.1,199.0 195.5,198.6 196.8,198.2 198.1,197.8 199.5,197.4 200.8,197.0 202.1,196.6 203.5,196.2 204.8,195.8 206.2,195.4 207.5,195.0 208.8,194.7 210.2,194.3 211.5,194.0 212.9,193.6 214.2,193.3 215.5,193.0 216.9,192.7 218.2,192.4 219.5,192.2 220.9,192.3 222.2,192.5 223.6,192.7 224.9,193.4 226.2,195.1 227.6,197.0 228.9,198.1 230.2,197.5 231.6,196.3 232.9,195.2 234.3,194.2 235.6,193.7 236.9,193.4 238.3,193.1 239.6,192.8 240.9,192.4 242.3,192.1 243.6,191.8 245.0,191.5 246.3,191.2 247.6,190.9 249.0,190.6 250.3,190.3 251.6,190.2 253.0,190.0 254.3,189.9 255.7,189.8 257.0,189.6 258.3,189.5 259.7,189.4 261.0,189.3 262.3,189.1 263.7,189.0 265.0,188.9 266.4,188.8 267.7,188.7 269.0,188.5 270.4,188.4 271.7,188.3 273.0,188.2 274.4,188.2 275.7,188.1 277.1,188.0 278.4,188.0 279.7,187.9 281.1,187.8 282.4,187.7 283.7,187.6 285.1,187.7 286.4,187.7 287.8,188.2 289.1,189.7 290.4,192.5 291.8,196.5 293.1,203.6 294.4,210.4 295.8,213.4 297.1,214.2 298.5,213.9 299.8,212.7 301.1,210.8 302.5,209.0 303.8,207.6 305.1,206.4 306.5,205.1 307.8,203.7 309.2,202.2 310.5,200.6 311.8,198.9 313.2,197.2 314.5,195.5 315.8,194.4 317.2,193.4 318.5,192.4 319.9,191.4 321.2,190.4 322.5,189.5 323.9,188.6 325.2,187.8 326.5,187.2 327.9,187.3 329.2,187.8 330.6,188.4 331.9,189.0 333.2,189.6 334.6,190.1 335.9,190.3 337.2,190.4 338.6,190.6 339.9,190.7 341.3,191.0 342.6,191.4 343.9,191.8 345.3,192.3 346.6,193.0 347.9,193.7 349.3,194.3 350.6,195.0 352.0,195.6 353.3,196.2 354.6,196.4 356.0,196.5 357.3,196.9 358.6,197.2 360.0,197.9 361.3,198.4 362.7,199.0 364.0,199.9 365.3,200.9 366.7,201.2 368.0,201.5 369.3,202.2 370.7,204.5 372.0,207.6 373.4,209.3 374.7,209.5" stroke="#6cc39f"/>
<polyline points="87.1,245.7 88.5,245.4 89.8,245.0 91.1,244.7 92.5,244.3 93.8,243.9 95.1,243.5 96.5,243.1 97.8,242.7 99.2,242.3 100.5,241.9 101.8,241.5 103.2,241.1 104.5,240.5 105.8,239.7 107.2,238.7 108.5,237.7 109.9,236.6 111.2,235.5 112.5,234.3 113.9,232.9 115.2,231.1 116.5,229.0 117.9,226.9 119.2,224.8 120.6,222.6 121.9,220.7 123.2,219.5 124.6,218.6 125.9,217.8 127.2,217.1 128.6,216.4 129.9,215.9 131.3,215.4 132.6,214.9 133.9,214.5 135.3,214.2 136.6,214.0 137.9,213.8 139.3,213.6 140.6,213.4 142.0,213.2 143.3,212.9 144.6,212.7 146.0,212.4 147.3,212.2 148.6,212.0 150.0,211.7 151.3,211.5 152.7,211.3 154.0,211.1 155.3,210.8 156.7,210.6 158.0,210.3 159.3,210.1 160.7,209.9 162.0,209.6 163.4,209.3 164.7,209.1 166.0,208.8 167.4,208.5 168.7,208.2 170.0,207.9 171.4,207.6 172.7,207.3 174.1,207.0 175.4,206.7 176.7,206.4 178.1,206.1 179.4,205.8 180.7,205.5 182.1,205.2 183.4,204.8 184.8,204.5 186.1,204.2 187.4,203.8 188.8,203.5 190.1,203.1 191.4,202.8 192.8,202.4 194.1,202.1 195.5,201.7 196.8,201.4 198.1,201.0 199.5,200.7 200.8,200.3 202.1,200.0 203.5,199.6 204.8,199.3 206.2,198.9 207.5,198.6 208.8,198.3 210.2,197.9 211.5,197.6 212.9,197.3 214.2,197.0 215.5,196.7 216.9,196.5 218.2,196.2 219.5,196.0 220.9,196.1 222.2,196.4 223.6,196.7 224.9,197.3 226.2,199.0 227.6,200.9 228.9,202.0 230.2,201.4 231.6,200.5 232.9,199.5 234.3,198.7 235.6,198.3 236.9,198.1 238.3,197.9 239.6,197.7 240.9,197.6 242.3,197.4 243.6,197.3 245.0,197.1 246.3,197.0 247.6,196.8 249.0,196.7 250.3,196.6 251.6,196.7 253.0,196.7 254.3,196.7 255.7,196.8 257.0,196.8 258.3,196.9 259.7,197.0 261.0,197.0 262.3,197.1 263.7,197.2 265.0,197.3 266.4,197.3 267.7,197.4 269.0,197.5 270.4,197.6 271.7,197.7 273.0,197.8 274.4,197.9 275.7,198.0 277.1,198.2 278.4,198.2 279.7,198.3 281.1,198.4 282.4,198.6 283.7,198.7 285.1,198.9 286.4,199.1 287.8,199.6 289.1,201.0 290.4,203.4 291.8,206.8 293.1,212.6 294.4,218.2 295.8,220.7 297.1,221.4 298.5,221.2 299.8,220.2 301.1,218.6 302.5,217.0 303.8,215.8 305.1,214.8 306.5,213.7 307.8,212.5 309.2,211.3 310.5,209.9 311.8,208.5 313.2,207.0 314.5,205.6 315.8,204.6 317.2,203.8 318.5,202.8 319.9,201.9 321.2,201.0 322.5,200.1 323.9,199.3 325.2,198.5 326.5,197.9 327.9,197.8 329.2,198.1 330.6,198.4 331.9,198.8 333.2,199.2 334.6,199.5 335.9,199.6 337.2,199.6 338.6,199.6 339.9,199.6 341.3,199.6 342.6,199.9 343.9,200.4 345.3,200.7 346.6,201.0 347.9,201.4 349.3,201.5 350.6,201.8 352.0,202.7 353.3,203.2 354.6,203.2 356.0,203.5 357.3,204.2 358.6,204.6 360.0,204.6 361.3,204.3 362.7,204.1 364.0,205.3 365.3,206.8 366.7,207.5 368.0,207.2 369.3,207.5 370.7,209.3 372.0,210.5 373.4,212.0 374.7,212.2" stroke="#86b1e3"/>
<polyline points="87.1,246.5 88.5,246.3 89.8,246.0 91.1,245.7 92.5,245.4 93.8,245.1 95.1,244.8 96.5,244.5 97.8,244.2 99.2,243.9 100.5,243.5 101.8,243.2 103.2,242.9 104.5,242.4 105.8,241.7 107.2,240.9 108.5,240.1 109.9,239.2 111.2,238.2 112.5,237.1 113.9,235.8 115.2,234.1 116.5,232.1 117.9,230.0 119.2,227.9 120.6,225.7 121.9,223.7 123.2,222.3 124.6,221.3 125.9,220.4 127.2,219.7 128.6,219.1 129.9,218.5 131.3,218.0 132.6,217.5 133.9,217.1 135.3,216.7 136.6,216.5 137.9,216.3 139.3,216.1 140.6,215.9 142.0,215.7 143.3,215.6 144.6,215.4 146.0,215.2 147.3,215.1 148.6,215.0 150.0,214.8 151.3,214.7 152.7,214.6 154.0,214.5 155.3,214.4 156.7,214.3 158.0,214.2 159.3,214.0 160.7,213.9 162.0,213.8 163.4,213.6 164.7,213.5 166.0,213.3 167.4,213.2 168.7,213.0 170.0,212.7 171.4,212.6 172.7,212.4 174.1,212.2 175.4,212.0 176.7,211.7 178.1,211.5 179.4,211.2 180.7,210.9 182.1,210.7 183.4,210.4 184.8,210.2 186.1,209.9 187.4,209.7 188.8,209.4 190.1,209.1 191.4,208.9 192.8,208.6 194.1,208.4 195.5,208.1 196.8,207.9 198.1,207.6 199.5,207.3 200.8,207.1 202.1,206.8 203.5,206.6 204.8,206.3 206.2,206.1 207.5,205.8 208.8,205.5 210.2,205.3 211.5,205.0 212.9,204.8 214.2,204.5 215.5,204.3 216.9,204.0 218.2,203.8 219.5,203.6 220.9,203.7 222.2,203.9 223.6,204.2 224.9,204.7 226.2,206.1 227.6,207.8 228.9,208.7 230.2,208.2 231.6,207.3 232.9,206.4 234.3,205.6 235.6,205.3 236.9,205.1 238.3,204.9 239.6,204.7 240.9,204.5 242.3,204.3 243.6,204.1 245.0,203.9 246.3,203.8 247.6,203.6 249.0,203.4 250.3,203.3 251.6,203.3 253.0,203.2 254.3,203.2 255.7,203.2 257.0,203.2 258.3,203.2 259.7,203.2 261.0,203.2 262.3,203.2 263.7,203.2 265.0,203.2 266.4,203.2 267.7,203.3 269.0,203.3 270.4,203.3 271.7,203.3 273.0,203.4 274.4,203.4 275.7,203.4 277.1,203.5 278.4,203.5 279.7,203.5 281.1,203.6 282.4,203.7 283.7,203.8 285.1,203.9 286.4,204.1 287.8,204.6 289.1,205.9 290.4,208.1 291.8,211.3 293.1,216.6 294.4,221.8 295.8,224.1 297.1,224.7 298.5,224.5 299.8,223.6 301.1,222.1 302.5,220.7 303.8,219.6 305.1,218.7 306.5,217.7 307.8,216.6 309.2,215.5 310.5,214.2 311.8,212.9 313.2,211.6 314.5,210.2 315.8,209.3 317.2,208.5 318.5,207.6 319.9,206.7 321.2,205.9 322.5,205.1 323.9,204.3 325.2,203.6 326.5,203.1 327.9,203.0 329.2,203.3 330.6,203.7 331.9,204.1 333.2,204.5 334.6,204.8 335.9,204.9 337.2,204.9 338.6,205.0 339.9,205.0 341.3,205.0 342.6,205.4 343.9,206.0 345.3,206.3 346.6,206.7 347.9,206.6 349.3,207.1 350.6,208.1 352.0,208.3 353.3,208.0 354.6,208.3 356.0,209.2 357.3,210.1 358.6,210.9 360.0,211.1 361.3,211.6 362.7,211.1 364.0,210.6 365.3,212.0 366.7,212.5 368.0,213.2 369.3,215.1 370.7,215.6 372.0,217.0 373.4,218.0 374.7,218.3" stroke="#e5c67e"/>
<polyline points="87.1,247.2 88.5,247.0 89.8,246.8 91.1,246.6 92.5,246.3 93.8,246.1 95.1,245.9 96.5,245.6 97.8,245.4 99.2,245.1 100.5,244.9 101.8,244.7 103.2,244.4 104.5,244.1 105.8,243.5 107.2,242.9 108.5,242.2 109.9,241.4 111.2,240.6 112.5,239.6 113.9,238.5 115.2,236.9 116.5,235.1 117.9,233.1 119.2,231.1 120.6,228.9 121.9,226.9 123.2,225.6 124.6,224.5 125.9,223.6 127.2,222.9 128.6,222.3 129.9,221.8 131.3,221.2 132.6,220.7 133.9,220.3 135.3,219.9 136.6,219.6 137.9,219.4 139.3,219.1 140.6,218.9 142.0,218.7 143.3,218.5 144.6,218.4 146.0,218.2 147.3,218.1 148.6,218.0 150.0,218.0 151.3,217.9 152.7,217.8 154.0,217.8 155.3,217.7 156.7,217.7 158.0,217.7 159.3,217.6 160.7,217.6 162.0,217.5 163.4,217.5 164.7,217.4 166.0,217.3 167.4,217.2 168.7,217.0 170.0,216.9 171.4,216.7 172.7,216.5 174.1,216.2 175.4,216.0 176.7,215.8 178.1,215.5 179.4,215.3 180.7,215.0 182.1,214.7 183.4,214.5 184.8,214.2 186.1,213.9 187.4,213.6 188.8,213.3 190.1,213.0 191.4,212.7 192.8,212.4 194.1,212.1 195.5,211.8 196.8,211.5 198.1,211.2 199.5,210.9 200.8,210.6 202.1,210.4 203.5,210.1 204.8,209.8 206.2,209.5 207.5,209.2 208.8,208.9 210.2,208.7 211.5,208.4 212.9,208.2 214.2,207.9 215.5,207.7 216.9,207.4 218.2,207.2 219.5,207.1 220.9,207.1 222.2,207.3 223.6,207.5 224.9,208.0 226.2,209.4 227.6,210.9 228.9,211.7 230.2,211.2 231.6,210.3 232.9,209.4 234.3,208.7 235.6,208.3 236.9,208.1 238.3,207.9 239.6,207.6 240.9,207.4 242.3,207.2 243.6,207.0 245.0,206.8 246.3,206.5 247.6,206.3 249.0,206.1 250.3,205.9 251.6,205.9 253.0,205.8 254.3,205.7 255.7,205.6 257.0,205.6 258.3,205.5 259.7,205.4 261.0,205.4 262.3,205.3 263.7,205.2 265.0,205.2 266.4,205.1 267.7,205.0 269.0,205.0 270.4,204.9 271.7,204.9 273.0,204.8 274.4,204.8 275.7,204.7 277.1,204.6 278.4,204.6 279.7,204.5 281.1,204.5 282.4,204.5 283.7,204.5 285.1,204.6 286.4,204.8 287.8,205.2 289.1,206.4 290.4,208.6 291.8,211.8 293.1,217.2 294.4,222.3 295.8,224.6 297.1,225.3 298.5,225.1 299.8,224.1 301.1,222.7 302.5,221.3 303.8,220.2 305.1,219.3 306.5,218.3 307.8,217.3 309.2,216.1 310.5,214.9 311.8,213.6 313.2,212.2 314.5,210.8 315.8,209.9 317.2,209.0 318.5,208.2 319.9,207.3 321.2,206.5 322.5,205.8 323.9,205.1 325.2,204.5 326.5,204.1 327.9,204.2 329.2,204.7 330.6,205.2 331.9,205.7 333.2,206.2 334.6,206.6 335.9,206.9 337.2,207.1 338.6,207.3 339.9,207.5 341.3,207.8 342.6,208.2 343.9,208.7 345.3,209.2 346.6,209.4 347.9,209.7 349.3,210.6 350.6,211.2 352.0,211.3 353.3,211.7 354.6,212.7 356.0,213.2 357.3,213.2 358.6,214.0 360.0,213.8 361.3,213.2 362.7,213.7 364.0,213.7 365.3,214.1 366.7,214.3 368.0,214.5 369.3,216.5 370.7,218.1 372.0,219.8 373.4,221.1 374.7,222.9" stroke="#98d562"/></g>
<g fill="none" stroke-width="0.85" stroke-linejoin="round"><polyline points="475.9,233.3 477.3,231.3 478.6,228.9 480.0,226.5 481.4,224.1 482.7,221.7 484.1,219.2 485.4,216.7 486.8,213.8 488.1,210.8 489.4,207.8 490.8,204.8 492.1,201.7 493.5,198.5 494.9,195.0 496.2,191.4 497.6,187.7 498.9,183.8 500.2,179.7 501.6,175.2 502.9,170.4 504.3,165.3 505.6,160.2 507.0,155.3 508.4,151.1 509.7,147.0 511.1,143.0 512.4,139.3 513.8,136.5 515.1,134.3 516.5,132.4 517.8,130.7 519.1,129.0 520.5,127.4 521.9,126.0 523.2,124.7 524.5,123.3 525.9,122.0 527.2,120.7 528.6,119.4 530.0,118.1 531.3,116.8 532.6,115.6 534.0,114.8 535.4,114.1 536.7,113.5 538.0,113.0 539.4,112.4 540.8,111.9 542.1,111.3 543.5,110.8 544.8,110.2 546.1,109.6 547.5,109.0 548.9,108.3 550.2,107.8 551.5,107.4 552.9,107.2 554.2,106.9 555.6,106.7 557.0,106.4 558.3,106.1 559.6,105.9 561.0,105.0 562.4,102.7 563.7,101.7 565.0,101.0 566.4,100.2 567.8,99.5 569.1,98.7 570.5,98.0 571.8,97.3 573.1,96.5 574.5,95.8 575.9,95.1 577.2,94.3 578.5,93.6 579.9,92.9 581.2,92.1 582.6,91.4 584.0,90.7 585.3,89.8 586.7,88.9 588.0,87.9 589.4,86.9 590.7,85.9 592.0,84.9 593.4,83.8 594.8,82.8 596.1,81.8 597.5,80.7 598.8,79.7 600.2,78.8 601.5,78.2 602.9,77.8 604.2,77.3 605.6,76.8 606.9,76.2 608.2,75.7 609.6,75.1 611.0,74.4 612.3,73.8 613.7,73.6 615.0,74.9 616.4,77.5 617.7,82.7 619.0,87.7 620.4,87.9 621.8,85.4 623.1,82.6 624.5,80.3 625.8,78.1 627.1,76.0 628.5,74.3 629.9,72.8 631.2,71.3 632.5,69.8 633.9,68.4 635.2,67.1 636.6,65.8 638.0,64.5 639.3,63.2 640.7,62.0 642.0,60.7 643.4,59.4 644.7,58.1 646.1,56.8 647.4,55.5 648.8,54.2 650.1,53.0 651.5,51.8 652.8,51.0 654.2,50.3 655.5,49.5 656.9,48.8 658.2,48.1 659.6,47.4 660.9,46.8 662.2,46.4 663.6,46.4 665.0,46.4 666.3,46.4 667.6,46.8 669.0,47.9 670.4,48.0 671.7,47.6 673.0,47.2 674.4,47.0 675.8,46.9 677.1,47.3 678.5,48.9 679.8,52.4 681.2,60.3 682.5,73.5 683.9,86.9 685.2,97.7 686.5,103.9 687.9,107.1 689.2,108.1 690.6,107.6 692.0,105.9 693.3,103.7 694.7,100.5 696.0,97.2 697.4,93.7 698.7,90.0 700.1,85.1 701.4,79.9 702.8,74.6 704.1,69.3 705.5,64.2 706.8,59.7 708.2,55.3 709.5,50.8 710.9,46.3 712.2,42.3 713.5,39.4 714.9,36.9 716.2,35.1 717.6,36.1 719.0,39.9 720.3,44.5 721.7,49.5 723.0,54.9 724.4,59.3 725.7,60.2 727.1,58.6 728.4,56.6 729.8,54.5 731.1,52.4 732.5,50.5 733.8,49.6 735.2,50.0 736.5,50.7 737.9,51.3 739.2,51.7 740.6,52.2 741.9,53.5 743.2,55.4 744.6,57.7 746.0,59.5 747.3,60.7 748.7,62.9 750.0,64.7 751.4,66.5 752.7,68.2 754.0,71.2 755.4,74.7 756.8,76.1 758.1,76.8 759.5,78.7 760.8,81.8 762.2,84.5 763.5,86.1 764.9,87.8 766.2,89.9" stroke="#e3bf70"/>
<polyline points="475.9,233.7 477.3,231.8 478.6,229.5 480.0,227.1 481.4,224.7 482.7,222.3 484.1,219.8 485.4,217.3 486.8,214.4 488.1,211.3 489.4,208.2 490.8,205.1 492.1,202.0 493.5,198.7 494.9,195.0 496.2,191.3 497.6,187.4 498.9,183.4 500.2,179.2 501.6,174.7 502.9,169.8 504.3,164.8 505.6,159.7 507.0,154.9 508.4,150.7 509.7,146.6 511.1,142.6 512.4,139.0 513.8,136.2 515.1,133.9 516.5,131.9 517.8,129.9 519.1,128.1 520.5,126.3 521.9,124.8 523.2,123.3 524.5,121.9 525.9,120.5 527.2,119.1 528.6,117.8 530.0,116.4 531.3,115.1 532.6,114.0 534.0,113.1 535.4,112.4 536.7,111.9 538.0,111.3 539.4,110.7 540.8,110.2 542.1,109.6 543.5,109.1 544.8,108.5 546.1,107.9 547.5,107.3 548.9,106.7 550.2,106.1 551.5,105.8 552.9,105.5 554.2,105.3 555.6,105.0 557.0,104.8 558.3,104.5 559.6,104.3 561.0,104.0 562.4,103.8 563.7,103.4 565.0,102.8 566.4,102.1 567.8,101.4 569.1,100.7 570.5,100.0 571.8,99.4 573.1,98.7 574.5,98.1 575.9,97.4 577.2,96.8 578.5,96.1 579.9,95.5 581.2,94.8 582.6,94.2 584.0,93.5 585.3,92.8 586.7,91.9 588.0,91.0 589.4,90.1 590.7,89.2 592.0,88.3 593.4,87.4 594.8,86.4 596.1,85.5 597.5,84.5 598.8,83.5 600.2,82.7 601.5,82.1 602.9,81.7 604.2,81.2 605.6,80.7 606.9,80.2 608.2,79.7 609.6,79.1 611.0,78.5 612.3,78.0 613.7,77.9 615.0,79.2 616.4,81.7 617.7,86.9 619.0,91.9 620.4,92.2 621.8,89.8 623.1,87.2 624.5,85.0 625.8,83.0 627.1,81.1 628.5,79.6 629.9,78.2 631.2,76.8 632.5,75.5 633.9,74.2 635.2,73.1 636.6,72.0 638.0,70.8 639.3,69.7 640.7,68.6 642.0,67.5 643.4,66.4 644.7,65.2 646.1,64.1 647.4,63.0 648.8,61.9 650.1,60.8 651.5,59.8 652.8,59.1 654.2,58.5 655.5,57.9 656.9,57.3 658.2,56.7 659.6,56.1 660.9,55.6 662.2,55.4 663.6,55.4 665.0,55.4 666.3,55.5 667.6,55.6 669.0,55.6 670.4,55.3 671.7,54.9 673.0,54.5 674.4,54.1 675.8,53.7 677.1,53.8 678.5,55.0 679.8,58.0 681.2,65.4 682.5,77.9 683.9,90.8 685.2,101.2 686.5,107.3 687.9,110.4 689.2,111.4 690.6,110.8 692.0,109.1 693.3,106.8 694.7,103.8 696.0,100.4 697.4,97.0 698.7,93.3 700.1,88.6 701.4,83.5 702.8,78.4 704.1,73.3 705.5,68.5 706.8,64.1 708.2,60.0 709.5,55.9 710.9,51.8 712.2,48.1 713.5,45.6 714.9,43.6 716.2,42.1 717.6,43.2 719.0,46.9 720.3,51.3 721.7,56.1 723.0,61.3 724.4,65.6 725.7,66.5 727.1,64.9 728.4,63.0 729.8,61.0 731.1,59.0 732.5,57.3 733.8,56.5 735.2,56.8 736.5,57.3 737.9,58.3 739.2,58.9 740.6,59.4 741.9,59.9 743.2,61.3 744.6,63.7 746.0,65.6 747.3,67.4 748.7,68.9 750.0,71.0 751.4,73.5 752.7,75.3 754.0,77.6 755.4,80.3 756.8,82.5 758.1,84.0 759.5,86.1 760.8,87.6 762.2,90.0 763.5,91.9 764.9,93.6 766.2,97.1" stroke="#79a2e3"/>
<polyline points="475.9,235.0 477.3,233.3 478.6,231.2 480.0,229.1 481.4,227.0 482.7,224.8 484.1,222.5 485.4,220.0 486.8,217.3 488.1,214.5 489.4,211.6 490.8,208.6 492.1,205.6 493.5,202.5 494.9,199.1 496.2,195.7 497.6,192.2 498.9,188.6 500.2,184.7 501.6,180.4 502.9,175.9 504.3,171.4 505.6,166.9 507.0,162.5 508.4,158.5 509.7,154.7 511.1,151.1 512.4,147.9 513.8,145.4 515.1,143.4 516.5,141.8 517.8,140.3 519.1,138.9 520.5,137.5 521.9,136.3 523.2,135.2 524.5,134.2 525.9,133.1 527.2,132.1 528.6,131.0 530.0,130.0 531.3,129.0 532.6,128.1 534.0,127.4 535.4,126.9 536.7,126.5 538.0,126.1 539.4,125.7 540.8,125.4 542.1,125.0 543.5,124.7 544.8,124.3 546.1,123.9 547.5,123.5 548.9,123.1 550.2,122.7 551.5,122.5 552.9,122.3 554.2,122.1 555.6,121.9 557.0,121.7 558.3,121.5 559.6,121.2 561.0,120.9 562.4,120.6 563.7,120.2 565.0,119.5 566.4,118.7 567.8,117.9 569.1,117.1 570.5,116.3 571.8,115.6 573.1,114.8 574.5,113.9 575.9,113.1 577.2,112.3 578.5,111.5 579.9,110.7 581.2,109.8 582.6,109.0 584.0,108.2 585.3,107.2 586.7,106.2 588.0,105.2 589.4,104.2 590.7,103.2 592.0,102.2 593.4,101.2 594.8,100.2 596.1,99.2 597.5,98.2 598.8,97.2 600.2,96.3 601.5,95.7 602.9,95.1 604.2,94.6 605.6,94.0 606.9,93.5 608.2,92.9 609.6,92.3 611.0,91.7 612.3,91.1 613.7,90.9 615.0,92.1 616.4,94.5 617.7,99.0 619.0,103.6 620.4,104.0 621.8,102.0 623.1,99.6 624.5,97.6 625.8,95.7 627.1,94.0 628.5,92.6 629.9,91.2 631.2,89.9 632.5,88.5 633.9,87.3 635.2,86.1 636.6,84.9 638.0,83.8 639.3,82.7 640.7,81.6 642.0,80.5 643.4,79.4 644.7,78.3 646.1,77.2 647.4,76.1 648.8,75.0 650.1,73.9 651.5,72.8 652.8,72.0 654.2,71.2 655.5,70.4 656.9,69.6 658.2,68.9 659.6,68.3 660.9,67.8 662.2,67.5 663.6,67.4 665.0,67.3 666.3,67.2 667.6,67.0 669.0,66.8 670.4,66.4 671.7,65.9 673.0,65.1 674.4,64.2 675.8,63.0 677.1,62.0 678.5,62.0 679.8,63.8 681.2,70.3 682.5,82.1 683.9,94.8 685.2,105.2 686.5,111.4 687.9,114.5 689.2,115.2 690.6,114.3 692.0,112.1 693.3,109.5 694.7,106.1 696.0,102.3 697.4,98.5 698.7,94.5 700.1,89.7 701.4,84.6 702.8,79.6 704.1,74.9 705.5,70.5 706.8,66.6 708.2,62.9 709.5,59.4 710.9,56.3 712.2,53.7 713.5,52.3 714.9,51.2 716.2,50.7 717.6,52.0 719.0,55.5 720.3,59.6 721.7,64.1 723.0,68.9 724.4,72.8 725.7,73.7 727.1,72.2 728.4,70.4 729.8,68.5 731.1,66.8 732.5,65.1 733.8,64.3 735.2,64.8 736.5,65.2 737.9,65.8 739.2,67.1 740.6,68.1 741.9,69.2 743.2,70.1 744.6,71.5 746.0,73.6 747.3,75.4 748.7,77.9 750.0,80.4 751.4,82.3 752.7,84.2 754.0,86.2 755.4,86.7 756.8,88.3 758.1,91.6 759.5,93.9 760.8,97.1 762.2,100.0 763.5,103.0 764.9,106.4 766.2,108.0" stroke="#f2945a"/>
<polyline points="475.9,235.6 477.3,234.0 478.6,232.0 480.0,230.0 481.4,228.0 482.7,226.0 484.1,223.7 485.4,221.3 486.8,218.7 488.1,215.9 489.4,213.2 490.8,210.3 492.1,207.3 493.5,204.2 494.9,200.9 496.2,197.6 497.6,194.3 498.9,190.9 500.2,187.3 501.6,183.6 502.9,179.7 504.3,175.9 505.6,172.1 507.0,168.5 508.4,165.3 509.7,162.2 511.1,159.3 512.4,156.6 513.8,154.4 515.1,152.5 516.5,150.8 517.8,149.0 519.1,147.3 520.5,145.6 521.9,144.0 523.2,142.5 524.5,141.1 525.9,139.8 527.2,138.6 528.6,137.5 530.0,136.5 531.3,135.6 532.6,134.8 534.0,134.2 535.4,133.8 536.7,133.5 538.0,133.2 539.4,132.9 540.8,132.6 542.1,132.4 543.5,132.2 544.8,131.9 546.1,131.6 547.5,131.3 548.9,131.1 550.2,130.8 551.5,130.7 552.9,130.6 554.2,130.5 555.6,130.4 557.0,130.2 558.3,130.1 559.6,129.9 561.0,129.3 562.4,128.1 563.7,127.4 565.0,126.7 566.4,126.0 567.8,125.2 569.1,124.5 570.5,123.7 571.8,122.9 573.1,122.2 574.5,121.4 575.9,120.6 577.2,119.8 578.5,119.0 579.9,118.1 581.2,117.3 582.6,116.5 584.0,115.6 585.3,114.7 586.7,113.7 588.0,112.7 589.4,111.7 590.7,110.7 592.0,109.8 593.4,108.8 594.8,107.8 596.1,106.8 597.5,105.9 598.8,104.9 600.2,104.0 601.5,103.4 602.9,102.8 604.2,102.2 605.6,101.7 606.9,101.1 608.2,100.5 609.6,99.9 611.0,99.3 612.3,98.7 613.7,98.5 615.0,99.7 616.4,101.9 617.7,106.1 619.0,110.5 620.4,110.9 621.8,109.0 623.1,106.8 624.5,104.9 625.8,103.1 627.1,101.4 628.5,100.1 629.9,98.7 631.2,97.4 632.5,96.1 633.9,94.9 635.2,93.7 636.6,92.6 638.0,91.4 639.3,90.4 640.7,89.3 642.0,88.3 643.4,87.3 644.7,86.2 646.1,85.1 647.4,84.1 648.8,83.0 650.1,81.9 651.5,80.9 652.8,80.0 654.2,79.3 655.5,78.5 656.9,77.6 658.2,76.9 659.6,76.3 660.9,75.9 662.2,75.6 663.6,75.5 665.0,75.4 666.3,75.2 667.6,75.1 669.0,74.9 670.4,74.5 671.7,73.9 673.0,73.1 674.4,71.9 675.8,70.4 677.1,69.1 678.5,68.6 679.8,69.8 681.2,75.8 682.5,87.0 683.9,99.4 685.2,109.5 686.5,115.7 687.9,118.7 689.2,119.2 690.6,118.2 692.0,115.9 693.3,113.2 694.7,109.7 696.0,105.9 697.4,101.9 698.7,97.8 700.1,93.0 701.4,88.1 702.8,83.3 704.1,78.8 705.5,74.6 706.8,70.9 708.2,67.5 709.5,64.3 710.9,61.7 712.2,59.7 713.5,58.6 714.9,58.0 716.2,57.8 717.6,59.2 719.0,62.6 720.3,66.5 721.7,70.8 723.0,75.3 724.4,79.1 725.7,79.9 727.1,78.5 728.4,76.7 729.8,74.9 731.1,73.3 732.5,71.9 733.8,71.1 735.2,71.4 736.5,72.1 737.9,72.7 739.2,73.2 740.6,73.9 741.9,74.8 743.2,76.4 744.6,78.3 746.0,80.6 747.3,83.1 748.7,84.7 750.0,86.2 751.4,88.4 752.7,90.6 754.0,93.5 755.4,96.1 756.8,97.3 758.1,98.0 759.5,101.1 760.8,104.2 762.2,107.3 763.5,109.2 764.9,111.9 766.2,114.4" stroke="#799ad5"/>
<polyline points="475.9,235.0 477.3,233.4 478.6,231.3 480.0,229.3 481.4,227.3 482.7,225.2 484.1,222.9 485.4,220.4 486.8,217.7 488.1,214.9 489.4,212.0 490.8,209.0 492.1,205.9 493.5,202.7 494.9,199.4 496.2,195.9 497.6,192.5 498.9,189.0 500.2,185.3 501.6,181.4 502.9,177.4 504.3,173.5 505.6,169.6 507.0,165.9 508.4,162.5 509.7,159.3 511.1,156.3 512.4,153.5 513.8,151.2 515.1,149.2 516.5,147.3 517.8,145.5 519.1,143.6 520.5,141.8 521.9,140.2 523.2,138.6 524.5,137.1 525.9,135.7 527.2,134.5 528.6,133.3 530.0,132.3 531.3,131.3 532.6,130.5 534.0,130.0 535.4,129.6 536.7,129.2 538.0,128.9 539.4,128.6 540.8,128.4 542.1,128.1 543.5,127.9 544.8,127.6 546.1,127.4 547.5,127.1 548.9,126.8 550.2,126.6 551.5,126.4 552.9,126.4 554.2,126.3 555.6,126.1 557.0,126.0 558.3,125.8 559.6,125.6 561.0,126.3 562.4,128.9 563.7,129.5 565.0,128.8 566.4,128.1 567.8,127.4 569.1,126.6 570.5,125.9 571.8,125.1 573.1,124.3 574.5,123.5 575.9,122.7 577.2,121.9 578.5,121.0 579.9,120.2 581.2,119.3 582.6,118.5 584.0,117.6 585.3,116.7 586.7,115.7 588.0,114.7 589.4,113.7 590.7,112.7 592.0,111.7 593.4,110.7 594.8,109.7 596.1,108.8 597.5,107.8 598.8,106.9 600.2,106.0 601.5,105.4 602.9,104.8 604.2,104.2 605.6,103.7 606.9,103.1 608.2,102.5 609.6,102.0 611.0,101.4 612.3,100.8 613.7,100.7 615.0,101.8 616.4,104.0 617.7,108.2 619.0,112.5 620.4,113.0 621.8,111.2 623.1,109.0 624.5,107.2 625.8,105.5 627.1,103.9 628.5,102.5 629.9,101.3 631.2,100.0 632.5,98.8 633.9,97.6 635.2,96.5 636.6,95.4 638.0,94.3 639.3,93.3 640.7,92.4 642.0,91.4 643.4,90.5 644.7,89.5 646.1,88.5 647.4,87.5 648.8,86.5 650.1,85.6 651.5,84.6 652.8,83.9 654.2,83.2 655.5,82.5 656.9,81.7 658.2,81.1 659.6,80.6 660.9,80.3 662.2,80.2 663.6,80.1 665.0,80.1 666.3,80.1 667.6,80.1 669.0,80.0 670.4,79.7 671.7,79.3 673.0,78.6 674.4,77.6 675.8,76.1 677.1,74.9 678.5,74.4 679.8,75.6 681.2,81.3 682.5,92.2 683.9,104.4 685.2,114.2 686.5,120.2 687.9,123.2 689.2,123.7 690.6,122.7 692.0,120.4 693.3,117.7 694.7,114.3 696.0,110.5 697.4,106.6 698.7,102.6 700.1,97.9 701.4,93.1 702.8,88.5 704.1,84.2 705.5,80.2 706.8,76.6 708.2,73.4 709.5,70.4 710.9,67.9 712.2,66.1 713.5,65.2 714.9,64.7 716.2,64.7 717.6,66.0 719.0,69.2 720.3,73.1 721.7,77.1 723.0,81.5 724.4,85.1 725.7,85.9 727.1,84.6 728.4,82.8 729.8,81.1 731.1,79.6 732.5,78.0 733.8,77.2 735.2,77.6 736.5,78.3 737.9,79.4 739.2,80.6 740.6,81.2 741.9,81.5 743.2,82.9 744.6,85.4 746.0,87.5 747.3,89.1 748.7,91.2 750.0,91.3 751.4,93.6 752.7,96.6 754.0,97.8 755.4,99.2 756.8,101.1 758.1,103.4 759.5,107.8 760.8,108.7 762.2,111.7 763.5,114.0 764.9,117.0 766.2,122.3" stroke="#9bc662"/>
<polyline points="475.9,236.2 477.3,234.6 478.6,232.7 480.0,230.9 481.4,229.0 482.7,227.1 484.1,224.9 485.4,222.5 486.8,220.0 488.1,217.4 489.4,214.7 490.8,211.9 492.1,209.0 493.5,206.0 494.9,202.9 496.2,199.7 497.6,196.5 498.9,193.2 500.2,189.8 501.6,186.2 502.9,182.6 504.3,179.0 505.6,175.5 507.0,172.2 508.4,169.2 509.7,166.3 511.1,163.5 512.4,161.0 513.8,158.9 515.1,157.0 516.5,155.2 517.8,153.3 519.1,151.4 520.5,149.5 521.9,147.6 523.2,145.9 524.5,144.2 525.9,142.7 527.2,141.3 528.6,140.1 530.0,139.0 531.3,138.2 532.6,137.4 534.0,136.9 535.4,136.5 536.7,136.1 538.0,135.8 539.4,135.6 540.8,135.3 542.1,135.1 543.5,134.9 544.8,134.6 546.1,134.3 547.5,134.1 548.9,133.8 550.2,133.6 551.5,133.4 552.9,133.3 554.2,133.2 555.6,133.1 557.0,133.0 558.3,132.8 559.6,132.6 561.0,132.1 562.4,131.3 563.7,130.7 565.0,130.1 566.4,129.4 567.8,128.6 569.1,127.9 570.5,127.2 571.8,126.4 573.1,125.7 574.5,124.9 575.9,124.2 577.2,123.4 578.5,122.6 579.9,121.9 581.2,121.1 582.6,120.3 584.0,119.5 585.3,118.7 586.7,117.7 588.0,116.8 589.4,115.9 590.7,114.9 592.0,114.0 593.4,113.2 594.8,112.3 596.1,111.4 597.5,110.5 598.8,109.6 600.2,108.8 601.5,108.2 602.9,107.7 604.2,107.2 605.6,106.7 606.9,106.2 608.2,105.6 609.6,105.1 611.0,104.5 612.3,104.0 613.7,103.9 615.0,105.0 616.4,107.2 617.7,111.3 619.0,115.6 620.4,116.1 621.8,114.3 623.1,112.2 624.5,110.4 625.8,108.7 627.1,107.2 628.5,105.9 629.9,104.7 631.2,103.5 632.5,102.3 633.9,101.1 635.2,100.0 636.6,99.0 638.0,97.9 639.3,97.0 640.7,96.0 642.0,95.1 643.4,94.2 644.7,93.2 646.1,92.3 647.4,91.4 648.8,90.4 650.1,89.5 651.5,88.6 652.8,87.8 654.2,87.2 655.5,86.5 656.9,85.8 658.2,85.2 659.6,84.8 660.9,84.5 662.2,84.4 663.6,84.4 665.0,84.4 666.3,84.4 667.6,84.4 669.0,84.4 670.4,84.2 671.7,83.8 673.0,83.3 674.4,82.3 675.8,81.1 677.1,80.0 678.5,79.7 679.8,81.0 681.2,86.8 682.5,97.5 683.9,109.4 685.2,119.1 686.5,125.0 687.9,127.9 689.2,128.3 690.6,127.3 692.0,125.1 693.3,122.4 694.7,119.1 696.0,115.4 697.4,111.7 698.7,107.7 700.1,103.2 701.4,98.5 702.8,94.0 704.1,89.8 705.5,85.9 706.8,82.5 708.2,79.2 709.5,76.3 710.9,73.9 712.2,72.1 713.5,71.1 714.9,70.6 716.2,70.4 717.6,71.7 719.0,74.8 720.3,78.5 721.7,82.4 723.0,86.6 724.4,90.1 725.7,90.9 727.1,89.6 728.4,87.9 729.8,86.3 731.1,84.7 732.5,83.3 733.8,82.5 735.2,83.1 736.5,83.9 737.9,84.7 739.2,85.1 740.6,85.6 741.9,86.8 743.2,88.2 744.6,89.7 746.0,91.2 747.3,94.0 748.7,96.5 750.0,97.4 751.4,98.2 752.7,100.9 754.0,102.4 755.4,103.4 756.8,106.1 758.1,108.7 759.5,111.8 760.8,116.1 762.2,117.0 763.5,118.8 764.9,121.4 766.2,122.8" stroke="#628dd5"/>
<polyline points="475.9,236.7 477.3,235.2 478.6,233.4 480.0,231.6 481.4,229.8 482.7,228.0 484.1,225.9 485.4,223.6 486.8,221.2 488.1,218.7 489.4,216.1 490.8,213.3 492.1,210.5 493.5,207.6 494.9,204.6 496.2,201.5 497.6,198.4 498.9,195.2 500.2,192.0 501.6,188.5 502.9,184.9 504.3,181.5 505.6,178.1 507.0,174.9 508.4,171.9 509.7,169.1 511.1,166.4 512.4,163.9 513.8,161.8 515.1,159.9 516.5,158.1 517.8,156.2 519.1,154.2 520.5,152.2 521.9,150.3 523.2,148.4 524.5,146.6 525.9,145.0 527.2,143.5 528.6,142.3 530.0,141.3 531.3,140.4 532.6,139.7 534.0,139.2 535.4,138.8 536.7,138.5 538.0,138.2 539.4,138.0 540.8,137.8 542.1,137.6 543.5,137.4 544.8,137.1 546.1,136.9 547.5,136.7 548.9,136.5 550.2,136.3 551.5,136.1 552.9,136.1 554.2,136.0 555.6,135.9 557.0,135.8 558.3,135.6 559.6,135.4 561.0,134.7 562.4,132.9 563.7,132.1 565.0,131.4 566.4,130.7 567.8,130.0 569.1,129.3 570.5,128.6 571.8,127.8 573.1,127.1 574.5,126.3 575.9,125.6 577.2,124.8 578.5,124.1 579.9,123.3 581.2,122.5 582.6,121.7 584.0,120.9 585.3,120.1 586.7,119.2 588.0,118.2 589.4,117.3 590.7,116.4 592.0,115.5 593.4,114.7 594.8,113.8 596.1,112.9 597.5,112.1 598.8,111.2 600.2,110.5 601.5,109.9 602.9,109.4 604.2,108.9 605.6,108.4 606.9,108.0 608.2,107.5 609.6,107.0 611.0,106.5 612.3,105.9 613.7,105.9 615.0,107.0 616.4,109.2 617.7,113.3 619.0,117.5 620.4,118.0 621.8,116.3 623.1,114.3 624.5,112.5 625.8,110.9 627.1,109.4 628.5,108.2 629.9,107.0 631.2,105.8 632.5,104.7 633.9,103.6 635.2,102.5 636.6,101.5 638.0,100.5 639.3,99.6 640.7,98.7 642.0,97.9 643.4,97.0 644.7,96.1 646.1,95.3 647.4,94.4 648.8,93.5 650.1,92.6 651.5,91.8 652.8,91.2 654.2,90.6 655.5,89.9 656.9,89.3 658.2,88.8 659.6,88.5 660.9,88.3 662.2,88.3 663.6,88.4 665.0,88.5 666.3,88.6 667.6,88.7 669.0,88.8 670.4,88.7 671.7,88.5 673.0,88.0 674.4,87.1 675.8,85.9 677.1,84.9 678.5,84.5 679.8,85.8 681.2,91.3 682.5,101.7 683.9,113.4 685.2,122.7 686.5,128.5 687.9,131.3 689.2,131.7 690.6,130.7 692.0,128.5 693.3,125.9 694.7,122.7 696.0,119.0 697.4,115.3 698.7,111.4 700.1,107.0 701.4,102.4 702.8,98.0 704.1,93.9 705.5,90.1 706.8,86.8 708.2,83.6 709.5,80.7 710.9,78.4 712.2,76.7 713.5,75.8 714.9,75.2 716.2,75.1 717.6,76.3 719.0,79.3 720.3,82.9 721.7,86.7 723.0,90.8 724.4,94.2 725.7,95.0 727.1,93.7 728.4,92.1 729.8,90.5 731.1,89.0 732.5,87.7 733.8,87.0 735.2,87.5 736.5,88.1 737.9,88.9 739.2,89.6 740.6,90.2 741.9,90.5 743.2,92.2 744.6,94.5 746.0,97.1 747.3,98.4 748.7,99.8 750.0,101.7 751.4,101.6 752.7,104.2 754.0,107.2 755.4,109.7 756.8,113.1 758.1,114.9 759.5,115.6 760.8,117.3 762.2,120.3 763.5,122.1 764.9,124.6 766.2,127.5" stroke="#a0a0a0"/>
<polyline points="475.9,237.1 477.3,235.7 478.6,233.9 480.0,232.2 481.4,230.5 482.7,228.6 484.1,226.6 485.4,224.4 486.8,222.0 488.1,219.5 489.4,217.0 490.8,214.4 492.1,211.6 493.5,208.8 494.9,205.8 496.2,202.8 497.6,199.8 498.9,196.7 500.2,193.5 501.6,190.2 502.9,186.7 504.3,183.4 505.6,180.2 507.0,177.1 508.4,174.2 509.7,171.5 511.1,168.9 512.4,166.5 513.8,164.4 515.1,162.6 516.5,160.7 517.8,158.8 519.1,156.7 520.5,154.5 521.9,152.3 523.2,150.2 524.5,148.2 525.9,146.4 527.2,144.7 528.6,143.4 530.0,142.3 531.3,141.5 532.6,140.8 534.0,140.3 535.4,140.0 536.7,139.7 538.0,139.4 539.4,139.2 540.8,139.1 542.1,138.9 543.5,138.8 544.8,138.6 546.1,138.4 547.5,138.2 548.9,138.1 550.2,137.9 551.5,137.8 552.9,137.8 554.2,137.8 555.6,137.7 557.0,137.6 558.3,137.5 559.6,137.3 561.0,136.6 562.4,134.6 563.7,133.7 565.0,133.1 566.4,132.4 567.8,131.7 569.1,131.0 570.5,130.2 571.8,129.5 573.1,128.8 574.5,128.0 575.9,127.2 577.2,126.5 578.5,125.7 579.9,124.9 581.2,124.1 582.6,123.4 584.0,122.6 585.3,121.7 586.7,120.8 588.0,119.9 589.4,119.0 590.7,118.1 592.0,117.2 593.4,116.4 594.8,115.5 596.1,114.7 597.5,113.9 598.8,113.0 600.2,112.3 601.5,111.8 602.9,111.3 604.2,110.9 605.6,110.5 606.9,110.0 608.2,109.6 609.6,109.1 611.0,108.7 612.3,108.2 613.7,108.1 615.0,109.3 616.4,111.5 617.7,115.5 619.0,119.7 620.4,120.3 621.8,118.6 623.1,116.7 624.5,115.0 625.8,113.4 627.1,112.0 628.5,110.8 629.9,109.7 631.2,108.6 632.5,107.5 633.9,106.4 635.2,105.4 636.6,104.4 638.0,103.5 639.3,102.6 640.7,101.8 642.0,101.0 643.4,100.2 644.7,99.4 646.1,98.6 647.4,97.7 648.8,96.9 650.1,96.1 651.5,95.4 652.8,94.8 654.2,94.2 655.5,93.7 656.9,93.1 658.2,92.7 659.6,92.4 660.9,92.3 662.2,92.4 663.6,92.5 665.0,92.7 666.3,92.9 667.6,93.1 669.0,93.4 670.4,93.4 671.7,93.3 673.0,92.9 674.4,92.2 675.8,91.1 677.1,90.1 678.5,89.9 679.8,91.2 681.2,96.6 682.5,106.8 683.9,118.1 685.2,127.3 686.5,132.9 687.9,135.7 689.2,136.1 690.6,135.0 692.0,132.9 693.3,130.3 694.7,127.1 696.0,123.6 697.4,119.9 698.7,116.1 700.1,111.8 701.4,107.3 702.8,103.0 704.1,99.0 705.5,95.3 706.8,92.0 708.2,88.9 709.5,86.0 710.9,83.7 712.2,81.9 713.5,81.0 714.9,80.3 716.2,80.0 717.6,81.1 719.0,84.0 720.3,87.5 721.7,91.2 723.0,95.2 724.4,98.5 725.7,99.2 727.1,98.0 728.4,96.4 729.8,94.8 731.1,93.4 732.5,92.0 733.8,91.5 735.2,92.1 736.5,92.8 737.9,93.6 739.2,94.3 740.6,94.4 741.9,95.5 743.2,97.4 744.6,97.9 746.0,99.5 747.3,101.4 748.7,103.5 750.0,105.1 751.4,107.0 752.7,108.4 754.0,111.1 755.4,115.6 756.8,116.4 758.1,117.0 759.5,120.2 760.8,124.8 762.2,126.7 763.5,128.7 764.9,132.0 766.2,132.2" stroke="#6ab19b"/>
<polyline points="475.9,237.1 477.3,235.6 478.6,233.9 480.0,232.2 481.4,230.4 482.7,228.6 484.1,226.6 485.4,224.4 486.8,222.0 488.1,219.5 489.4,217.0 490.8,214.3 492.1,211.6 493.5,208.7 494.9,205.7 496.2,202.7 497.6,199.7 498.9,196.7 500.2,193.5 501.6,190.1 502.9,186.7 504.3,183.5 505.6,180.3 507.0,177.2 508.4,174.4 509.7,171.7 511.1,169.1 512.4,166.7 513.8,164.7 515.1,162.8 516.5,160.9 517.8,158.9 519.1,156.6 520.5,154.2 521.9,151.8 523.2,149.4 524.5,147.1 525.9,145.0 527.2,143.2 528.6,141.7 530.0,140.5 531.3,139.7 532.6,139.0 534.0,138.5 535.4,138.2 536.7,137.9 538.0,137.7 539.4,137.5 540.8,137.3 542.1,137.2 543.5,137.1 544.8,136.9 546.1,136.8 547.5,136.6 548.9,136.4 550.2,136.3 551.5,136.3 552.9,136.3 554.2,136.2 555.6,136.2 557.0,136.1 558.3,136.0 559.6,135.8 561.0,135.6 562.4,135.4 563.7,135.0 565.0,134.4 566.4,133.8 567.8,133.1 569.1,132.4 570.5,131.7 571.8,131.0 573.1,130.3 574.5,129.6 575.9,128.9 577.2,128.2 578.5,127.5 579.9,126.8 581.2,126.1 582.6,125.4 584.0,124.6 585.3,123.9 586.7,123.0 588.0,122.2 589.4,121.4 590.7,120.5 592.0,119.8 593.4,119.0 594.8,118.2 596.1,117.4 597.5,116.7 598.8,115.9 600.2,115.2 601.5,114.7 602.9,114.3 604.2,113.9 605.6,113.4 606.9,113.0 608.2,112.6 609.6,112.1 611.0,111.7 612.3,111.2 613.7,111.2 615.0,112.4 616.4,114.5 617.7,118.4 619.0,122.5 620.4,123.1 621.8,121.5 623.1,119.6 624.5,118.0 625.8,116.5 627.1,115.1 628.5,114.0 629.9,112.9 631.2,111.8 632.5,110.8 633.9,109.8 635.2,108.8 636.6,107.9 638.0,106.9 639.3,106.1 640.7,105.4 642.0,104.6 643.4,103.8 644.7,103.0 646.1,102.3 647.4,101.5 648.8,100.7 650.1,99.9 651.5,99.2 652.8,98.6 654.2,98.1 655.5,97.6 656.9,97.1 658.2,96.6 659.6,96.4 660.9,96.3 662.2,96.4 663.6,96.6 665.0,96.8 666.3,96.9 667.6,97.1 669.0,97.3 670.4,97.3 671.7,97.2 673.0,96.8 674.4,96.2 675.8,95.3 677.1,94.6 678.5,94.6 679.8,96.0 681.2,101.6 682.5,111.7 683.9,122.8 685.2,131.8 686.5,137.4 687.9,140.1 689.2,140.5 690.6,139.4 692.0,137.3 693.3,134.8 694.7,131.7 696.0,128.2 697.4,124.7 698.7,121.0 700.1,116.7 701.4,112.4 702.8,108.1 704.1,104.2 705.5,100.5 706.8,97.2 708.2,94.1 709.5,91.1 710.9,88.8 712.2,86.9 713.5,85.7 714.9,84.9 716.2,84.4 717.6,85.3 719.0,88.1 720.3,91.5 721.7,95.1 723.0,99.0 724.4,102.2 725.7,102.9 727.1,101.7 728.4,100.2 729.8,98.6 731.1,97.3 732.5,96.1 733.8,95.4 735.2,95.8 736.5,96.6 737.9,97.3 739.2,97.8 740.6,98.3 741.9,99.1 743.2,100.5 744.6,102.6 746.0,104.3 747.3,105.8 748.7,107.6 750.0,109.3 751.4,110.5 752.7,111.3 754.0,113.5 755.4,116.7 756.8,118.8 758.1,120.9 759.5,123.4 760.8,126.4 762.2,128.2 763.5,129.3 764.9,132.3 766.2,135.0" stroke="#e38662"/>
<polyline points="475.9,237.4 477.3,236.0 478.6,234.3 480.0,232.7 481.4,231.0 482.7,229.2 484.1,227.2 485.4,225.1 486.8,222.7 488.1,220.4 489.4,217.9 490.8,215.3 492.1,212.6 493.5,209.8 494.9,206.8 496.2,203.9 497.6,200.9 498.9,197.9 500.2,194.8 501.6,191.6 502.9,188.2 504.3,185.0 505.6,181.9 507.0,178.9 508.4,176.1 509.7,173.4 511.1,170.9 512.4,168.6 513.8,166.5 515.1,164.6 516.5,162.7 517.8,160.6 519.1,158.3 520.5,155.8 521.9,153.3 523.2,150.8 524.5,148.4 525.9,146.2 527.2,144.3 528.6,142.7 530.0,141.6 531.3,140.7 532.6,140.1 534.0,139.6 535.4,139.3 536.7,139.0 538.0,138.8 539.4,138.6 540.8,138.5 542.1,138.4 543.5,138.3 544.8,138.1 546.1,138.0 547.5,137.9 548.9,137.7 550.2,137.6 551.5,137.6 552.9,137.6 554.2,137.6 555.6,137.6 557.0,137.5 558.3,137.4 559.6,137.3 561.0,137.1 562.4,136.8 563.7,136.5 565.0,135.9 566.4,135.2 567.8,134.6 569.1,133.9 570.5,133.2 571.8,132.5 573.1,131.9 574.5,131.2 575.9,130.5 577.2,129.8 578.5,129.2 579.9,128.5 581.2,127.8 582.6,127.1 584.0,126.4 585.3,125.7 586.7,124.9 588.0,124.1 589.4,123.3 590.7,122.5 592.0,121.8 593.4,121.0 594.8,120.3 596.1,119.5 597.5,118.8 598.8,118.1 600.2,117.4 601.5,116.9 602.9,116.5 604.2,116.1 605.6,115.7 606.9,115.3 608.2,114.8 609.6,114.4 611.0,113.9 612.3,113.5 613.7,113.4 615.0,114.6 616.4,116.7 617.7,120.6 619.0,124.6 620.4,125.2 621.8,123.6 623.1,121.8 624.5,120.2 625.8,118.7 627.1,117.3 628.5,116.2 629.9,115.1 631.2,114.1 632.5,113.0 633.9,112.0 635.2,111.1 636.6,110.1 638.0,109.2 639.3,108.4 640.7,107.6 642.0,106.9 643.4,106.1 644.7,105.3 646.1,104.6 647.4,103.8 648.8,103.0 650.1,102.3 651.5,101.6 652.8,101.0 654.2,100.5 655.5,100.0 656.9,99.4 658.2,99.0 659.6,98.8 660.9,98.7 662.2,98.8 663.6,99.0 665.0,99.1 666.3,99.3 667.6,99.5 669.0,99.7 670.4,99.7 671.7,99.6 673.0,99.4 674.4,98.9 675.8,98.4 677.1,98.0 678.5,98.4 679.8,100.2 681.2,106.1 682.5,116.2 683.9,127.4 685.2,136.4 686.5,141.9 687.9,144.6 689.2,144.9 690.6,143.9 692.0,141.9 693.3,139.4 694.7,136.4 696.0,133.0 697.4,129.5 698.7,125.9 700.1,121.7 701.4,117.5 702.8,113.3 704.1,109.5 705.5,105.9 706.8,102.6 708.2,99.4 709.5,96.5 710.9,94.1 712.2,92.1 713.5,90.8 714.9,89.8 716.2,89.1 717.6,89.9 719.0,92.6 720.3,95.9 721.7,99.4 723.0,103.1 724.4,106.2 725.7,106.9 727.1,105.7 728.4,104.2 729.8,102.7 731.1,101.4 732.5,100.2 733.8,99.3 735.2,99.8 736.5,100.6 737.9,101.1 739.2,102.2 740.6,103.2 741.9,104.7 743.2,106.1 744.6,106.3 746.0,108.4 747.3,110.0 748.7,111.3 750.0,113.7 751.4,115.5 752.7,116.0 754.0,117.6 755.4,120.4 756.8,123.4 758.1,125.3 759.5,126.2 760.8,128.7 762.2,131.8 763.5,133.2 764.9,134.8 766.2,136.6" stroke="#b88d8d"/>
<polyline points="475.9,237.7 477.3,236.4 478.6,234.8 480.0,233.2 481.4,231.6 482.7,229.9 484.1,227.9 485.4,225.8 486.8,223.5 488.1,221.2 489.4,218.8 490.8,216.2 492.1,213.5 493.5,210.8 494.9,207.9 496.2,205.0 497.6,202.2 498.9,199.3 500.2,196.3 501.6,193.2 502.9,190.0 504.3,187.1 505.6,184.3 507.0,181.6 508.4,179.1 509.7,176.7 511.1,174.4 512.4,172.4 513.8,170.6 515.1,168.9 516.5,167.2 517.8,165.2 519.1,163.0 520.5,160.6 521.9,158.0 523.2,155.4 524.5,153.0 525.9,150.7 527.2,148.7 528.6,147.1 530.0,146.0 531.3,145.2 532.6,144.6 534.0,144.1 535.4,143.8 536.7,143.6 538.0,143.3 539.4,143.2 540.8,143.0 542.1,142.9 543.5,142.7 544.8,142.6 546.1,142.4 547.5,142.3 548.9,142.1 550.2,142.0 551.5,141.9 552.9,141.9 554.2,141.9 555.6,141.8 557.0,141.7 558.3,141.6 559.6,141.5 561.0,141.3 562.4,141.0 563.7,140.7 565.0,140.1 566.4,139.4 567.8,138.7 569.1,138.0 570.5,137.3 571.8,136.6 573.1,135.8 574.5,135.1 575.9,134.3 577.2,133.5 578.5,132.7 579.9,131.9 581.2,131.1 582.6,130.3 584.0,129.5 585.3,128.6 586.7,127.7 588.0,126.7 589.4,125.8 590.7,124.9 592.0,124.0 593.4,123.2 594.8,122.4 596.1,121.5 597.5,120.7 598.8,119.9 600.2,119.2 601.5,118.7 602.9,118.3 604.2,117.8 605.6,117.4 606.9,117.0 608.2,116.6 609.6,116.1 611.0,115.7 612.3,115.2 613.7,115.2 615.0,116.3 616.4,118.4 617.7,122.2 619.0,126.2 620.4,126.8 621.8,125.3 623.1,123.5 624.5,121.9 625.8,120.5 627.1,119.2 628.5,118.0 629.9,117.0 631.2,115.9 632.5,114.9 633.9,113.9 635.2,112.9 636.6,112.0 638.0,111.1 639.3,110.3 640.7,109.5 642.0,108.8 643.4,108.0 644.7,107.3 646.1,106.5 647.4,105.8 648.8,105.0 650.1,104.3 651.5,103.6 652.8,103.0 654.2,102.5 655.5,102.0 656.9,101.4 658.2,101.0 659.6,100.8 660.9,100.8 662.2,100.9 663.6,101.1 665.0,101.3 666.3,101.5 667.6,101.7 669.0,101.8 670.4,101.8 671.7,101.8 673.0,101.7 674.4,101.5 675.8,101.2 677.1,101.1 678.5,101.9 679.8,104.1 681.2,110.2 682.5,120.5 683.9,131.8 685.2,140.8 686.5,146.3 687.9,149.0 689.2,149.3 690.6,148.3 692.0,146.2 693.3,143.7 694.7,140.8 696.0,137.4 697.4,133.9 698.7,130.2 700.1,126.1 701.4,121.9 702.8,117.7 704.1,113.9 705.5,110.3 706.8,106.9 708.2,103.6 709.5,100.5 710.9,98.0 712.2,95.8 713.5,94.3 714.9,92.9 716.2,91.8 717.6,92.3 719.0,94.9 720.3,98.1 721.7,101.5 723.0,105.2 724.4,108.2 725.7,108.9 727.1,107.8 728.4,106.3 729.8,104.8 731.1,103.5 732.5,102.3 733.8,101.8 735.2,102.3 736.5,102.9 737.9,103.2 739.2,103.5 740.6,104.7 741.9,105.8 743.2,106.1 744.6,107.6 746.0,109.4 747.3,111.4 748.7,113.8 750.0,116.5 751.4,117.0 752.7,119.3 754.0,121.5 755.4,124.5 756.8,125.4 758.1,128.6 759.5,131.9 760.8,132.2 762.2,133.9 763.5,136.4 764.9,138.2 766.2,136.6" stroke="#e3b162"/>
<polyline points="475.9,238.1 477.3,236.8 478.6,235.2 480.0,233.7 481.4,232.1 482.7,230.5 484.1,228.5 485.4,226.5 486.8,224.3 488.1,222.0 489.4,219.7 490.8,217.1 492.1,214.5 493.5,211.8 494.9,209.0 496.2,206.2 497.6,203.4 498.9,200.6 500.2,197.7 501.6,194.7 502.9,191.6 504.3,188.9 505.6,186.2 507.0,183.6 508.4,181.2 509.7,178.9 511.1,176.8 512.4,174.8 513.8,173.1 515.1,171.5 516.5,169.9 517.8,168.1 519.1,165.9 520.5,163.5 521.9,161.0 523.2,158.5 524.5,156.1 525.9,153.9 527.2,152.0 528.6,150.4 530.0,149.4 531.3,148.7 532.6,148.1 534.0,147.6 535.4,147.3 536.7,147.1 538.0,146.9 539.4,146.7 540.8,146.6 542.1,146.4 543.5,146.3 544.8,146.2 546.1,146.0 547.5,145.9 548.9,145.7 550.2,145.6 551.5,145.5 552.9,145.5 554.2,145.5 555.6,145.4 557.0,145.3 558.3,145.2 559.6,145.0 561.0,144.8 562.4,144.6 563.7,144.3 565.0,143.7 566.4,143.0 567.8,142.3 569.1,141.6 570.5,140.8 571.8,140.0 573.1,139.2 574.5,138.3 575.9,137.5 577.2,136.6 578.5,135.6 579.9,134.7 581.2,133.8 582.6,132.8 584.0,131.9 585.3,130.8 586.7,129.8 588.0,128.7 589.4,127.7 590.7,126.6 592.0,125.6 593.4,124.7 594.8,123.7 596.1,122.8 597.5,121.9 598.8,121.1 600.2,120.3 601.5,119.8 602.9,119.3 604.2,118.8 605.6,118.4 606.9,118.0 608.2,117.6 609.6,117.1 611.0,116.7 612.3,116.3 613.7,116.3 615.0,117.4 616.4,119.4 617.7,123.2 619.0,127.2 620.4,127.9 621.8,126.4 623.1,124.7 624.5,123.2 625.8,121.8 627.1,120.5 628.5,119.4 629.9,118.4 631.2,117.3 632.5,116.3 633.9,115.4 635.2,114.4 636.6,113.5 638.0,112.7 639.3,111.9 640.7,111.2 642.0,110.5 643.4,109.8 644.7,109.1 646.1,108.4 647.4,107.7 648.8,107.0 650.1,106.3 651.5,105.6 652.8,105.0 654.2,104.5 655.5,104.0 656.9,103.5 658.2,103.1 659.6,103.0 660.9,103.0 662.2,103.1 663.6,103.3 665.0,103.6 666.3,103.8 667.6,104.0 669.0,104.2 670.4,104.2 671.7,104.2 673.0,104.2 674.4,104.2 675.8,104.2 677.1,104.6 678.5,105.7 679.8,108.3 681.2,114.8 682.5,125.2 683.9,136.5 685.2,145.4 686.5,151.0 687.9,153.7 689.2,153.9 690.6,152.8 692.0,150.7 693.3,148.2 694.7,145.3 696.0,141.9 697.4,138.5 698.7,134.8 700.1,130.8 701.4,126.6 702.8,122.6 704.1,118.8 705.5,115.2 706.8,111.8 708.2,108.6 709.5,105.5 710.9,102.9 712.2,100.7 713.5,99.0 714.9,97.5 716.2,96.2 717.6,96.5 719.0,99.0 720.3,102.1 721.7,105.4 723.0,108.9 724.4,111.9 725.7,112.5 727.1,111.5 728.4,110.0 729.8,108.6 731.1,107.3 732.5,106.2 733.8,105.7 735.2,106.0 736.5,106.6 737.9,107.5 739.2,108.2 740.6,108.7 741.9,109.3 743.2,110.5 744.6,112.2 746.0,114.1 747.3,116.5 748.7,118.2 750.0,119.4 751.4,120.6 752.7,122.4 754.0,125.0 755.4,126.9 756.8,128.2 758.1,129.9 759.5,132.4 760.8,135.0 762.2,138.1 763.5,140.9 764.9,141.5 766.2,141.2" stroke="#53b1aa"/>
<polyline points="475.9,238.0 477.3,236.7 478.6,235.2 480.0,233.7 481.4,232.2 482.7,230.5 484.1,228.6 485.4,226.5 486.8,224.3 488.1,222.1 489.4,219.7 490.8,217.2 492.1,214.5 493.5,211.9 494.9,209.0 496.2,206.2 497.6,203.4 498.9,200.6 500.2,197.7 501.6,194.6 502.9,191.6 504.3,188.9 505.6,186.2 507.0,183.7 508.4,181.3 509.7,179.0 511.1,176.9 512.4,175.0 513.8,173.3 515.1,171.7 516.5,170.0 517.8,168.2 519.1,166.1 520.5,163.7 521.9,161.2 523.2,158.7 524.5,156.3 525.9,154.1 527.2,152.1 528.6,150.6 530.0,149.6 531.3,148.9 532.6,148.3 534.0,147.9 535.4,147.6 536.7,147.4 538.0,147.2 539.4,147.1 540.8,146.9 542.1,146.8 543.5,146.7 544.8,146.6 546.1,146.5 547.5,146.4 548.9,146.2 550.2,146.1 551.5,146.1 552.9,146.1 554.2,146.0 555.6,146.0 557.0,145.9 558.3,145.8 559.6,145.7 561.0,146.0 562.4,147.4 563.7,147.6 565.0,147.1 566.4,146.4 567.8,145.8 569.1,145.1 570.5,144.3 571.8,143.6 573.1,142.8 574.5,142.0 575.9,141.2 577.2,140.3 578.5,139.5 579.9,138.6 581.2,137.7 582.6,136.8 584.0,135.9 585.3,135.0 586.7,134.0 588.0,133.0 589.4,132.0 590.7,131.0 592.0,130.1 593.4,129.3 594.8,128.4 596.1,127.5 597.5,126.7 598.8,125.9 600.2,125.2 601.5,124.7 602.9,124.2 604.2,123.8 605.6,123.4 606.9,122.9 608.2,122.5 609.6,122.1 611.0,121.7 612.3,121.2 613.7,121.2 615.0,122.3 616.4,124.2 617.7,127.8 619.0,131.6 620.4,132.2 621.8,130.8 623.1,129.1 624.5,127.6 625.8,126.2 627.1,124.9 628.5,123.8 629.9,122.8 631.2,121.7 632.5,120.7 633.9,119.7 635.2,118.7 636.6,117.8 638.0,116.9 639.3,116.1 640.7,115.3 642.0,114.6 643.4,113.9 644.7,113.1 646.1,112.4 647.4,111.7 648.8,110.9 650.1,110.2 651.5,109.5 652.8,109.0 654.2,108.4 655.5,107.9 656.9,107.3 658.2,106.9 659.6,106.8 660.9,106.8 662.2,107.0 663.6,107.2 665.0,107.4 666.3,107.6 667.6,107.9 669.0,108.1 670.4,108.2 671.7,108.3 673.0,108.3 674.4,108.5 675.8,108.7 677.1,109.2 678.5,110.6 679.8,113.3 681.2,119.8 682.5,130.1 683.9,141.3 685.2,150.1 686.5,155.6 687.9,158.2 689.2,158.4 690.6,157.4 692.0,155.3 693.3,152.9 694.7,150.0 696.0,146.7 697.4,143.3 698.7,139.7 700.1,135.8 701.4,131.7 702.8,127.7 704.1,124.0 705.5,120.5 706.8,117.1 708.2,113.8 709.5,110.7 710.9,108.1 712.2,105.9 713.5,104.1 714.9,102.4 716.2,101.0 717.6,101.1 719.0,103.5 720.3,106.5 721.7,109.7 723.0,113.0 724.4,115.9 725.7,116.5 727.1,115.5 728.4,114.1 729.8,112.7 731.1,111.5 732.5,110.6 733.8,110.0 735.2,109.9 736.5,110.7 737.9,111.2 739.2,112.2 740.6,113.1 741.9,113.7 743.2,115.2 744.6,116.7 746.0,118.9 747.3,119.9 748.7,121.0 750.0,122.1 751.4,124.1 752.7,126.5 754.0,127.7 755.4,130.1 756.8,132.3 758.1,133.8 759.5,135.8 760.8,139.4 762.2,143.6 763.5,146.3 764.9,147.0 766.2,149.3" stroke="#ea9477"/>
<polyline points="475.9,238.8 477.3,237.5 478.6,236.1 480.0,234.6 481.4,233.2 482.7,231.7 484.1,229.9 485.4,227.9 486.8,225.8 488.1,223.6 489.4,221.4 490.8,219.0 492.1,216.5 493.5,213.9 494.9,211.2 496.2,208.5 497.6,205.9 498.9,203.2 500.2,200.4 501.6,197.5 502.9,194.7 504.3,192.1 505.6,189.6 507.0,187.2 508.4,184.9 509.7,182.8 511.1,180.8 512.4,179.0 513.8,177.4 515.1,175.9 516.5,174.3 517.8,172.6 519.1,170.5 520.5,168.2 521.9,165.8 523.2,163.4 524.5,161.2 525.9,159.0 527.2,157.2 528.6,155.8 530.0,154.8 531.3,154.2 532.6,153.6 534.0,153.3 535.4,153.0 536.7,152.8 538.0,152.6 539.4,152.5 540.8,152.4 542.1,152.3 543.5,152.2 544.8,152.1 546.1,151.9 547.5,151.8 548.9,151.7 550.2,151.6 551.5,151.6 552.9,151.6 554.2,151.6 555.6,151.5 557.0,151.4 558.3,151.3 559.6,151.2 561.0,151.0 562.4,150.8 563.7,150.5 565.0,149.9 566.4,149.3 567.8,148.6 569.1,148.0 570.5,147.2 571.8,146.5 573.1,145.7 574.5,144.9 575.9,144.0 577.2,143.2 578.5,142.3 579.9,141.4 581.2,140.5 582.6,139.6 584.0,138.7 585.3,137.7 586.7,136.8 588.0,135.8 589.4,134.8 590.7,133.8 592.0,132.9 593.4,132.0 594.8,131.1 596.1,130.2 597.5,129.4 598.8,128.6 600.2,127.9 601.5,127.4 602.9,126.9 604.2,126.5 605.6,126.1 606.9,125.7 608.2,125.3 609.6,124.9 611.0,124.5 612.3,124.1 613.7,124.0 615.0,125.1 616.4,127.1 617.7,130.6 619.0,134.3 620.4,135.0 621.8,133.7 623.1,132.1 624.5,130.7 625.8,129.3 627.1,128.2 628.5,127.1 629.9,126.2 631.2,125.2 632.5,124.2 633.9,123.3 635.2,122.4 636.6,121.5 638.0,120.7 639.3,120.0 640.7,119.4 642.0,118.8 643.4,118.1 644.7,117.5 646.1,116.8 647.4,116.2 648.8,115.6 650.1,115.0 651.5,114.4 652.8,113.9 654.2,113.4 655.5,113.0 656.9,112.5 658.2,112.2 659.6,112.2 660.9,112.3 662.2,112.5 663.6,112.8 665.0,113.1 666.3,113.4 667.6,113.7 669.0,114.0 670.4,114.2 671.7,114.3 673.0,114.5 674.4,114.6 675.8,114.9 677.1,115.4 678.5,116.7 679.8,119.4 681.2,125.7 682.5,135.6 683.9,146.4 685.2,154.9 686.5,160.2 687.9,162.7 689.2,162.8 690.6,161.8 692.0,159.8 693.3,157.4 694.7,154.6 696.0,151.3 697.4,147.9 698.7,144.4 700.1,140.5 701.4,136.5 702.8,132.6 704.1,128.9 705.5,125.4 706.8,122.1 708.2,118.8 709.5,115.7 710.9,113.1 712.2,110.9 713.5,109.0 714.9,107.2 716.2,105.7 717.6,105.7 719.0,108.0 720.3,110.9 721.7,114.0 723.0,117.2 724.4,119.9 725.7,120.6 727.1,119.6 728.4,118.2 729.8,116.9 731.1,115.7 732.5,114.5 733.8,114.2 735.2,114.8 736.5,115.5 737.9,116.2 739.2,116.7 740.6,117.4 741.9,118.5 743.2,120.1 744.6,121.2 746.0,122.8 747.3,124.4 748.7,124.5 750.0,126.0 751.4,127.3 752.7,129.6 754.0,132.7 755.4,134.8 756.8,135.7 758.1,137.7 759.5,139.9 760.8,143.0 762.2,146.5 763.5,147.2 764.9,149.4 766.2,151.1" stroke="#878787"/>
<polyline points="475.9,239.2 477.3,238.1 478.6,236.7 480.0,235.3 481.4,234.0 482.7,232.5 484.1,230.7 485.4,228.8 486.8,226.8 488.1,224.7 489.4,222.6 490.8,220.2 492.1,217.8 493.5,215.3 494.9,212.7 496.2,210.1 497.6,207.5 498.9,205.0 500.2,202.3 501.6,199.5 502.9,196.8 504.3,194.3 505.6,192.0 507.0,189.7 508.4,187.5 509.7,185.4 511.1,183.6 512.4,181.9 513.8,180.4 515.1,178.9 516.5,177.4 517.8,175.7 519.1,173.7 520.5,171.4 521.9,169.0 523.2,166.6 524.5,164.3 525.9,162.1 527.2,160.3 528.6,158.9 530.0,157.9 531.3,157.3 532.6,156.8 534.0,156.5 535.4,156.2 536.7,156.1 538.0,155.9 539.4,155.8 540.8,155.7 542.1,155.6 543.5,155.6 544.8,155.5 546.1,155.4 547.5,155.3 548.9,155.3 550.2,155.2 551.5,155.2 552.9,155.2 554.2,155.2 555.6,155.2 557.0,155.1 558.3,155.0 559.6,154.9 561.0,154.5 562.4,153.8 563.7,153.3 565.0,152.7 566.4,152.1 567.8,151.5 569.1,150.8 570.5,150.1 571.8,149.3 573.1,148.5 574.5,147.7 575.9,146.9 577.2,146.0 578.5,145.2 579.9,144.3 581.2,143.4 582.6,142.5 584.0,141.6 585.3,140.6 586.7,139.6 588.0,138.6 589.4,137.6 590.7,136.7 592.0,135.7 593.4,134.9 594.8,134.0 596.1,133.2 597.5,132.4 598.8,131.6 600.2,130.9 601.5,130.3 602.9,129.9 604.2,129.5 605.6,129.1 606.9,128.7 608.2,128.3 609.6,127.9 611.0,127.6 612.3,127.2 613.7,127.3 615.0,128.4 616.4,130.3 617.7,133.8 619.0,137.5 620.4,138.3 621.8,137.1 623.1,135.6 624.5,134.3 625.8,133.2 627.1,132.1 628.5,131.2 629.9,130.4 631.2,129.5 632.5,128.7 633.9,127.9 635.2,127.1 636.6,126.4 638.0,125.7 639.3,125.2 640.7,124.7 642.0,124.2 643.4,123.6 644.7,123.1 646.1,122.6 647.4,122.1 648.8,121.6 650.1,121.1 651.5,120.7 652.8,120.3 654.2,119.9 655.5,119.6 656.9,119.2 658.2,118.9 659.6,119.0 660.9,119.2 662.2,119.4 663.6,119.8 665.0,120.1 666.3,120.4 667.6,120.7 669.0,121.0 670.4,121.2 671.7,121.3 673.0,121.4 674.4,121.5 675.8,121.7 677.1,122.2 678.5,123.4 679.8,125.8 681.2,131.8 682.5,141.2 683.9,151.5 685.2,159.7 686.5,164.7 687.9,167.2 689.2,167.3 690.6,166.2 692.0,164.2 693.3,161.9 694.7,159.1 696.0,155.9 697.4,152.5 698.7,149.0 700.1,145.2 701.4,141.3 702.8,137.4 704.1,133.8 705.5,130.3 706.8,127.0 708.2,123.7 709.5,120.6 710.9,118.0 712.2,115.7 713.5,113.8 714.9,112.0 716.2,110.4 717.6,110.3 719.0,112.5 720.3,115.3 721.7,118.3 723.0,121.4 724.4,124.0 725.7,124.6 727.1,123.7 728.4,122.3 729.8,121.1 731.1,120.0 732.5,119.0 733.8,118.3 735.2,118.7 736.5,119.3 737.9,120.1 739.2,120.7 740.6,120.9 741.9,121.7 743.2,122.5 744.6,123.8 746.0,125.9 747.3,127.7 748.7,129.6 750.0,131.3 751.4,132.9 752.7,134.5 754.0,136.7 755.4,138.7 756.8,141.0 758.1,142.0 759.5,143.2 760.8,145.2 762.2,147.8 763.5,150.8 764.9,152.5 766.2,153.5" stroke="#70bfc6"/>
<polyline points="475.9,239.4 477.3,238.3 478.6,236.9 480.0,235.6 481.4,234.3 482.7,232.9 484.1,231.2 485.4,229.3 486.8,227.3 488.1,225.3 489.4,223.2 490.8,220.8 492.1,218.4 493.5,216.0 494.9,213.4 496.2,210.8 497.6,208.3 498.9,205.8 500.2,203.2 501.6,200.4 502.9,197.7 504.3,195.3 505.6,193.0 507.0,190.7 508.4,188.5 509.7,186.5 511.1,184.6 512.4,182.9 513.8,181.4 515.1,179.9 516.5,178.4 517.8,176.7 519.1,174.7 520.5,172.4 521.9,170.1 523.2,167.7 524.5,165.4 525.9,163.3 527.2,161.5 528.6,160.1 530.0,159.2 531.3,158.6 532.6,158.2 534.0,157.9 535.4,157.6 536.7,157.5 538.0,157.3 539.4,157.2 540.8,157.2 542.1,157.1 543.5,157.1 544.8,157.0 546.1,157.0 547.5,156.9 548.9,156.9 550.2,156.8 551.5,156.8 552.9,156.8 554.2,156.8 555.6,156.8 557.0,156.8 558.3,156.7 559.6,156.6 561.0,156.4 562.4,156.2 563.7,155.9 565.0,155.4 566.4,154.8 567.8,154.2 569.1,153.5 570.5,152.8 571.8,152.1 573.1,151.3 574.5,150.5 575.9,149.7 577.2,148.8 578.5,148.0 579.9,147.1 581.2,146.2 582.6,145.3 584.0,144.4 585.3,143.4 586.7,142.4 588.0,141.4 589.4,140.5 590.7,139.5 592.0,138.6 593.4,137.7 594.8,136.9 596.1,136.1 597.5,135.3 598.8,134.5 600.2,133.8 601.5,133.3 602.9,132.8 604.2,132.4 605.6,132.0 606.9,131.7 608.2,131.3 609.6,131.0 611.0,130.7 612.3,130.4 613.7,130.4 615.0,131.6 616.4,133.5 617.7,137.0 619.0,140.7 620.4,141.5 621.8,140.4 623.1,139.0 624.5,137.9 625.8,136.8 627.1,135.9 628.5,135.1 629.9,134.3 631.2,133.6 632.5,132.9 633.9,132.2 635.2,131.5 636.6,130.9 638.0,130.3 639.3,129.9 640.7,129.5 642.0,129.1 643.4,128.7 644.7,128.3 646.1,127.9 647.4,127.5 648.8,127.1 650.1,126.7 651.5,126.3 652.8,126.0 654.2,125.7 655.5,125.4 656.9,125.1 658.2,124.9 659.6,125.0 660.9,125.2 662.2,125.5 663.6,125.8 665.0,126.2 666.3,126.5 667.6,127.0 669.0,128.1 670.4,128.5 671.7,128.7 673.0,128.7 674.4,128.8 675.8,129.0 677.1,129.4 678.5,130.5 679.8,132.8 681.2,138.4 682.5,147.4 683.9,157.2 685.2,165.0 686.5,169.8 687.9,172.2 689.2,172.2 690.6,171.2 692.0,169.2 693.3,166.9 694.7,164.3 696.0,161.1 697.4,157.8 698.7,154.4 700.1,150.7 701.4,146.9 702.8,143.1 704.1,139.6 705.5,136.3 706.8,133.0 708.2,129.8 709.5,126.7 710.9,124.2 712.2,121.9 713.5,120.0 714.9,118.1 716.2,116.5 717.6,116.4 719.0,118.4 720.3,121.1 721.7,123.9 723.0,126.9 724.4,129.3 725.7,130.0 727.1,129.0 728.4,127.8 729.8,126.6 731.1,125.5 732.5,124.5 733.8,123.8 735.2,123.9 736.5,124.5 737.9,125.0 739.2,125.7 740.6,126.0 741.9,126.8 743.2,127.8 744.6,129.7 746.0,132.1 747.3,131.8 748.7,134.5 750.0,138.4 751.4,139.5 752.7,139.5 754.0,139.7 755.4,142.4 756.8,144.2 758.1,145.9 759.5,150.5 760.8,153.1 762.2,154.4 763.5,157.6 764.9,157.9 766.2,160.1" stroke="#c69be3"/>
<polyline points="475.9,239.8 477.3,238.7 478.6,237.4 480.0,236.1 481.4,234.9 482.7,233.6 484.1,231.8 485.4,230.0 486.8,228.1 488.1,226.1 489.4,224.1 490.8,221.8 492.1,219.4 493.5,217.0 494.9,214.5 496.2,212.0 497.6,209.5 498.9,207.1 500.2,204.5 501.6,201.8 502.9,199.1 504.3,196.7 505.6,194.5 507.0,192.3 508.4,190.2 509.7,188.1 511.1,186.4 512.4,184.7 513.8,183.3 515.1,181.9 516.5,180.4 517.8,178.9 519.1,177.2 520.5,175.4 521.9,173.6 523.2,171.7 524.5,170.1 525.9,168.5 527.2,167.2 528.6,166.2 530.0,165.5 531.3,164.9 532.6,164.5 534.0,164.2 535.4,164.0 536.7,163.8 538.0,163.6 539.4,163.4 540.8,163.3 542.1,163.1 543.5,163.0 544.8,162.9 546.1,162.7 547.5,162.6 548.9,162.5 550.2,162.3 551.5,162.2 552.9,162.2 554.2,162.1 555.6,162.0 557.0,161.9 558.3,161.7 559.6,161.6 561.0,161.4 562.4,161.2 563.7,160.9 565.0,160.4 566.4,159.8 567.8,159.2 569.1,158.5 570.5,157.7 571.8,156.9 573.1,156.1 574.5,155.2 575.9,154.3 577.2,153.4 578.5,152.4 579.9,151.4 581.2,150.4 582.6,149.4 584.0,148.3 585.3,147.3 586.7,146.2 588.0,145.0 589.4,143.9 590.7,142.9 592.0,141.9 593.4,140.9 594.8,140.0 596.1,139.0 597.5,138.2 598.8,137.4 600.2,136.6 601.5,136.1 602.9,135.6 604.2,135.1 605.6,134.8 606.9,134.4 608.2,134.1 609.6,133.8 611.0,133.5 612.3,133.2 613.7,133.3 615.0,134.5 616.4,136.4 617.7,139.8 619.0,143.4 620.4,144.3 621.8,143.4 623.1,142.1 624.5,141.0 625.8,140.1 627.1,139.3 628.5,138.5 629.9,137.9 631.2,137.2 632.5,136.6 633.9,136.0 635.2,135.4 636.6,134.9 638.0,134.4 639.3,134.0 640.7,133.7 642.0,133.4 643.4,133.1 644.7,132.8 646.1,132.4 647.4,132.1 648.8,131.8 650.1,131.5 651.5,131.2 652.8,130.9 654.2,130.7 655.5,130.4 656.9,130.1 658.2,130.0 659.6,130.1 660.9,130.4 662.2,130.7 663.6,131.1 665.0,131.4 666.3,131.7 667.6,132.0 669.0,132.3 670.4,132.4 671.7,132.6 673.0,132.6 674.4,132.7 675.8,132.8 677.1,133.2 678.5,134.2 679.8,136.4 681.2,141.9 682.5,150.6 683.9,160.2 685.2,167.8 686.5,172.6 687.9,174.8 689.2,174.7 690.6,173.6 692.0,171.6 693.3,169.2 694.7,166.5 696.0,163.4 697.4,160.0 698.7,156.6 700.1,153.0 701.4,149.2 702.8,145.5 704.1,142.1 705.5,138.9 706.8,135.7 708.2,132.6 709.5,129.6 710.9,127.3 712.2,125.2 713.5,123.4 714.9,121.7 716.2,120.2 717.6,120.0 719.0,121.9 720.3,124.6 721.7,127.3 723.0,130.1 724.4,132.5 725.7,133.1 727.1,132.2 728.4,131.0 729.8,129.8 731.1,128.7 732.5,127.9 733.8,127.3 735.2,127.8 736.5,128.6 737.9,129.2 739.2,129.1 740.6,130.2 741.9,131.5 743.2,132.8 744.6,134.5 746.0,134.7 747.3,137.3 748.7,139.0 750.0,140.0 751.4,140.9 752.7,140.5 754.0,143.4 755.4,145.8 756.8,147.9 758.1,150.7 759.5,151.5 760.8,151.3 762.2,155.1 763.5,158.4 764.9,158.9 766.2,159.7" stroke="#dc7777"/>
<polyline points="475.9,240.1 477.3,239.1 478.6,237.9 480.0,236.7 481.4,235.6 482.7,234.3 484.1,232.6 485.4,230.8 486.8,228.9 488.1,227.0 489.4,225.0 490.8,222.8 492.1,220.5 493.5,218.1 494.9,215.6 496.2,213.2 497.6,210.7 498.9,208.3 500.2,205.6 501.6,202.8 502.9,200.1 504.3,197.7 505.6,195.5 507.0,193.2 508.4,191.0 509.7,189.0 511.1,187.3 512.4,185.9 513.8,184.7 515.1,183.6 516.5,182.7 517.8,181.9 519.1,181.1 520.5,180.3 521.9,179.6 523.2,179.0 524.5,178.4 525.9,178.0 527.2,177.5 528.6,177.1 530.0,176.7 531.3,176.3 532.6,175.9 534.0,175.6 535.4,175.3 536.7,175.0 538.0,174.7 539.4,174.4 540.8,174.2 542.1,173.9 543.5,173.6 544.8,173.3 546.1,173.0 547.5,172.7 548.9,172.5 550.2,172.2 551.5,171.9 552.9,171.7 554.2,171.4 555.6,171.2 557.0,171.0 558.3,170.7 559.6,170.5 561.0,170.2 562.4,170.0 563.7,169.7 565.0,169.2 566.4,168.6 567.8,167.9 569.1,167.1 570.5,166.3 571.8,165.4 573.1,164.4 574.5,163.3 575.9,162.2 577.2,161.0 578.5,159.8 579.9,158.5 581.2,157.2 582.6,155.9 584.0,154.6 585.3,153.2 586.7,151.8 588.0,150.4 589.4,148.9 590.7,147.6 592.0,146.3 593.4,145.1 594.8,143.9 596.1,142.7 597.5,141.7 598.8,140.7 600.2,139.8 601.5,139.1 602.9,138.6 604.2,138.1 605.6,137.8 606.9,137.4 608.2,137.1 609.6,136.9 611.0,136.6 612.3,136.4 613.7,136.6 615.0,137.8 616.4,139.7 617.7,143.0 619.0,146.6 620.4,147.6 621.8,146.8 623.1,145.8 624.5,144.8 625.8,144.0 627.1,143.4 628.5,142.8 629.9,142.2 631.2,141.7 632.5,141.2 633.9,140.7 635.2,140.3 636.6,139.9 638.0,139.5 639.3,139.3 640.7,139.1 642.0,138.9 643.4,138.8 644.7,138.6 646.1,138.4 647.4,138.2 648.8,138.1 650.1,137.9 651.5,137.7 652.8,137.5 654.2,137.4 655.5,137.2 656.9,137.0 658.2,137.0 659.6,137.2 660.9,137.6 662.2,138.0 663.6,138.4 665.0,138.8 666.3,139.2 667.6,139.5 669.0,139.8 670.4,140.0 671.7,140.1 673.0,140.2 674.4,140.2 675.8,140.1 677.1,140.2 678.5,140.8 679.8,142.6 681.2,147.6 682.5,155.7 683.9,164.9 685.2,172.1 686.5,176.6 687.9,178.7 689.2,178.5 690.6,177.2 692.0,175.1 693.3,172.6 694.7,169.9 696.0,166.6 697.4,163.3 698.7,159.8 700.1,156.2 701.4,152.6 702.8,149.0 704.1,145.8 705.5,142.8 706.8,139.9 708.2,137.0 709.5,134.4 710.9,132.4 712.2,130.8 713.5,129.4 714.9,128.0 716.2,126.9 717.6,126.8 719.0,128.6 720.3,131.1 721.7,133.6 723.0,136.2 724.4,138.4 725.7,139.0 727.1,138.2 728.4,137.0 729.8,135.9 731.1,135.0 732.5,134.2 733.8,133.8 735.2,134.2 736.5,135.1 737.9,135.5 739.2,136.6 740.6,137.3 741.9,137.7 743.2,138.5 744.6,139.8 746.0,141.3 747.3,142.9 748.7,144.9 750.0,146.8 751.4,148.1 752.7,148.7 754.0,151.5 755.4,153.9 756.8,155.6 758.1,157.6 759.5,159.6 760.8,161.1 762.2,164.1 763.5,166.9 764.9,167.7 766.2,167.1" stroke="#8daa53"/>
<polyline points="475.9,240.5 477.3,239.4 478.6,238.3 480.0,237.2 481.4,236.1 482.7,234.8 484.1,233.2 485.4,231.5 486.8,229.6 488.1,227.8 489.4,225.9 490.8,223.7 492.1,221.4 493.5,219.1 494.9,216.7 496.2,214.3 497.6,212.0 498.9,209.6 500.2,207.0 501.6,204.3 502.9,201.7 504.3,199.4 505.6,197.3 507.0,195.1 508.4,193.0 509.7,191.1 511.1,189.5 512.4,188.1 513.8,186.9 515.1,185.9 516.5,185.0 517.8,184.2 519.1,183.5 520.5,182.7 521.9,182.0 523.2,181.4 524.5,180.8 525.9,180.4 527.2,179.9 528.6,179.5 530.0,179.1 531.3,178.7 532.6,178.4 534.0,178.0 535.4,177.7 536.7,177.5 538.0,177.2 539.4,176.9 540.8,176.6 542.1,176.4 543.5,176.1 544.8,175.8 546.1,175.5 547.5,175.2 548.9,175.0 550.2,174.7 551.5,174.4 552.9,174.2 554.2,173.9 555.6,173.7 557.0,173.5 558.3,173.2 559.6,173.0 561.0,172.7 562.4,172.5 563.7,172.1 565.0,171.7 566.4,171.1 567.8,170.4 569.1,169.7 570.5,168.9 571.8,168.1 573.1,167.2 574.5,166.3 575.9,165.3 577.2,164.3 578.5,163.2 579.9,162.2 581.2,161.0 582.6,159.9 584.0,158.8 585.3,157.6 586.7,156.4 588.0,155.2 589.4,154.0 590.7,152.8 592.0,151.8 593.4,150.7 594.8,149.7 596.1,148.8 597.5,147.9 598.8,147.1 600.2,146.3 601.5,145.7 602.9,145.2 604.2,144.8 605.6,144.5 606.9,144.2 608.2,143.9 609.6,143.7 611.0,143.5 612.3,143.4 613.7,143.6 615.0,144.8 616.4,146.7 617.7,149.8 619.0,153.3 620.4,154.4 621.8,153.7 623.1,152.8 624.5,152.1 625.8,151.4 627.1,150.9 628.5,150.5 629.9,150.1 631.2,149.7 632.5,149.4 633.9,149.1 635.2,148.8 636.6,148.5 638.0,148.3 639.3,148.2 640.7,148.2 642.0,148.2 643.4,148.1 644.7,148.1 646.1,148.1 647.4,148.0 648.8,148.0 650.1,147.9 651.5,147.9 652.8,147.8 654.2,147.8 655.5,147.7 656.9,147.6 658.2,147.7 659.6,148.0 660.9,148.4 662.2,148.9 663.6,149.3 665.0,149.7 666.3,150.1 667.6,150.2 669.0,149.8 670.4,149.8 671.7,150.0 673.0,149.9 674.4,149.7 675.8,149.2 677.1,148.9 678.5,149.0 679.8,150.1 681.2,154.3 682.5,161.5 683.9,169.8 685.2,176.4 686.5,180.5 687.9,182.4 689.2,182.1 690.6,180.9 692.0,178.8 693.3,176.4 694.7,173.7 696.0,170.5 697.4,167.3 698.7,163.9 700.1,160.4 701.4,156.9 702.8,153.5 704.1,150.5 705.5,147.6 706.8,144.8 708.2,142.1 709.5,139.6 710.9,137.8 712.2,136.3 713.5,135.0 714.9,133.8 716.2,132.8 717.6,132.7 719.0,134.4 720.3,136.8 721.7,139.2 723.0,141.6 724.4,143.7 725.7,144.3 727.1,143.5 728.4,142.4 729.8,141.3 731.1,140.4 732.5,139.6 733.8,139.4 735.2,139.9 736.5,140.1 737.9,140.9 739.2,142.1 740.6,142.3 741.9,143.0 743.2,144.5 744.6,145.4 746.0,147.1 747.3,148.8 748.7,149.8 750.0,150.5 751.4,153.1 752.7,154.2 754.0,154.9 755.4,156.8 756.8,159.3 758.1,160.7 759.5,161.0 760.8,163.9 762.2,166.6 763.5,168.4 764.9,169.9 766.2,172.5" stroke="#aaaa62"/>
<polyline points="475.9,240.8 477.3,239.8 478.6,238.7 480.0,237.7 481.4,236.6 482.7,235.4 484.1,233.8 485.4,232.1 486.8,230.4 488.1,228.6 489.4,226.7 490.8,224.6 492.1,222.4 493.5,220.1 494.9,217.8 496.2,215.5 497.6,213.2 498.9,210.9 500.2,208.4 501.6,205.8 502.9,203.2 504.3,201.1 505.6,199.0 507.0,197.0 508.4,195.0 509.7,193.1 511.1,191.6 512.4,190.3 513.8,189.2 515.1,188.2 516.5,187.4 517.8,186.6 519.1,185.9 520.5,185.2 521.9,184.5 523.2,183.9 524.5,183.4 525.9,183.0 527.2,182.6 528.6,182.2 530.0,181.8 531.3,181.4 532.6,181.0 534.0,180.7 535.4,180.4 536.7,180.1 538.0,179.8 539.4,179.6 540.8,179.3 542.1,179.0 543.5,178.8 544.8,178.5 546.1,178.2 547.5,177.9 548.9,177.7 550.2,177.4 551.5,177.1 552.9,176.9 554.2,176.7 555.6,176.4 557.0,176.2 558.3,175.9 559.6,175.7 561.0,175.4 562.4,175.1 563.7,174.8 565.0,174.3 566.4,173.7 567.8,173.1 569.1,172.4 570.5,171.6 571.8,170.7 573.1,169.9 574.5,168.9 575.9,168.0 577.2,167.0 578.5,165.9 579.9,164.8 581.2,163.7 582.6,162.6 584.0,161.5 585.3,160.3 586.7,159.1 588.0,157.9 589.4,156.8 590.7,155.6 592.0,154.6 593.4,153.6 594.8,152.6 596.1,151.7 597.5,150.8 598.8,150.0 600.2,149.3 601.5,148.7 602.9,148.2 604.2,147.8 605.6,147.4 606.9,147.1 608.2,146.9 609.6,146.7 611.0,146.5 612.3,146.4 613.7,146.7 615.0,147.9 616.4,149.7 617.7,152.8 619.0,156.2 620.4,157.3 621.8,156.7 623.1,155.9 624.5,155.2 625.8,154.7 627.1,154.2 628.5,153.9 629.9,153.5 631.2,153.2 632.5,152.9 633.9,152.7 635.2,152.4 636.6,152.2 638.0,152.0 639.3,152.0 640.7,152.1 642.0,152.1 643.4,152.1 644.7,152.2 646.1,152.2 647.4,152.2 648.8,152.2 650.1,152.2 651.5,152.2 652.8,152.2 654.2,152.2 655.5,152.2 656.9,152.1 658.2,152.2 659.6,152.5 660.9,153.0 662.2,153.5 663.6,153.9 665.0,154.3 666.3,154.7 667.6,155.0 669.0,155.3 670.4,155.6 671.7,155.7 673.0,155.6 674.4,155.3 675.8,154.8 677.1,154.4 678.5,154.4 679.8,155.4 681.2,159.3 682.5,166.1 683.9,174.1 685.2,180.5 686.5,184.5 687.9,186.5 689.2,186.4 690.6,185.3 692.0,183.5 693.3,181.4 694.7,179.0 696.0,176.2 697.4,173.3 698.7,170.3 700.1,167.3 701.4,164.1 702.8,161.1 704.1,158.5 705.5,156.0 706.8,153.6 708.2,151.2 709.5,149.0 710.9,147.5 712.2,146.2 713.5,145.1 714.9,144.0 716.2,143.0 717.6,143.0 719.0,144.6 720.3,146.7 721.7,148.8 723.0,151.1 724.4,153.0 725.7,153.5 727.1,152.8 728.4,151.8 729.8,150.8 731.1,150.0 732.5,149.5 733.8,149.2 735.2,149.6 736.5,150.6 737.9,151.3 739.2,151.9 740.6,152.0 741.9,153.2 743.2,155.0 744.6,155.8 746.0,157.9 747.3,159.9 748.7,159.0 750.0,158.8 751.4,162.5 752.7,161.4 754.0,160.8 755.4,163.4 756.8,164.8 758.1,166.6 759.5,170.2 760.8,170.7 762.2,172.5 763.5,177.3 764.9,178.5 766.2,175.0" stroke="#799ad5"/>
<polyline points="475.9,241.1 477.3,240.2 478.6,239.1 480.0,238.1 481.4,237.1 482.7,236.0 484.1,234.5 485.4,232.8 486.8,231.1 488.1,229.4 489.4,227.6 490.8,225.5 492.1,223.3 493.5,221.2 494.9,218.9 496.2,216.6 497.6,214.4 498.9,212.2 500.2,209.8 501.6,207.2 502.9,204.7 504.3,202.7 505.6,200.7 507.0,198.7 508.4,196.8 509.7,195.0 511.1,193.5 512.4,192.3 513.8,191.2 515.1,190.3 516.5,189.5 517.8,188.8 519.1,188.2 520.5,187.5 521.9,186.9 523.2,186.3 524.5,185.9 525.9,185.5 527.2,185.2 528.6,184.8 530.0,184.4 531.3,184.1 532.6,183.7 534.0,183.4 535.4,183.1 536.7,182.8 538.0,182.5 539.4,182.3 540.8,182.0 542.1,181.7 543.5,181.5 544.8,181.2 546.1,180.9 547.5,180.7 548.9,180.4 550.2,180.1 551.5,179.9 552.9,179.6 554.2,179.4 555.6,179.1 557.0,178.9 558.3,178.6 559.6,178.3 561.0,178.1 562.4,177.8 563.7,177.5 565.0,177.0 566.4,176.4 567.8,175.8 569.1,175.2 570.5,174.5 571.8,173.8 573.1,173.1 574.5,172.3 575.9,171.5 577.2,170.6 578.5,169.8 579.9,168.9 581.2,168.1 582.6,167.2 584.0,166.3 585.3,165.3 586.7,164.4 588.0,163.5 589.4,162.6 590.7,161.7 592.0,160.9 593.4,160.1 594.8,159.3 596.1,158.6 597.5,157.9 598.8,157.3 600.2,156.7 601.5,156.2 602.9,155.8 604.2,155.4 605.6,155.1 606.9,154.9 608.2,154.6 609.6,154.4 611.0,154.3 612.3,154.2 613.7,154.4 615.0,155.5 616.4,157.2 617.7,160.1 619.0,163.2 620.4,164.2 621.8,163.7 623.1,163.0 624.5,162.3 625.8,161.8 627.1,161.3 628.5,161.0 629.9,160.7 631.2,160.4 632.5,160.1 633.9,159.8 635.2,159.6 636.6,159.4 638.0,159.2 639.3,159.2 640.7,159.2 642.0,159.2 643.4,159.2 644.7,159.2 646.1,159.3 647.4,159.3 648.8,159.3 650.1,159.2 651.5,159.2 652.8,159.2 654.2,159.2 655.5,159.2 656.9,159.1 658.2,159.1 659.6,159.5 660.9,159.9 662.2,160.3 663.6,160.8 665.0,161.2 666.3,161.5 667.6,161.8 669.0,162.1 670.4,162.3 671.7,162.4 673.0,162.4 674.4,162.0 675.8,161.3 677.1,160.7 678.5,160.4 679.8,161.0 681.2,164.5 682.5,170.7 683.9,178.2 685.2,184.1 686.5,188.0 687.9,189.8 689.2,189.7 690.6,188.7 692.0,186.9 693.3,184.8 694.7,182.6 696.0,179.9 697.4,177.1 698.7,174.2 700.1,171.3 701.4,168.4 702.8,165.5 704.1,163.1 705.5,160.8 706.8,158.6 708.2,156.4 709.5,154.5 710.9,153.2 712.2,152.2 713.5,151.3 714.9,150.5 716.2,149.8 717.6,149.8 719.0,151.4 720.3,153.3 721.7,155.3 723.0,157.4 724.4,159.2 725.7,159.7 727.1,159.0 728.4,158.1 729.8,157.2 731.1,156.5 732.5,155.9 733.8,155.5 735.2,155.8 736.5,156.5 737.9,156.9 739.2,157.0 740.6,157.7 741.9,158.6 743.2,159.3 744.6,160.1 746.0,161.1 747.3,162.6 748.7,163.8 750.0,165.4 751.4,166.9 752.7,167.9 754.0,169.5 755.4,171.9 756.8,173.6 758.1,175.3 759.5,177.9 760.8,178.9 762.2,179.5 763.5,181.5 764.9,183.3 766.2,184.7" stroke="#9bc662"/>
<polyline points="475.9,241.5 477.3,240.6 478.6,239.6 480.0,238.6 481.4,237.6 482.7,236.6 484.1,235.1 485.4,233.5 486.8,231.8 488.1,230.2 489.4,228.4 490.8,226.4 492.1,224.3 493.5,222.2 494.9,220.0 496.2,217.8 497.6,215.7 498.9,213.5 500.2,211.2 501.6,208.8 502.9,206.4 504.3,204.5 505.6,202.7 507.0,200.9 508.4,199.1 509.7,197.4 511.1,196.1 512.4,194.9 513.8,193.9 515.1,193.1 516.5,192.3 517.8,191.6 519.1,190.9 520.5,190.2 521.9,189.6 523.2,189.0 524.5,188.5 525.9,188.2 527.2,187.8 528.6,187.4 530.0,187.1 531.3,186.7 532.6,186.4 534.0,186.1 535.4,185.8 536.7,185.6 538.0,185.3 539.4,185.1 540.8,184.8 542.1,184.6 543.5,184.3 544.8,184.1 546.1,183.9 547.5,183.6 548.9,183.4 550.2,183.1 551.5,182.9 552.9,182.6 554.2,182.4 555.6,182.2 557.0,181.9 558.3,181.7 559.6,181.5 561.0,181.2 562.4,181.0 563.7,180.7 565.0,180.2 566.4,179.7 567.8,179.1 569.1,178.5 570.5,177.9 571.8,177.3 573.1,176.6 574.5,175.8 575.9,175.1 577.2,174.3 578.5,173.5 579.9,172.7 581.2,171.9 582.6,171.1 584.0,170.2 585.3,169.4 586.7,168.5 588.0,167.6 589.4,166.8 590.7,165.9 592.0,165.2 593.4,164.5 594.8,163.8 596.1,163.1 597.5,162.5 598.8,161.9 600.2,161.3 601.5,160.9 602.9,160.5 604.2,160.1 605.6,159.8 606.9,159.6 608.2,159.4 609.6,159.2 611.0,159.1 612.3,159.0 613.7,159.2 615.0,160.2 616.4,161.9 617.7,164.6 619.0,167.6 620.4,168.6 621.8,168.1 623.1,167.5 624.5,166.9 625.8,166.4 627.1,166.0 628.5,165.7 629.9,165.4 631.2,165.1 632.5,164.9 633.9,164.7 635.2,164.4 636.6,164.2 638.0,164.1 639.3,164.1 640.7,164.1 642.0,164.2 643.4,164.2 644.7,164.3 646.1,164.3 647.4,164.3 648.8,164.3 650.1,164.3 651.5,164.3 652.8,164.3 654.2,164.3 655.5,164.3 656.9,164.3 658.2,164.3 659.6,164.7 660.9,165.1 662.2,165.5 663.6,166.0 665.0,166.3 666.3,166.7 667.6,167.0 669.0,167.3 670.4,167.5 671.7,167.6 673.0,167.6 674.4,167.2 675.8,166.6 677.1,166.1 678.5,165.9 679.8,166.5 681.2,169.9 682.5,175.8 683.9,182.9 685.2,188.6 686.5,192.2 687.9,194.0 689.2,193.8 690.6,192.9 692.0,191.2 693.3,189.2 694.7,187.1 696.0,184.5 697.4,181.8 698.7,179.1 700.1,176.4 701.4,173.6 702.8,170.9 704.1,168.7 705.5,166.5 706.8,164.5 708.2,162.5 709.5,160.7 710.9,159.5 712.2,158.7 713.5,157.9 714.9,157.2 716.2,156.6 717.6,156.7 719.0,158.1 720.3,159.9 721.7,161.8 723.0,163.7 724.4,165.3 725.7,165.8 727.1,165.2 728.4,164.3 729.8,163.5 731.1,162.9 732.5,162.3 733.8,162.1 735.2,162.6 736.5,162.9 737.9,163.0 739.2,163.2 740.6,163.8 741.9,164.7 743.2,166.3 744.6,167.6 746.0,167.3 747.3,167.4 748.7,169.0 750.0,172.1 751.4,173.6 752.7,172.7 754.0,173.9 755.4,176.5 756.8,179.3 758.1,181.5 759.5,180.7 760.8,181.7 762.2,183.1 763.5,185.2 764.9,188.8 766.2,191.0" stroke="#628dd5"/>
<polyline points="475.9,242.3 477.3,241.4 478.6,240.5 480.0,239.6 481.4,238.7 482.7,237.7 484.1,236.4 485.4,234.8 486.8,233.3 488.1,231.8 489.4,230.2 490.8,228.3 492.1,226.3 493.5,224.3 494.9,222.3 496.2,220.3 497.6,218.3 498.9,216.3 500.2,214.2 501.6,212.0 502.9,209.8 504.3,208.2 505.6,206.6 507.0,205.0 508.4,203.4 509.7,201.9 511.1,200.8 512.4,199.8 513.8,198.9 515.1,198.1 516.5,197.3 517.8,196.6 519.1,195.9 520.5,195.2 521.9,194.5 523.2,193.9 524.5,193.4 525.9,193.0 527.2,192.6 528.6,192.3 530.0,192.0 531.3,191.7 532.6,191.5 534.0,191.3 535.4,191.1 536.7,190.9 538.0,190.7 539.4,190.5 540.8,190.4 542.1,190.2 543.5,190.0 544.8,189.8 546.1,189.6 547.5,189.5 548.9,189.3 550.2,189.1 551.5,188.9 552.9,188.8 554.2,188.6 555.6,188.4 557.0,188.3 558.3,188.1 559.6,187.9 561.0,187.2 562.4,185.5 563.7,184.8 565.0,184.4 566.4,184.0 567.8,183.5 569.1,183.0 570.5,182.4 571.8,181.8 573.1,181.2 574.5,180.6 575.9,179.9 577.2,179.2 578.5,178.5 579.9,177.7 581.2,177.0 582.6,176.2 584.0,175.4 585.3,174.6 586.7,173.8 588.0,173.0 589.4,172.2 590.7,171.5 592.0,170.8 593.4,170.1 594.8,169.5 596.1,168.8 597.5,168.3 598.8,167.7 600.2,167.2 601.5,166.8 602.9,166.4 604.2,166.1 605.6,165.8 606.9,165.5 608.2,165.3 609.6,165.2 611.0,165.0 612.3,164.9 613.7,165.1 615.0,166.1 616.4,167.6 617.7,170.1 619.0,172.9 620.4,173.8 621.8,173.4 623.1,172.7 624.5,172.2 625.8,171.7 627.1,171.3 628.5,171.0 629.9,170.7 631.2,170.4 632.5,170.1 633.9,169.8 635.2,169.6 636.6,169.4 638.0,169.2 639.3,169.1 640.7,169.1 642.0,169.1 643.4,169.2 644.7,169.2 646.1,169.2 647.4,169.1 648.8,169.1 650.1,169.1 651.5,169.1 652.8,169.0 654.2,169.0 655.5,168.9 656.9,168.9 658.2,168.9 659.6,169.2 660.9,169.6 662.2,170.0 663.6,170.4 665.0,170.8 666.3,171.1 667.6,171.4 669.0,171.6 670.4,171.9 671.7,172.0 673.0,172.0 674.4,171.7 675.8,171.3 677.1,170.9 678.5,170.9 679.8,171.6 681.2,174.9 682.5,180.7 683.9,187.6 685.2,193.0 686.5,196.5 687.9,198.2 689.2,198.0 690.6,197.1 692.0,195.5 693.3,193.6 694.7,191.6 696.0,189.1 697.4,186.6 698.7,184.1 700.1,181.5 701.4,178.9 702.8,176.5 704.1,174.5 705.5,172.6 706.8,170.8 708.2,169.0 709.5,167.5 710.9,166.7 712.2,166.1 713.5,165.7 714.9,165.3 716.2,165.0 717.6,165.2 719.0,166.5 720.3,168.1 721.7,169.8 723.0,171.6 724.4,173.1 725.7,173.5 727.1,172.9 728.4,172.1 729.8,171.4 731.1,170.8 732.5,170.3 733.8,170.2 735.2,170.1 736.5,170.6 737.9,171.4 739.2,171.7 740.6,171.8 741.9,172.4 743.2,173.2 744.6,174.2 746.0,175.5 747.3,176.6 748.7,177.4 750.0,178.3 751.4,179.5 752.7,181.1 754.0,183.2 755.4,184.7 756.8,185.5 758.1,186.9 759.5,188.5 760.8,189.9 762.2,192.3 763.5,192.7 764.9,192.3 766.2,191.7" stroke="#a0a0a0"/>
<polyline points="475.9,242.2 477.3,241.3 478.6,240.4 480.0,239.6 481.4,238.7 482.7,237.7 484.1,236.3 485.4,234.8 486.8,233.3 488.1,231.7 489.4,230.1 490.8,228.2 492.1,226.2 493.5,224.2 494.9,222.2 496.2,220.1 497.6,218.1 498.9,216.1 500.2,214.0 501.6,211.8 502.9,209.7 504.3,208.0 505.6,206.5 507.0,204.9 508.4,203.3 509.7,201.9 511.1,200.8 512.4,199.8 513.8,199.0 515.1,198.2 516.5,197.5 517.8,196.8 519.1,196.2 520.5,195.5 521.9,194.9 523.2,194.3 524.5,193.9 525.9,193.5 527.2,193.2 528.6,192.9 530.0,192.7 531.3,192.4 532.6,192.2 534.0,192.0 535.4,191.8 536.7,191.7 538.0,191.5 539.4,191.3 540.8,191.2 542.1,191.0 543.5,190.9 544.8,190.7 546.1,190.6 547.5,190.4 548.9,190.3 550.2,190.1 551.5,190.0 552.9,189.8 554.2,189.7 555.6,189.5 557.0,189.4 558.3,189.2 559.6,189.1 561.0,188.9 562.4,188.7 563.7,188.5 565.0,188.2 566.4,187.8 567.8,187.3 569.1,186.8 570.5,186.2 571.8,185.6 573.1,185.0 574.5,184.3 575.9,183.6 577.2,182.9 578.5,182.1 579.9,181.3 581.2,180.5 582.6,179.7 584.0,178.9 585.3,178.0 586.7,177.2 588.0,176.3 589.4,175.5 590.7,174.7 592.0,173.9 593.4,173.2 594.8,172.5 596.1,171.9 597.5,171.3 598.8,170.7 600.2,170.2 601.5,169.7 602.9,169.4 604.2,169.0 605.6,168.8 606.9,168.5 608.2,168.3 609.6,168.2 611.0,168.1 612.3,168.0 613.7,168.2 615.0,169.2 616.4,170.7 617.7,173.1 619.0,175.8 620.4,176.8 621.8,176.4 623.1,175.8 624.5,175.3 625.8,174.9 627.1,174.6 628.5,174.3 629.9,174.0 631.2,173.8 632.5,173.6 633.9,173.4 635.2,173.2 636.6,173.0 638.0,172.9 639.3,172.9 640.7,172.9 642.0,173.0 643.4,173.1 644.7,173.1 646.1,173.2 647.4,173.2 648.8,173.2 650.1,173.3 651.5,173.3 652.8,173.3 654.2,173.3 655.5,173.2 656.9,173.2 658.2,173.2 659.6,173.6 660.9,174.0 662.2,174.4 663.6,174.8 665.0,175.2 666.3,175.5 667.6,175.8 669.0,176.1 670.4,176.3 671.7,176.5 673.0,176.5 674.4,176.2 675.8,175.9 677.1,175.5 678.5,175.5 679.8,176.2 681.2,179.4 682.5,184.9 683.9,191.5 685.2,196.7 686.5,200.0 687.9,201.6 689.2,201.4 690.6,200.6 692.0,199.0 693.3,197.2 694.7,195.3 696.0,192.9 697.4,190.5 698.7,188.1 700.1,185.7 701.4,183.3 702.8,181.1 704.1,179.2 705.5,177.5 706.8,175.9 708.2,174.4 709.5,173.1 710.9,172.5 712.2,172.1 713.5,171.9 714.9,171.8 716.2,171.7 717.6,171.9 719.0,173.1 720.3,174.6 721.7,176.2 723.0,177.8 724.4,179.1 725.7,179.5 727.1,179.0 728.4,178.3 729.8,177.6 731.1,177.1 732.5,176.5 733.8,176.2 735.2,176.4 736.5,176.8 737.9,177.3 739.2,177.7 740.6,178.7 741.9,179.2 743.2,180.5 744.6,180.9 746.0,181.6 747.3,182.9 748.7,183.1 750.0,183.9 751.4,184.9 752.7,186.3 754.0,188.3 755.4,189.0 756.8,189.9 758.1,192.5 759.5,194.2 760.8,193.5 762.2,194.2 763.5,197.4 764.9,199.5 766.2,198.7" stroke="#6ab19b"/>
<polyline points="475.9,242.5 477.3,241.6 478.6,240.8 480.0,239.9 481.4,239.1 482.7,238.2 484.1,236.8 485.4,235.3 486.8,233.8 488.1,232.4 489.4,230.8 490.8,229.0 492.1,227.0 493.5,225.1 494.9,223.1 496.2,221.1 497.6,219.2 498.9,217.2 500.2,215.2 501.6,213.1 502.9,211.1 504.3,209.6 505.6,208.2 507.0,206.8 508.4,205.4 509.7,204.0 511.1,203.1 512.4,202.2 513.8,201.4 515.1,200.7 516.5,200.0 517.8,199.4 519.1,198.8 520.5,198.1 521.9,197.5 523.2,196.9 524.5,196.5 525.9,196.1 527.2,195.8 528.6,195.5 530.0,195.3 531.3,195.1 532.6,194.9 534.0,194.7 535.4,194.5 536.7,194.3 538.0,194.2 539.4,194.0 540.8,193.8 542.1,193.7 543.5,193.5 544.8,193.4 546.1,193.2 547.5,193.1 548.9,192.9 550.2,192.7 551.5,192.6 552.9,192.4 554.2,192.3 555.6,192.1 557.0,192.0 558.3,191.8 559.6,191.6 561.0,191.6 562.4,191.6 563.7,191.5 565.0,191.2 566.4,190.8 567.8,190.4 569.1,190.0 570.5,189.5 571.8,189.0 573.1,188.4 574.5,187.9 575.9,187.3 577.2,186.7 578.5,186.1 579.9,185.5 581.2,184.8 582.6,184.2 584.0,183.5 585.3,182.9 586.7,182.2 588.0,181.5 589.4,180.9 590.7,180.2 592.0,179.6 593.4,179.1 594.8,178.6 596.1,178.1 597.5,177.6 598.8,177.1 600.2,176.7 601.5,176.3 602.9,176.0 604.2,175.7 605.6,175.4 606.9,175.2 608.2,175.0 609.6,174.9 611.0,174.7 612.3,174.6 613.7,174.8 615.0,175.6 616.4,177.0 617.7,179.1 619.0,181.6 620.4,182.4 621.8,182.1 623.1,181.5 624.5,180.9 625.8,180.5 627.1,180.1 628.5,179.8 629.9,179.5 631.2,179.2 632.5,178.9 633.9,178.6 635.2,178.3 636.6,178.1 638.0,177.9 639.3,177.8 640.7,177.8 642.0,177.7 643.4,177.7 644.7,177.7 646.1,177.6 647.4,177.6 648.8,177.6 650.1,177.5 651.5,177.4 652.8,177.4 654.2,177.3 655.5,177.2 656.9,177.1 658.2,177.1 659.6,177.4 660.9,177.8 662.2,178.1 663.6,178.5 665.0,178.8 666.3,179.1 667.6,179.3 669.0,179.6 670.4,179.8 671.7,180.0 673.0,180.0 674.4,180.0 675.8,179.9 677.1,179.9 678.5,180.3 679.8,181.4 681.2,184.7 682.5,190.2 683.9,196.6 685.2,201.6 686.5,204.8 687.9,206.3 689.2,206.1 690.6,205.3 692.0,203.8 693.3,202.2 694.7,200.4 696.0,198.2 697.4,195.9 698.7,193.6 700.1,191.3 701.4,189.0 702.8,186.8 704.1,185.0 705.5,183.3 706.8,181.6 708.2,179.9 709.5,178.4 710.9,177.6 712.2,176.9 713.5,176.3 714.9,175.7 716.2,175.2 717.6,175.1 719.0,176.2 720.3,177.7 721.7,179.1 723.0,180.7 724.4,181.9 725.7,182.3 727.1,181.8 728.4,181.1 729.8,180.5 731.1,179.9 732.5,179.5 733.8,179.5 735.2,179.8 736.5,180.4 737.9,180.8 739.2,181.0 740.6,180.8 741.9,181.2 743.2,182.5 744.6,183.0 746.0,184.2 747.3,185.6 748.7,187.1 750.0,187.5 751.4,187.6 752.7,188.9 754.0,191.1 755.4,192.0 756.8,192.8 758.1,194.6 759.5,195.3 760.8,197.2 762.2,199.6 763.5,202.1 764.9,203.6 766.2,203.6" stroke="#e38662"/>
<polyline points="475.9,242.9 477.3,242.1 478.6,241.3 480.0,240.5 481.4,239.7 482.7,238.8 484.1,237.5 485.4,236.1 486.8,234.7 488.1,233.3 489.4,231.8 490.8,230.0 492.1,228.1 493.5,226.3 494.9,224.4 496.2,222.4 497.6,220.6 498.9,218.8 500.2,216.8 501.6,214.9 502.9,213.0 504.3,211.6 505.6,210.3 507.0,209.0 508.4,207.7 509.7,206.5 511.1,205.6 512.4,204.9 513.8,204.1 515.1,203.5 516.5,202.8 517.8,202.2 519.1,201.6 520.5,201.0 521.9,200.3 523.2,199.8 524.5,199.3 525.9,199.0 527.2,198.7 528.6,198.4 530.0,198.2 531.3,198.0 532.6,197.8 534.0,197.6 535.4,197.5 536.7,197.3 538.0,197.1 539.4,197.0 540.8,196.8 542.1,196.7 543.5,196.5 544.8,196.4 546.1,196.2 547.5,196.1 548.9,195.9 550.2,195.8 551.5,195.6 552.9,195.5 554.2,195.3 555.6,195.2 557.0,195.0 558.3,194.8 559.6,194.7 561.0,194.5 562.4,194.4 563.7,194.2 565.0,193.9 566.4,193.5 567.8,193.1 569.1,192.7 570.5,192.2 571.8,191.7 573.1,191.2 574.5,190.6 575.9,190.1 577.2,189.5 578.5,188.9 579.9,188.3 581.2,187.6 582.6,187.0 584.0,186.3 585.3,185.7 586.7,185.0 588.0,184.4 589.4,183.7 590.7,183.1 592.0,182.5 593.4,182.0 594.8,181.5 596.1,181.0 597.5,180.5 598.8,180.1 600.2,179.6 601.5,179.3 602.9,179.0 604.2,178.7 605.6,178.4 606.9,178.2 608.2,178.0 609.6,177.8 611.0,177.7 612.3,177.5 613.7,177.7 615.0,178.5 616.4,179.7 617.7,181.8 619.0,184.2 620.4,184.9 621.8,184.6 623.1,184.0 624.5,183.4 625.8,182.9 627.1,182.5 628.5,182.2 629.9,181.8 631.2,181.5 632.5,181.2 633.9,180.9 635.2,180.6 636.6,180.3 638.0,180.1 639.3,180.0 640.7,179.9 642.0,179.9 643.4,179.8 644.7,179.8 646.1,179.7 647.4,179.7 648.8,179.6 650.1,179.6 651.5,179.5 652.8,179.4 654.2,179.4 655.5,179.3 656.9,179.2 658.2,179.2 659.6,179.5 660.9,179.9 662.2,180.3 663.6,180.7 665.0,181.1 666.3,181.4 667.6,181.7 669.0,182.0 670.4,182.3 671.7,182.6 673.0,182.8 674.4,183.1 675.8,183.4 677.1,183.8 678.5,184.6 679.8,186.2 681.2,189.8 682.5,195.3 683.9,201.5 685.2,206.3 686.5,209.4 687.9,210.8 689.2,210.7 690.6,209.9 692.0,208.5 693.3,207.0 694.7,205.3 696.0,203.2 697.4,201.0 698.7,198.8 700.1,196.6 701.4,194.4 702.8,192.3 704.1,190.4 705.5,188.6 706.8,186.8 708.2,185.0 709.5,183.4 710.9,182.3 712.2,181.4 713.5,180.4 714.9,179.5 716.2,178.6 717.6,178.3 719.0,179.3 720.3,180.7 721.7,182.1 723.0,183.5 724.4,184.8 725.7,185.2 727.1,184.7 728.4,184.0 729.8,183.4 731.1,183.0 732.5,182.6 733.8,182.4 735.2,182.6 736.5,183.0 737.9,183.2 739.2,183.2 740.6,183.7 741.9,184.8 743.2,185.3 744.6,185.8 746.0,186.8 747.3,187.4 748.7,189.1 750.0,190.3 751.4,189.4 752.7,190.1 754.0,191.5 755.4,192.8 756.8,194.2 758.1,195.7 759.5,197.4 760.8,198.7 762.2,200.5 763.5,202.1 764.9,202.5 766.2,203.5" stroke="#b88d8d"/>
<polyline points="475.9,243.2 477.3,242.5 478.6,241.7 480.0,240.9 481.4,240.2 482.7,239.3 484.1,238.1 485.4,236.7 486.8,235.4 488.1,234.0 489.4,232.6 490.8,230.9 492.1,229.1 493.5,227.3 494.9,225.4 496.2,223.6 497.6,221.8 498.9,220.1 500.2,218.2 501.6,216.3 502.9,214.6 504.3,213.2 505.6,212.0 507.0,210.8 508.4,209.6 509.7,208.4 511.1,207.6 512.4,206.9 513.8,206.3 515.1,205.6 516.5,205.1 517.8,204.5 519.1,203.9 520.5,203.4 521.9,202.8 523.2,202.3 524.5,201.9 525.9,201.6 527.2,201.3 528.6,201.0 530.0,200.8 531.3,200.6 532.6,200.4 534.0,200.3 535.4,200.1 536.7,199.9 538.0,199.7 539.4,199.6 540.8,199.4 542.1,199.2 543.5,199.1 544.8,198.9 546.1,198.7 547.5,198.6 548.9,198.4 550.2,198.3 551.5,198.1 552.9,197.9 554.2,197.8 555.6,197.6 557.0,197.4 558.3,197.3 559.6,197.1 561.0,196.9 562.4,196.8 563.7,196.6 565.0,196.3 566.4,195.9 567.8,195.5 569.1,195.2 570.5,194.8 571.8,194.3 573.1,193.9 574.5,193.5 575.9,193.0 577.2,192.6 578.5,192.1 579.9,191.6 581.2,191.1 582.6,190.7 584.0,190.2 585.3,189.7 586.7,189.2 588.0,188.7 589.4,188.2 590.7,187.7 592.0,187.3 593.4,186.9 594.8,186.6 596.1,186.2 597.5,185.8 598.8,185.5 600.2,185.2 601.5,184.9 602.9,184.6 604.2,184.4 605.6,184.1 606.9,183.9 608.2,183.7 609.6,183.5 611.0,183.3 612.3,183.1 613.7,183.1 615.0,183.8 616.4,184.9 617.7,186.7 619.0,188.8 620.4,189.4 621.8,189.0 623.1,188.3 624.5,187.7 625.8,187.1 627.1,186.6 628.5,186.2 629.9,185.7 631.2,185.3 632.5,184.8 633.9,184.4 635.2,184.0 636.6,183.6 638.0,183.2 639.3,183.0 640.7,182.9 642.0,182.7 643.4,182.6 644.7,182.4 646.1,182.3 647.4,182.1 648.8,182.0 650.1,181.9 651.5,181.8 652.8,181.7 654.2,181.6 655.5,181.5 656.9,181.4 658.2,181.4 659.6,181.7 660.9,182.2 662.2,182.6 663.6,183.0 665.0,183.5 666.3,183.9 667.6,184.3 669.0,184.7 670.4,185.1 671.7,185.5 673.0,186.0 674.4,186.6 675.8,187.3 677.1,188.2 678.5,189.4 679.8,191.3 681.2,195.1 682.5,200.4 683.9,206.4 685.2,211.0 686.5,213.9 687.9,215.2 689.2,215.1 690.6,214.4 692.0,213.2 693.3,211.8 694.7,210.3 696.0,208.4 697.4,206.5 698.7,204.5 700.1,202.5 701.4,200.5 702.8,198.5 704.1,196.8 705.5,195.1 706.8,193.4 708.2,191.7 709.5,190.0 710.9,188.9 712.2,187.8 713.5,186.7 714.9,185.5 716.2,184.3 717.6,183.9 719.0,184.8 720.3,186.0 721.7,187.4 723.0,188.7 724.4,189.8 725.7,190.2 727.1,189.7 728.4,189.1 729.8,188.5 731.1,188.1 732.5,187.8 733.8,187.5 735.2,188.0 736.5,188.7 737.9,188.7 739.2,188.4 740.6,188.8 741.9,189.6 743.2,190.4 744.6,191.2 746.0,192.5 747.3,193.4 748.7,194.1 750.0,194.5 751.4,195.5 752.7,197.1 754.0,198.9 755.4,200.4 756.8,201.1 758.1,202.5 759.5,203.7 760.8,204.2 762.2,203.9 763.5,204.8 764.9,206.9 766.2,208.9" stroke="#e3b162"/>
<polyline points="475.9,243.6 477.3,242.9 478.6,242.1 480.0,241.4 481.4,240.7 482.7,239.8 484.1,238.6 485.4,237.3 486.8,236.0 488.1,234.7 489.4,233.4 490.8,231.7 492.1,230.0 493.5,228.3 494.9,226.5 496.2,224.8 497.6,223.1 498.9,221.4 500.2,219.6 501.6,217.8 502.9,216.2 504.3,214.9 505.6,213.8 507.0,212.7 508.4,211.6 509.7,210.5 511.1,209.8 512.4,209.2 513.8,208.6 515.1,208.0 516.5,207.5 517.8,206.9 519.1,206.4 520.5,205.9 521.9,205.4 523.2,204.9 524.5,204.6 525.9,204.3 527.2,204.0 528.6,203.7 530.0,203.5 531.3,203.2 532.6,203.0 534.0,202.8 535.4,202.5 536.7,202.3 538.0,202.1 539.4,201.9 540.8,201.7 542.1,201.5 543.5,201.3 544.8,201.1 546.1,200.9 547.5,200.7 548.9,200.5 550.2,200.3 551.5,200.1 552.9,199.9 554.2,199.7 555.6,199.5 557.0,199.3 558.3,199.1 559.6,198.9 561.0,198.7 562.4,198.5 563.7,198.2 565.0,197.9 566.4,197.5 567.8,197.1 569.1,196.7 570.5,196.3 571.8,195.9 573.1,195.4 574.5,195.0 575.9,194.5 577.2,194.1 578.5,193.6 579.9,193.2 581.2,192.7 582.6,192.2 584.0,191.8 585.3,191.3 586.7,190.8 588.0,190.4 589.4,189.9 590.7,189.5 592.0,189.1 593.4,188.7 594.8,188.4 596.1,188.1 597.5,187.7 598.8,187.4 600.2,187.1 601.5,186.8 602.9,186.6 604.2,186.3 605.6,186.1 606.9,185.9 608.2,185.7 609.6,185.5 611.0,185.3 612.3,185.1 613.7,185.1 615.0,185.7 616.4,186.8 617.7,188.6 619.0,190.6 620.4,191.2 621.8,190.7 623.1,190.1 624.5,189.4 625.8,188.9 627.1,188.4 628.5,187.9 629.9,187.5 631.2,187.0 632.5,186.6 633.9,186.2 635.2,185.8 636.6,185.4 638.0,185.0 639.3,184.8 640.7,184.6 642.0,184.5 643.4,184.3 644.7,184.2 646.1,184.1 647.4,184.0 648.8,183.9 650.1,183.8 651.5,183.7 652.8,183.6 654.2,183.5 655.5,183.4 656.9,183.4 658.2,183.4 659.6,183.8 660.9,184.3 662.2,184.8 663.6,185.2 665.0,185.7 666.3,186.2 667.6,186.4 669.0,185.9 670.4,186.1 671.7,186.6 673.0,187.3 674.4,188.2 675.8,189.3 677.1,190.7 678.5,192.5 679.8,194.8 681.2,198.9 682.5,204.4 683.9,210.2 685.2,214.7 686.5,217.5 687.9,218.8 689.2,218.6 690.6,218.0 692.0,216.9 693.3,215.6 694.7,214.2 696.0,212.5 697.4,210.6 698.7,208.7 700.1,206.8 701.4,204.8 702.8,202.9 704.1,201.1 705.5,199.3 706.8,197.5 708.2,195.5 709.5,193.7 710.9,192.1 712.2,190.6 713.5,189.0 714.9,187.3 716.2,185.6 717.6,184.8 719.0,185.6 720.3,186.8 721.7,188.1 723.0,189.4 724.4,190.6 725.7,190.9 727.1,190.5 728.4,189.8 729.8,189.3 731.1,188.8 732.5,188.5 733.8,188.2 735.2,188.4 736.5,188.9 737.9,189.2 739.2,189.6 740.6,190.3 741.9,190.8 743.2,191.3 744.6,192.2 746.0,193.2 747.3,193.7 748.7,193.7 750.0,194.4 751.4,195.5 752.7,196.4 754.0,198.6 755.4,200.4 756.8,201.0 758.1,201.9 759.5,203.7 760.8,206.1 762.2,208.0 763.5,209.1 764.9,209.2 766.2,209.6" stroke="#53b1aa"/>
<polyline points="475.9,243.8 477.3,243.1 478.6,242.3 480.0,241.6 481.4,240.9 482.7,240.1 484.1,239.0 485.4,237.7 486.8,236.4 488.1,235.2 489.4,233.8 490.8,232.3 492.1,230.6 493.5,228.9 494.9,227.2 496.2,225.5 497.6,223.9 498.9,222.3 500.2,220.6 501.6,219.0 502.9,217.4 504.3,216.3 505.6,215.4 507.0,214.4 508.4,213.4 509.7,212.5 511.1,211.9 512.4,211.4 513.8,210.9 515.1,210.4 516.5,209.9 517.8,209.4 519.1,208.9 520.5,208.3 521.9,207.7 523.2,207.2 524.5,206.8 525.9,206.4 527.2,206.0 528.6,205.7 530.0,205.4 531.3,205.2 532.6,204.9 534.0,204.7 535.4,204.4 536.7,204.2 538.0,203.9 539.4,203.7 540.8,203.5 542.1,203.3 543.5,203.1 544.8,202.9 546.1,202.7 547.5,202.5 548.9,202.3 550.2,202.1 551.5,201.9 552.9,201.7 554.2,201.5 555.6,201.3 557.0,201.1 558.3,200.9 559.6,200.7 561.0,200.7 562.4,201.0 563.7,200.9 565.0,200.6 566.4,200.3 567.8,199.9 569.1,199.6 570.5,199.3 571.8,198.9 573.1,198.6 574.5,198.3 575.9,198.0 577.2,197.6 578.5,197.3 579.9,197.0 581.2,196.6 582.6,196.3 584.0,196.0 585.3,195.6 586.7,195.3 588.0,195.0 589.4,194.7 590.7,194.4 592.0,194.1 593.4,193.9 594.8,193.6 596.1,193.4 597.5,193.1 598.8,192.9 600.2,192.7 601.5,192.5 602.9,192.2 604.2,192.0 605.6,191.8 606.9,191.6 608.2,191.4 609.6,191.2 611.0,191.0 612.3,190.8 613.7,190.8 615.0,191.4 616.4,192.3 617.7,193.9 619.0,195.7 620.4,196.3 621.8,195.8 623.1,195.1 624.5,194.5 625.8,194.0 627.1,193.5 628.5,193.0 629.9,192.6 631.2,192.1 632.5,191.6 633.9,191.2 635.2,190.8 636.6,190.3 638.0,190.0 639.3,189.7 640.7,189.5 642.0,189.3 643.4,189.1 644.7,188.9 646.1,188.7 647.4,188.5 648.8,188.4 650.1,188.2 651.5,188.0 652.8,187.9 654.2,187.8 655.5,187.6 656.9,187.5 658.2,187.5 659.6,187.7 660.9,188.1 662.2,188.5 663.6,188.9 665.0,189.3 666.3,189.7 667.6,190.1 669.0,190.5 670.4,190.9 671.7,191.3 673.0,192.0 674.4,193.0 675.8,194.3 677.1,195.9 678.5,197.9 679.8,200.5 681.2,204.6 682.5,209.8 683.9,215.2 685.2,219.3 686.5,221.9 687.9,223.1 689.2,223.0 690.6,222.4 692.0,221.4 693.3,220.3 694.7,219.0 696.0,217.5 697.4,215.8 698.7,214.1 700.1,212.4 701.4,210.5 702.8,208.7 704.1,207.0 705.5,205.2 706.8,203.4 708.2,201.4 709.5,199.5 710.9,197.8 712.2,196.1 713.5,194.2 714.9,192.1 716.2,190.1 717.6,189.1 719.0,189.8 720.3,191.0 721.7,192.2 723.0,193.4 724.4,194.5 725.7,194.8 727.1,194.4 728.4,193.8 729.8,193.3 731.1,192.9 732.5,192.5 733.8,192.3 735.2,192.6 736.5,192.6 737.9,193.3 739.2,193.9 740.6,194.5 741.9,195.0 743.2,195.3 744.6,195.3 746.0,196.0 747.3,197.6 748.7,197.9 750.0,198.7 751.4,199.9 752.7,200.7 754.0,200.9 755.4,201.3 756.8,203.6 758.1,206.2 759.5,207.6 760.8,208.9 762.2,209.6 763.5,209.2 764.9,208.9 766.2,209.7" stroke="#ea9477"/>
<polyline points="475.9,243.0 477.3,242.2 478.6,241.2 480.0,240.2 481.4,239.3 482.7,238.3 484.1,237.3 485.4,236.3 486.8,235.3 488.1,234.3 489.4,233.2 490.8,231.8 492.1,230.3 493.5,228.9 494.9,227.4 496.2,225.9 497.6,224.4 498.9,222.9 500.2,221.4 501.6,220.0 502.9,218.6 504.3,217.5 505.6,216.5 507.0,215.5 508.4,214.5 509.7,213.7 511.1,213.2 512.4,212.8 513.8,212.4 515.1,212.0 516.5,211.7 517.8,211.3 519.1,210.9 520.5,210.6 521.9,210.2 523.2,209.9 524.5,209.6 525.9,209.4 527.2,209.2 528.6,209.0 530.0,208.8 531.3,208.6 532.6,208.4 534.0,208.2 535.4,208.0 536.7,207.9 538.0,207.7 539.4,207.5 540.8,207.4 542.1,207.3 543.5,207.1 544.8,207.0 546.1,206.8 547.5,206.7 548.9,206.5 550.2,206.4 551.5,206.2 552.9,206.1 554.2,205.9 555.6,205.8 557.0,205.6 558.3,205.5 559.6,205.3 561.0,205.2 562.4,205.0 563.7,204.9 565.0,204.7 566.4,204.5 567.8,204.3 569.1,204.1 570.5,203.9 571.8,203.7 573.1,203.5 574.5,203.4 575.9,203.2 577.2,203.0 578.5,202.8 579.9,202.6 581.2,202.4 582.6,202.2 584.0,202.0 585.3,201.8 586.7,201.6 588.0,201.5 589.4,201.3 590.7,201.1 592.0,201.0 593.4,201.0 594.8,200.9 596.1,200.8 597.5,200.7 598.8,200.6 600.2,200.6 601.5,200.5 602.9,200.4 604.2,200.3 605.6,200.2 606.9,200.2 608.2,200.1 609.6,200.0 611.0,200.1 612.3,200.8 613.7,201.6 615.0,202.7 616.4,204.7 617.7,207.0 619.0,209.2 620.4,211.5 621.8,213.8 623.1,215.6 624.5,215.9 625.8,215.1 627.1,214.1 628.5,213.1 629.9,212.1 631.2,211.1 632.5,210.1 633.9,209.1 635.2,208.2 636.6,207.2 638.0,206.2 639.3,205.3 640.7,204.3 642.0,203.3 643.4,202.4 644.7,201.6 646.1,200.8 647.4,199.9 648.8,199.1 650.1,198.3 651.5,197.6 652.8,197.1 654.2,196.8 655.5,196.5 656.9,196.2 658.2,195.9 659.6,195.8 660.9,195.9 662.2,195.9 663.6,196.0 665.0,196.1 666.3,196.2 667.6,196.3 669.0,196.4 670.4,196.7 671.7,197.1 673.0,197.7 674.4,198.3 675.8,198.8 677.1,199.4 678.5,200.5 679.8,203.4 681.2,207.3 682.5,213.0 683.9,220.5 685.2,227.7 686.5,233.0 687.9,236.1 689.2,236.4 690.6,235.5 692.0,233.7 693.3,231.7 694.7,229.6 696.0,227.6 697.4,225.6 698.7,223.6 700.1,221.6 701.4,219.6 702.8,217.6 704.1,215.5 705.5,213.7 706.8,212.4 708.2,211.3 709.5,210.2 710.9,209.1 712.2,208.0 713.5,206.9 714.9,205.8 716.2,204.7 717.6,204.0 719.0,204.3 720.3,204.9 721.7,205.5 723.0,206.1 724.4,206.7 725.7,207.3 727.1,207.7 728.4,208.1 729.8,208.4 731.1,208.7 732.5,209.2 733.8,209.8 735.2,210.0 736.5,210.2 737.9,211.5 739.2,212.8 740.6,213.6 741.9,213.5 743.2,213.2 744.6,214.2 746.0,215.6 747.3,216.8 748.7,217.3 750.0,218.4 751.4,220.0 752.7,220.9 754.0,221.7 755.4,222.0 756.8,225.4 758.1,225.5 759.5,226.8 760.8,227.6 762.2,229.2 763.5,230.0 764.9,230.8 766.2,231.6" stroke="#f2945a"/>
<polyline points="475.9,244.2 477.3,243.6 478.6,242.9 480.0,242.2 481.4,241.4 482.7,240.7 484.1,239.8 485.4,239.0 486.8,238.1 488.1,237.2 489.4,236.3 490.8,235.1 492.1,233.9 493.5,232.6 494.9,231.4 496.2,230.1 497.6,228.8 498.9,227.5 500.2,226.2 501.6,224.8 502.9,223.5 504.3,222.4 505.6,221.3 507.0,220.2 508.4,219.3 509.7,218.6 511.1,218.1 512.4,217.6 513.8,217.2 515.1,216.8 516.5,216.4 517.8,215.9 519.1,215.5 520.5,215.2 521.9,214.9 523.2,214.6 524.5,214.3 525.9,214.1 527.2,213.8 528.6,213.6 530.0,213.4 531.3,213.1 532.6,212.9 534.0,212.7 535.4,212.4 536.7,212.2 538.0,212.0 539.4,211.9 540.8,211.7 542.1,211.6 543.5,211.5 544.8,211.4 546.1,211.3 547.5,211.2 548.9,211.1 550.2,211.0 551.5,210.8 552.9,210.7 554.2,210.6 555.6,210.5 557.0,210.4 558.3,210.3 559.6,210.2 561.0,210.0 562.4,209.9 563.7,209.8 565.0,209.6 566.4,209.4 567.8,209.2 569.1,209.0 570.5,208.8 571.8,208.6 573.1,208.4 574.5,208.2 575.9,208.0 577.2,207.8 578.5,207.6 579.9,207.4 581.2,207.2 582.6,207.0 584.0,206.8 585.3,206.6 586.7,206.4 588.0,206.2 589.4,206.0 590.7,205.9 592.0,205.7 593.4,205.6 594.8,205.4 596.1,205.3 597.5,205.1 598.8,205.0 600.2,204.9 601.5,204.9 602.9,204.8 604.2,204.8 605.6,204.8 606.9,204.8 608.2,204.8 609.6,204.8 611.0,205.0 612.3,205.8 613.7,206.7 615.0,207.8 616.4,209.5 617.7,211.7 619.0,214.1 620.4,216.4 621.8,218.8 623.1,220.7 624.5,221.1 625.8,220.5 627.1,219.6 628.5,218.8 629.9,217.9 631.2,217.0 632.5,216.0 633.9,215.0 635.2,214.0 636.6,212.9 638.0,211.9 639.3,211.0 640.7,210.1 642.0,209.3 643.4,208.5 644.7,207.7 646.1,207.0 647.4,206.2 648.8,205.4 650.1,204.7 651.5,204.0 652.8,203.5 654.2,203.1 655.5,202.7 656.9,202.3 658.2,202.0 659.6,201.9 660.9,202.1 662.2,202.4 663.6,202.7 665.0,203.0 666.3,203.3 667.6,203.6 669.0,203.9 670.4,204.2 671.7,204.5 673.0,204.8 674.4,205.2 675.8,206.0 677.1,207.0 678.5,208.2 679.8,210.5 681.2,214.0 682.5,218.9 683.9,225.2 685.2,231.4 686.5,235.7 687.9,238.2 689.2,238.6 690.6,237.9 692.0,236.5 693.3,234.9 694.7,233.2 696.0,231.5 697.4,229.8 698.7,228.1 700.1,226.4 701.4,224.7 702.8,223.0 704.1,221.3 705.5,219.7 706.8,218.6 708.2,217.6 709.5,216.6 710.9,215.6 712.2,214.6 713.5,213.6 714.9,212.6 716.2,211.6 717.6,210.9 719.0,211.2 720.3,211.7 721.7,212.3 723.0,212.9 724.4,213.4 725.7,213.9 727.1,214.3 728.4,214.7 729.8,215.0 731.1,215.4 732.5,215.9 733.8,216.4 735.2,216.5 736.5,216.7 737.9,217.1 739.2,217.7 740.6,218.3 741.9,217.7 743.2,219.2 744.6,220.8 746.0,221.8 747.3,222.2 748.7,222.6 750.0,225.2 751.4,224.7 752.7,225.4 754.0,226.0 755.4,226.1 756.8,227.9 758.1,230.1 759.5,229.7 760.8,228.8 762.2,230.5 763.5,232.8 764.9,234.4 766.2,234.6" stroke="#f28d8d"/>
<polyline points="475.9,245.6 477.3,245.2 478.6,244.7 480.0,244.2 481.4,243.7 482.7,243.2 484.1,242.5 485.4,241.7 486.8,241.0 488.1,240.2 489.4,239.4 490.8,238.5 492.1,237.5 493.5,236.5 494.9,235.5 496.2,234.5 497.6,233.4 498.9,232.3 500.2,231.1 501.6,229.9 502.9,228.8 504.3,227.6 505.6,226.4 507.0,225.3 508.4,224.5 509.7,224.0 511.1,223.5 512.4,223.0 513.8,222.5 515.1,222.1 516.5,221.6 517.8,221.1 519.1,220.7 520.5,220.4 521.9,220.2 523.2,219.9 524.5,219.6 525.9,219.4 527.2,219.1 528.6,218.8 530.0,218.6 531.3,218.3 532.6,218.0 534.0,217.8 535.4,217.5 536.7,217.3 538.0,217.0 539.4,216.9 540.8,216.8 542.1,216.8 543.5,216.7 544.8,216.6 546.1,216.5 547.5,216.4 548.9,216.4 550.2,216.3 551.5,216.2 552.9,216.1 554.2,216.1 555.6,216.0 557.0,215.9 558.3,215.8 559.6,215.7 561.0,215.7 562.4,215.6 563.7,215.5 565.0,215.3 566.4,215.1 567.8,214.9 569.1,214.7 570.5,214.5 571.8,214.3 573.1,214.1 574.5,213.9 575.9,213.7 577.2,213.5 578.5,213.3 579.9,213.1 581.2,212.9 582.6,212.7 584.0,212.5 585.3,212.3 586.7,212.1 588.0,211.9 589.4,211.7 590.7,211.5 592.0,211.3 593.4,211.1 594.8,210.9 596.1,210.7 597.5,210.5 598.8,210.3 600.2,210.1 601.5,210.1 602.9,210.2 604.2,210.3 605.6,210.3 606.9,210.4 608.2,210.4 609.6,210.5 611.0,210.8 612.3,211.6 613.7,212.7 615.0,213.7 616.4,215.0 617.7,217.1 619.0,219.5 620.4,221.9 621.8,224.3 623.1,226.2 624.5,226.7 625.8,226.2 627.1,225.5 628.5,224.8 629.9,224.1 631.2,223.4 632.5,222.4 633.9,221.3 635.2,220.3 636.6,219.2 638.0,218.2 639.3,217.3 640.7,216.6 642.0,215.9 643.4,215.2 644.7,214.5 646.1,213.8 647.4,213.1 648.8,212.5 650.1,211.8 651.5,211.1 652.8,210.6 654.2,210.2 655.5,209.7 656.9,209.3 658.2,208.9 659.6,208.9 660.9,209.2 662.2,209.7 663.6,210.1 665.0,210.6 666.3,211.0 667.6,211.5 669.0,211.9 670.4,212.3 671.7,212.4 673.0,212.5 674.4,212.8 675.8,213.8 677.1,215.1 678.5,216.3 679.8,218.0 681.2,221.1 682.5,225.0 683.9,230.2 685.2,235.3 686.5,238.7 687.9,240.5 689.2,241.0 690.6,240.5 692.0,239.4 693.3,238.2 694.7,236.9 696.0,235.5 697.4,234.1 698.7,232.8 700.1,231.4 701.4,230.0 702.8,228.6 704.1,227.3 705.5,226.0 706.8,225.0 708.2,224.1 709.5,223.3 710.9,222.4 712.2,221.5 713.5,220.6 714.9,219.7 716.2,218.9 717.6,218.3 719.0,218.5 720.3,219.0 721.7,219.5 723.0,220.0 724.4,220.5 725.7,220.9 727.1,221.3 728.4,221.6 729.8,221.9 731.1,222.3 732.5,222.6 733.8,223.0 735.2,223.4 736.5,223.6 737.9,223.6 739.2,224.4 740.6,224.3 741.9,224.4 743.2,225.7 744.6,226.7 746.0,226.4 747.3,226.0 748.7,227.4 750.0,228.8 751.4,229.6 752.7,231.2 754.0,233.2 755.4,232.7 756.8,232.2 758.1,233.5 759.5,236.7 760.8,238.9 762.2,237.3 763.5,237.9 764.9,238.6 766.2,239.0" stroke="#9bd562"/>
<polyline points="475.9,245.5 477.3,244.9 478.6,244.2 480.0,243.5 481.4,242.7 482.7,242.0 484.1,241.2 485.4,240.5 486.8,239.7 488.1,239.0 489.4,238.2 490.8,237.4 492.1,236.5 493.5,235.7 494.9,234.9 496.2,234.4 497.6,234.2 498.9,234.1 500.2,234.0 501.6,233.9 502.9,233.8 504.3,233.7 505.6,233.6 507.0,233.5 508.4,233.4 509.7,233.3 511.1,233.3 512.4,233.2 513.8,233.2 515.1,233.1 516.5,233.1 517.8,233.1 519.1,233.0 520.5,233.0 521.9,232.9 523.2,232.9 524.5,232.8 525.9,232.8 527.2,232.8 528.6,232.7 530.0,232.7 531.3,232.6 532.6,232.6 534.0,232.5 535.4,232.5 536.7,232.5 538.0,232.4 539.4,232.4 540.8,232.3 542.1,232.3 543.5,232.2 544.8,232.2 546.1,232.1 547.5,232.1 548.9,232.1 550.2,232.0 551.5,232.0 552.9,231.9 554.2,231.9 555.6,231.8 557.0,231.8 558.3,231.8 559.6,231.7 561.0,231.7 562.4,231.6 563.7,231.6 565.0,231.5 566.4,231.4 567.8,231.3 569.1,231.2 570.5,231.1 571.8,231.0 573.1,230.9 574.5,230.8 575.9,230.8 577.2,230.7 578.5,230.6 579.9,230.5 581.2,230.4 582.6,230.3 584.0,230.2 585.3,230.1 586.7,230.0 588.0,229.9 589.4,229.8 590.7,229.7 592.0,229.7 593.4,229.6 594.8,229.5 596.1,229.4 597.5,229.3 598.8,229.2 600.2,229.1 601.5,229.2 602.9,229.3 604.2,229.3 605.6,229.4 606.9,229.5 608.2,229.5 609.6,229.6 611.0,229.7 612.3,229.7 613.7,229.8 615.0,230.0 616.4,230.7 617.7,231.5 619.0,232.3 620.4,233.2 621.8,234.0 623.1,234.6 624.5,234.6 625.8,234.3 627.1,234.1 628.5,233.8 629.9,233.6 631.2,233.3 632.5,233.1 633.9,232.8 635.2,232.6 636.6,232.3 638.0,232.1 639.3,231.8 640.7,231.6 642.0,231.3 643.4,231.1 644.7,230.8 646.1,230.6 647.4,230.4 648.8,230.1 650.1,229.9 651.5,229.6 652.8,229.4 654.2,229.1 655.5,228.9 656.9,228.7 658.2,228.4 659.6,228.2 660.9,227.9 662.2,227.7 663.6,227.5 665.0,227.2 666.3,227.0 667.6,226.7 669.0,226.5 670.4,226.2 671.7,226.0 673.0,225.8 674.4,225.5 675.8,225.3 677.1,225.2 678.5,225.9 679.8,227.5 681.2,229.1 682.5,231.3 683.9,235.0 685.2,239.3 686.5,242.5 687.9,242.8 689.2,242.1 690.6,241.4 692.0,240.8 693.3,240.2 694.7,239.7 696.0,239.3 697.4,238.8 698.7,238.3 700.1,237.8 701.4,237.3 702.8,236.8 704.1,236.3 705.5,235.8 706.8,235.3 708.2,234.8 709.5,234.3 710.9,233.8 712.2,233.4 713.5,233.4 714.9,233.4 716.2,233.5 717.6,233.6 719.0,233.6 720.3,233.7 721.7,233.7 723.0,233.8 724.4,233.9 725.7,233.9 727.1,234.0 728.4,234.1 729.8,234.1 731.1,234.2 732.5,234.2 733.8,234.3 735.2,234.4 736.5,234.4 737.9,234.5 739.2,234.6 740.6,234.9 741.9,235.2 743.2,235.5 744.6,235.8 746.0,236.1 747.3,236.4 748.7,236.7 750.0,237.0 751.4,237.3 752.7,237.6 754.0,238.0 755.4,238.3 756.8,238.6 758.1,238.9 759.5,239.2 760.8,239.5 762.2,239.8 763.5,240.1 764.9,240.4 766.2,240.7" stroke="#cec68d"/></g>
<rect x="40.30" y="5.80" width="334.40" height="268.80" fill="none" stroke="#444" stroke-width="1.6"/>
<line x1="40.30" y1="250.20" x2="45.80" y2="250.20" stroke="#333" stroke-width="1.4"/>
<text transform="translate(34.30,254.30) scale(1,1.08)" text-anchor="end" font-size="11.5" style="stroke:#111;stroke-width:0.15">0.0</text>
<line x1="40.30" y1="201.32" x2="45.80" y2="201.32" stroke="#333" stroke-width="1.4"/>
<text transform="translate(34.30,205.42) scale(1,1.08)" text-anchor="end" font-size="11.5" style="stroke:#111;stroke-width:0.15">0.2</text>
<line x1="40.30" y1="152.44" x2="45.80" y2="152.44" stroke="#333" stroke-width="1.4"/>
<text transform="translate(34.30,156.54) scale(1,1.08)" text-anchor="end" font-size="11.5" style="stroke:#111;stroke-width:0.15">0.4</text>
<line x1="40.30" y1="103.56" x2="45.80" y2="103.56" stroke="#333" stroke-width="1.4"/>
<text transform="translate(34.30,107.66) scale(1,1.08)" text-anchor="end" font-size="11.5" style="stroke:#111;stroke-width:0.15">0.6</text>
<line x1="40.30" y1="54.68" x2="45.80" y2="54.68" stroke="#333" stroke-width="1.4"/>
<text transform="translate(34.30,58.78) scale(1,1.08)" text-anchor="end" font-size="11.5" style="stroke:#111;stroke-width:0.15">0.8</text>
<text transform="translate(34.30,9.90) scale(1,1.08)" text-anchor="end" font-size="11.5" style="stroke:#111;stroke-width:0.15">1.0</text>
<text transform="translate(40.30,289.60) scale(1,1.08)" text-anchor="middle" font-size="11.5" style="stroke:#111;stroke-width:0.15">0</text>
<line x1="107.18" y1="274.60" x2="107.18" y2="270.60" stroke="#333" stroke-width="1.2"/>
<text transform="translate(107.18,289.60) scale(1,1.08)" text-anchor="middle" font-size="11.5" style="stroke:#111;stroke-width:0.15">500</text>
<line x1="174.06" y1="274.60" x2="174.06" y2="270.60" stroke="#333" stroke-width="1.2"/>
<text transform="translate(174.06,289.60) scale(1,1.08)" text-anchor="middle" font-size="11.5" style="stroke:#111;stroke-width:0.15">1000</text>
<line x1="240.94" y1="274.60" x2="240.94" y2="270.60" stroke="#333" stroke-width="1.2"/>
<text transform="translate(240.94,289.60) scale(1,1.08)" text-anchor="middle" font-size="11.5" style="stroke:#111;stroke-width:0.15">1500</text>
<line x1="307.82" y1="274.60" x2="307.82" y2="270.60" stroke="#333" stroke-width="1.2"/>
<text transform="translate(307.82,289.60) scale(1,1.08)" text-anchor="middle" font-size="11.5" style="stroke:#111;stroke-width:0.15">2000</text>
<text transform="translate(374.70,289.60) scale(1,1.08)" text-anchor="middle" font-size="11.5" style="stroke:#111;stroke-width:0.15">2500</text>
<text x="207.50" y="308.20" text-anchor="middle" font-size="15.2" style="stroke:#111;stroke-width:0.25">Wavelength/nm</text>
<text transform="translate(13.30,145.80) rotate(-90)" text-anchor="middle" font-size="15.2" style="stroke:#111;stroke-width:0.25">Spectral reflectance</text>
<rect x="428.70" y="5.80" width="337.50" height="272.00" fill="none" stroke="#444" stroke-width="1.6"/>
<line x1="428.70" y1="253.10" x2="434.20" y2="253.10" stroke="#333" stroke-width="1.4"/>
<text transform="translate(422.70,257.20) scale(1,1.08)" text-anchor="end" font-size="11.5" style="stroke:#111;stroke-width:0.15">0.0</text>
<line x1="428.70" y1="203.64" x2="434.20" y2="203.64" stroke="#333" stroke-width="1.4"/>
<text transform="translate(422.70,207.74) scale(1,1.08)" text-anchor="end" font-size="11.5" style="stroke:#111;stroke-width:0.15">0.2</text>
<line x1="428.70" y1="154.18" x2="434.20" y2="154.18" stroke="#333" stroke-width="1.4"/>
<text transform="translate(422.70,158.28) scale(1,1.08)" text-anchor="end" font-size="11.5" style="stroke:#111;stroke-width:0.15">0.4</text>
<line x1="428.70" y1="104.72" x2="434.20" y2="104.72" stroke="#333" stroke-width="1.4"/>
<text transform="translate(422.70,108.82) scale(1,1.08)" text-anchor="end" font-size="11.5" style="stroke:#111;stroke-width:0.15">0.6</text>
<line x1="428.70" y1="55.26" x2="434.20" y2="55.26" stroke="#333" stroke-width="1.4"/>
<text transform="translate(422.70,59.36) scale(1,1.08)" text-anchor="end" font-size="11.5" style="stroke:#111;stroke-width:0.15">0.8</text>
<text transform="translate(422.70,9.90) scale(1,1.08)" text-anchor="end" font-size="11.5" style="stroke:#111;stroke-width:0.15">1.0</text>
<text transform="translate(428.70,292.30) scale(1,1.08)" text-anchor="middle" font-size="11.5" style="stroke:#111;stroke-width:0.15">0</text>
<line x1="496.20" y1="277.80" x2="496.20" y2="273.80" stroke="#333" stroke-width="1.2"/>
<text transform="translate(496.20,292.30) scale(1,1.08)" text-anchor="middle" font-size="11.5" style="stroke:#111;stroke-width:0.15">500</text>
<line x1="563.70" y1="277.80" x2="563.70" y2="273.80" stroke="#333" stroke-width="1.2"/>
<text transform="translate(563.70,292.30) scale(1,1.08)" text-anchor="middle" font-size="11.5" style="stroke:#111;stroke-width:0.15">1000</text>
<line x1="631.20" y1="277.80" x2="631.20" y2="273.80" stroke="#333" stroke-width="1.2"/>
<text transform="translate(631.20,292.30) scale(1,1.08)" text-anchor="middle" font-size="11.5" style="stroke:#111;stroke-width:0.15">1500</text>
<line x1="698.70" y1="277.80" x2="698.70" y2="273.80" stroke="#333" stroke-width="1.2"/>
<text transform="translate(698.70,292.30) scale(1,1.08)" text-anchor="middle" font-size="11.5" style="stroke:#111;stroke-width:0.15">2000</text>
<text transform="translate(766.20,292.30) scale(1,1.08)" text-anchor="middle" font-size="11.5" style="stroke:#111;stroke-width:0.15">2500</text>
<text x="597.50" y="308.20" text-anchor="middle" font-size="15.2" style="stroke:#111;stroke-width:0.25">Wavelength/nm</text>
<text transform="translate(403.20,141.60) rotate(-90)" text-anchor="middle" font-size="15.2" style="stroke:#111;stroke-width:0.25">Spectral reflectance</text>
<text transform="translate(44.50,14.58) scale(1,1.0)" font-size="6.3">Loessial soil (g/kg)</text>
<line x1="43.20" y1="20.45" x2="56.00" y2="20.45" stroke="#a8a8a8" stroke-width="0.8"/>
<text transform="translate(57.40,22.74) scale(1,1.1)" font-size="6.3">23.942</text>
<line x1="75.35" y1="20.45" x2="88.15" y2="20.45" stroke="#f29090" stroke-width="0.8"/>
<text transform="translate(89.55,22.74) scale(1,1.1)" font-size="6.3">21.077</text>
<line x1="107.50" y1="20.45" x2="120.30" y2="20.45" stroke="#88acd8" stroke-width="0.8"/>
<text transform="translate(121.70,22.74) scale(1,1.1)" font-size="6.3">24.668</text>
<line x1="139.65" y1="20.45" x2="152.45" y2="20.45" stroke="#74c8a4" stroke-width="0.8"/>
<text transform="translate(153.85,22.74) scale(1,1.1)" font-size="6.3">26.385</text>
<line x1="171.80" y1="20.45" x2="184.60" y2="20.45" stroke="#d4b0ee" stroke-width="0.8"/>
<text transform="translate(186.00,22.74) scale(1,1.1)" font-size="6.3">22.706</text>
<line x1="203.95" y1="20.45" x2="216.75" y2="20.45" stroke="#e6c27a" stroke-width="0.8"/>
<text transform="translate(218.15,22.74) scale(1,1.1)" font-size="6.3">23.889</text>
<line x1="236.10" y1="20.45" x2="248.90" y2="20.45" stroke="#7cd8e0" stroke-width="0.8"/>
<text transform="translate(250.30,22.74) scale(1,1.1)" font-size="6.3">27.184</text>
<line x1="268.25" y1="20.45" x2="281.05" y2="20.45" stroke="#bca4a4" stroke-width="0.8"/>
<text transform="translate(282.45,22.74) scale(1,1.1)" font-size="6.3">26.733</text>
<line x1="43.20" y1="28.44" x2="56.00" y2="28.44" stroke="#b2b45a" stroke-width="0.8"/>
<text transform="translate(57.40,30.73) scale(1,1.1)" font-size="6.3">26.584</text>
<line x1="75.35" y1="28.44" x2="88.15" y2="28.44" stroke="#f28c4c" stroke-width="0.8"/>
<text transform="translate(89.55,30.73) scale(1,1.1)" font-size="6.3">24.915</text>
<line x1="107.50" y1="28.44" x2="120.30" y2="28.44" stroke="#6f96dc" stroke-width="0.8"/>
<text transform="translate(121.70,30.73) scale(1,1.1)" font-size="6.3">23.229</text>
<line x1="139.65" y1="28.44" x2="152.45" y2="28.44" stroke="#92d056" stroke-width="0.8"/>
<text transform="translate(153.85,30.73) scale(1,1.1)" font-size="6.3">27.512</text>
<line x1="171.80" y1="28.44" x2="184.60" y2="28.44" stroke="#747474" stroke-width="0.8"/>
<text transform="translate(186.00,30.73) scale(1,1.1)" font-size="6.3">22.618</text>
<line x1="203.95" y1="28.44" x2="216.75" y2="28.44" stroke="#ee6a6a" stroke-width="0.8"/>
<text transform="translate(218.15,30.73) scale(1,1.1)" font-size="6.3">23.683</text>
<line x1="236.10" y1="28.44" x2="248.90" y2="28.44" stroke="#5a88dc" stroke-width="0.8"/>
<text transform="translate(250.30,30.73) scale(1,1.1)" font-size="6.3">23.050</text>
<line x1="268.25" y1="28.44" x2="281.05" y2="28.44" stroke="#5cbc94" stroke-width="0.8"/>
<text transform="translate(282.45,30.73) scale(1,1.1)" font-size="6.3">22.525</text>
<line x1="43.20" y1="36.43" x2="56.00" y2="36.43" stroke="#cdaaf0" stroke-width="0.8"/>
<text transform="translate(57.40,38.72) scale(1,1.1)" font-size="6.3">24.955</text>
<line x1="75.35" y1="36.43" x2="88.15" y2="36.43" stroke="#e4b86c" stroke-width="0.8"/>
<text transform="translate(89.55,38.72) scale(1,1.1)" font-size="6.3">22.605</text>
<line x1="107.50" y1="36.43" x2="120.30" y2="36.43" stroke="#5ed2d8" stroke-width="0.8"/>
<text transform="translate(121.70,38.72) scale(1,1.1)" font-size="6.3">26.271</text>
<line x1="139.65" y1="36.43" x2="152.45" y2="36.43" stroke="#c49a9a" stroke-width="0.8"/>
<text transform="translate(153.85,38.72) scale(1,1.1)" font-size="6.3">24.923</text>
<line x1="171.80" y1="36.43" x2="184.60" y2="36.43" stroke="#bcbc66" stroke-width="0.8"/>
<text transform="translate(186.00,38.72) scale(1,1.1)" font-size="6.3">23.148</text>
<line x1="203.95" y1="36.43" x2="216.75" y2="36.43" stroke="#f2a070" stroke-width="0.8"/>
<text transform="translate(218.15,38.72) scale(1,1.1)" font-size="6.3">23.315</text>
<line x1="43.20" y1="44.42" x2="56.00" y2="44.42" stroke="#98bcf0" stroke-width="0.8"/>
<text transform="translate(57.40,46.71) scale(1,1.1)" font-size="6.3">22.828</text>
<line x1="75.35" y1="44.42" x2="88.15" y2="44.42" stroke="#86c466" stroke-width="0.8"/>
<text transform="translate(89.55,46.71) scale(1,1.1)" font-size="6.3">24.568</text>
<line x1="107.50" y1="44.42" x2="120.30" y2="44.42" stroke="#949494" stroke-width="0.8"/>
<text transform="translate(121.70,46.71) scale(1,1.1)" font-size="6.3">24.506</text>
<line x1="139.65" y1="44.42" x2="152.45" y2="44.42" stroke="#f28888" stroke-width="0.8"/>
<text transform="translate(153.85,46.71) scale(1,1.1)" font-size="6.3">24.636</text>
<line x1="171.80" y1="44.42" x2="184.60" y2="44.42" stroke="#5a92e0" stroke-width="0.8"/>
<text transform="translate(186.00,46.71) scale(1,1.1)" font-size="6.3">24.830</text>
<line x1="203.95" y1="44.42" x2="216.75" y2="44.42" stroke="#66c4a4" stroke-width="0.8"/>
<text transform="translate(218.15,46.71) scale(1,1.1)" font-size="6.3">25.143</text>
<line x1="43.20" y1="52.41" x2="56.00" y2="52.41" stroke="#e2ccf4" stroke-width="0.8"/>
<text transform="translate(57.40,54.70) scale(1,1.1)" font-size="6.3">23.558</text>
<line x1="75.35" y1="52.41" x2="88.15" y2="52.41" stroke="#f0d4a0" stroke-width="0.8"/>
<text transform="translate(89.55,54.70) scale(1,1.1)" font-size="6.3">23.314</text>
<line x1="107.50" y1="52.41" x2="120.30" y2="52.41" stroke="#9ae4e8" stroke-width="0.8"/>
<text transform="translate(121.70,54.70) scale(1,1.1)" font-size="6.3">23.383</text>
<line x1="139.65" y1="52.41" x2="152.45" y2="52.41" stroke="#cccccc" stroke-width="0.8"/>
<text transform="translate(153.85,54.70) scale(1,1.1)" font-size="6.3">22.720</text>
<line x1="43.20" y1="60.40" x2="56.00" y2="60.40" stroke="#d4d8a4" stroke-width="0.8"/>
<text transform="translate(57.40,62.69) scale(1,1.1)" font-size="6.3">20.793</text>
<line x1="75.35" y1="60.40" x2="88.15" y2="60.40" stroke="#f6b898" stroke-width="0.8"/>
<text transform="translate(89.55,62.69) scale(1,1.1)" font-size="6.3">23.814</text>
<line x1="107.50" y1="60.40" x2="120.30" y2="60.40" stroke="#b4ccf0" stroke-width="0.8"/>
<text transform="translate(121.70,62.69) scale(1,1.1)" font-size="6.3">22.740</text>
<line x1="139.65" y1="60.40" x2="152.45" y2="60.40" stroke="#9ad070" stroke-width="0.8"/>
<text transform="translate(153.85,62.69) scale(1,1.1)" font-size="6.3">23.489</text>
<line x1="43.20" y1="68.39" x2="56.00" y2="68.39" stroke="#d8d8d8" stroke-width="0.8"/>
<text transform="translate(57.40,70.68) scale(1,1.1)" font-size="6.3">23.848</text>
<line x1="75.35" y1="68.39" x2="88.15" y2="68.39" stroke="#f8c0c0" stroke-width="0.8"/>
<text transform="translate(89.55,70.68) scale(1,1.1)" font-size="6.3">20.780</text>
<line x1="107.50" y1="68.39" x2="120.30" y2="68.39" stroke="#c4d0f4" stroke-width="0.8"/>
<text transform="translate(121.70,70.68) scale(1,1.1)" font-size="6.3">23.510</text>
<line x1="139.65" y1="68.39" x2="152.45" y2="68.39" stroke="#b0dcc4" stroke-width="0.8"/>
<text transform="translate(153.85,70.68) scale(1,1.1)" font-size="6.3">21.456</text>
<line x1="43.20" y1="76.38" x2="56.00" y2="76.38" stroke="#e0ccf0" stroke-width="0.8"/>
<text transform="translate(57.40,78.67) scale(1,1.1)" font-size="6.3">22.594</text>
<line x1="75.35" y1="76.38" x2="88.15" y2="76.38" stroke="#f2d6a4" stroke-width="0.8"/>
<text transform="translate(89.55,78.67) scale(1,1.1)" font-size="6.3">24.580</text>
<line x1="107.50" y1="76.38" x2="120.30" y2="76.38" stroke="#a8e8ec" stroke-width="0.8"/>
<text transform="translate(121.70,78.67) scale(1,1.1)" font-size="6.3">23.303</text>
<line x1="139.65" y1="76.38" x2="152.45" y2="76.38" stroke="#d4b8b8" stroke-width="0.8"/>
<text transform="translate(153.85,78.67) scale(1,1.1)" font-size="6.3">20.282</text>
<line x1="43.20" y1="84.37" x2="56.00" y2="84.37" stroke="#cfd49c" stroke-width="0.8"/>
<text transform="translate(57.40,86.66) scale(1,1.1)" font-size="6.3">22.582</text>
<line x1="75.35" y1="84.37" x2="88.15" y2="84.37" stroke="#f6b088" stroke-width="0.8"/>
<text transform="translate(89.55,86.66) scale(1,1.1)" font-size="6.3">15.761</text>
<line x1="107.50" y1="84.37" x2="120.30" y2="84.37" stroke="#aac4ee" stroke-width="0.8"/>
<text transform="translate(121.70,86.66) scale(1,1.1)" font-size="6.3">15.417</text>
<line x1="139.65" y1="84.37" x2="152.45" y2="84.37" stroke="#b4cc70" stroke-width="0.8"/>
<text transform="translate(153.85,86.66) scale(1,1.1)" font-size="6.3">21.429</text>
<line x1="43.20" y1="92.36" x2="56.00" y2="92.36" stroke="#c8c8c8" stroke-width="0.8"/>
<text transform="translate(57.40,94.65) scale(1,1.1)" font-size="6.3">21.401</text>
<line x1="75.35" y1="92.36" x2="88.15" y2="92.36" stroke="#f6a8a8" stroke-width="0.8"/>
<text transform="translate(89.55,94.65) scale(1,1.1)" font-size="6.3">22.331</text>
<line x1="107.50" y1="92.36" x2="120.30" y2="92.36" stroke="#8cb0ee" stroke-width="0.8"/>
<text transform="translate(121.70,94.65) scale(1,1.1)" font-size="6.3">20.564</text>
<text transform="translate(436.80,16.75) scale(1,1.0)" font-size="6.5">Sandy soil (g/kg)</text>
<line x1="436.80" y1="21.80" x2="451.20" y2="21.80" stroke="#8a8a8a" stroke-width="0.8"/>
<text transform="translate(452.80,24.16) scale(1,1.1)" font-size="6.5">21.478</text>
<line x1="471.03" y1="21.80" x2="485.43" y2="21.80" stroke="#f07878" stroke-width="0.8"/>
<text transform="translate(487.03,24.16) scale(1,1.1)" font-size="6.5">22.391</text>
<line x1="505.26" y1="21.80" x2="519.66" y2="21.80" stroke="#6a98e0" stroke-width="0.8"/>
<text transform="translate(521.26,24.16) scale(1,1.1)" font-size="6.5">18.85</text>
<line x1="539.49" y1="21.80" x2="553.89" y2="21.80" stroke="#6cc4a0" stroke-width="0.8"/>
<text transform="translate(555.49,24.16) scale(1,1.1)" font-size="6.5">11.682</text>
<line x1="436.80" y1="30.00" x2="451.20" y2="30.00" stroke="#c8a0f0" stroke-width="0.8"/>
<text transform="translate(452.80,32.36) scale(1,1.1)" font-size="6.5">15.347</text>
<line x1="471.03" y1="30.00" x2="485.43" y2="30.00" stroke="#e0b860" stroke-width="0.8"/>
<text transform="translate(487.03,32.36) scale(1,1.1)" font-size="6.5">21.733</text>
<line x1="505.26" y1="30.00" x2="519.66" y2="30.00" stroke="#50d0d8" stroke-width="0.8"/>
<text transform="translate(521.26,32.36) scale(1,1.1)" font-size="6.5">7.199</text>
<line x1="539.49" y1="30.00" x2="553.89" y2="30.00" stroke="#b89090" stroke-width="0.8"/>
<text transform="translate(555.49,32.36) scale(1,1.1)" font-size="6.5">22.638</text>
<line x1="436.80" y1="38.20" x2="451.20" y2="38.20" stroke="#b0b050" stroke-width="0.8"/>
<text transform="translate(452.80,40.56) scale(1,1.1)" font-size="6.5">24.777</text>
<line x1="471.03" y1="38.20" x2="485.43" y2="38.20" stroke="#f08848" stroke-width="0.8"/>
<text transform="translate(487.03,40.56) scale(1,1.1)" font-size="6.5">25.267</text>
<line x1="505.26" y1="38.20" x2="519.66" y2="38.20" stroke="#88b0e8" stroke-width="0.8"/>
<text transform="translate(521.26,40.56) scale(1,1.1)" font-size="6.5">25.403</text>
<line x1="539.49" y1="38.20" x2="553.89" y2="38.20" stroke="#90d050" stroke-width="0.8"/>
<text transform="translate(555.49,40.56) scale(1,1.1)" font-size="6.5">21.568</text>
<line x1="436.80" y1="46.40" x2="451.20" y2="46.40" stroke="#a0a0a0" stroke-width="0.8"/>
<text transform="translate(452.80,48.76) scale(1,1.1)" font-size="6.5">26.128</text>
<line x1="471.03" y1="46.40" x2="485.43" y2="46.40" stroke="#f09090" stroke-width="0.8"/>
<text transform="translate(487.03,48.76) scale(1,1.1)" font-size="6.5">21.500</text>
<line x1="505.26" y1="46.40" x2="519.66" y2="46.40" stroke="#70a0e8" stroke-width="0.8"/>
<text transform="translate(521.26,48.76) scale(1,1.1)" font-size="6.5">18.708</text>
<line x1="539.49" y1="46.40" x2="553.89" y2="46.40" stroke="#70c8a8" stroke-width="0.8"/>
<text transform="translate(555.49,48.76) scale(1,1.1)" font-size="6.5">21.944</text>
<line x1="436.80" y1="54.60" x2="451.20" y2="54.60" stroke="#d8bcf4" stroke-width="0.8"/>
<text transform="translate(452.80,56.96) scale(1,1.1)" font-size="6.5">18.721</text>
<line x1="471.03" y1="54.60" x2="485.43" y2="54.60" stroke="#e8c880" stroke-width="0.8"/>
<text transform="translate(487.03,56.96) scale(1,1.1)" font-size="6.5">23.138</text>
<line x1="505.26" y1="54.60" x2="519.66" y2="54.60" stroke="#70d8e0" stroke-width="0.8"/>
<text transform="translate(521.26,56.96) scale(1,1.1)" font-size="6.5">20.976</text>
<line x1="539.49" y1="54.60" x2="553.89" y2="54.60" stroke="#c0a4a4" stroke-width="0.8"/>
<text transform="translate(555.49,56.96) scale(1,1.1)" font-size="6.5">18.227</text>
<line x1="436.80" y1="62.80" x2="451.20" y2="62.80" stroke="#c4c888" stroke-width="0.8"/>
<text transform="translate(452.80,65.16) scale(1,1.1)" font-size="6.5">20.341</text>
<line x1="471.03" y1="62.80" x2="485.43" y2="62.80" stroke="#f4a880" stroke-width="0.8"/>
<text transform="translate(487.03,65.16) scale(1,1.1)" font-size="6.5">18.869</text>
<line x1="505.26" y1="62.80" x2="519.66" y2="62.80" stroke="#a0c0f0" stroke-width="0.8"/>
<text transform="translate(521.26,65.16) scale(1,1.1)" font-size="6.5">16.194</text>
<line x1="539.49" y1="62.80" x2="553.89" y2="62.80" stroke="#a0d878" stroke-width="0.8"/>
<text transform="translate(555.49,65.16) scale(1,1.1)" font-size="6.5">16.602</text>
<line x1="436.80" y1="71.00" x2="451.20" y2="71.00" stroke="#d0d0d0" stroke-width="0.8"/>
<text transform="translate(452.80,73.36) scale(1,1.1)" font-size="6.5">18.931</text>
<line x1="471.03" y1="71.00" x2="485.43" y2="71.00" stroke="#f8b8b8" stroke-width="0.8"/>
<text transform="translate(487.03,73.36) scale(1,1.1)" font-size="6.5">19.397</text>
<line x1="505.26" y1="71.00" x2="519.66" y2="71.00" stroke="#b8c8f4" stroke-width="0.8"/>
<text transform="translate(521.26,73.36) scale(1,1.1)" font-size="6.5">12.773</text>
<line x1="539.49" y1="71.00" x2="553.89" y2="71.00" stroke="#a8dcc4" stroke-width="0.8"/>
<text transform="translate(555.49,73.36) scale(1,1.1)" font-size="6.5">16.071</text>
<line x1="436.80" y1="79.20" x2="451.20" y2="79.20" stroke="#dcc8f4" stroke-width="0.8"/>
<text transform="translate(452.80,81.56) scale(1,1.1)" font-size="6.5">11.815</text>
<line x1="471.03" y1="79.20" x2="485.43" y2="79.20" stroke="#ecd098" stroke-width="0.8"/>
<text transform="translate(487.03,81.56) scale(1,1.1)" font-size="6.5">11.684</text>
<line x1="505.26" y1="79.20" x2="519.66" y2="79.20" stroke="#80dce4" stroke-width="0.8"/>
<text transform="translate(521.26,81.56) scale(1,1.1)" font-size="6.5">20.393</text>
<line x1="539.49" y1="79.20" x2="553.89" y2="79.20" stroke="#c8b0b0" stroke-width="0.8"/>
<text transform="translate(555.49,81.56) scale(1,1.1)" font-size="6.5">15.593</text>
<line x1="436.80" y1="87.40" x2="451.20" y2="87.40" stroke="#e0e0c0" stroke-width="0.8"/>
<text transform="translate(452.80,89.76) scale(1,1.1)" font-size="6.5">27.182</text>
<text x="355" y="28" text-anchor="middle" font-size="19" font-weight="bold" style="fill:#111">(a)</text>
<text x="745" y="28" text-anchor="middle" font-size="19" font-weight="bold" style="fill:#111">(b)</text>
</svg></body></html>
